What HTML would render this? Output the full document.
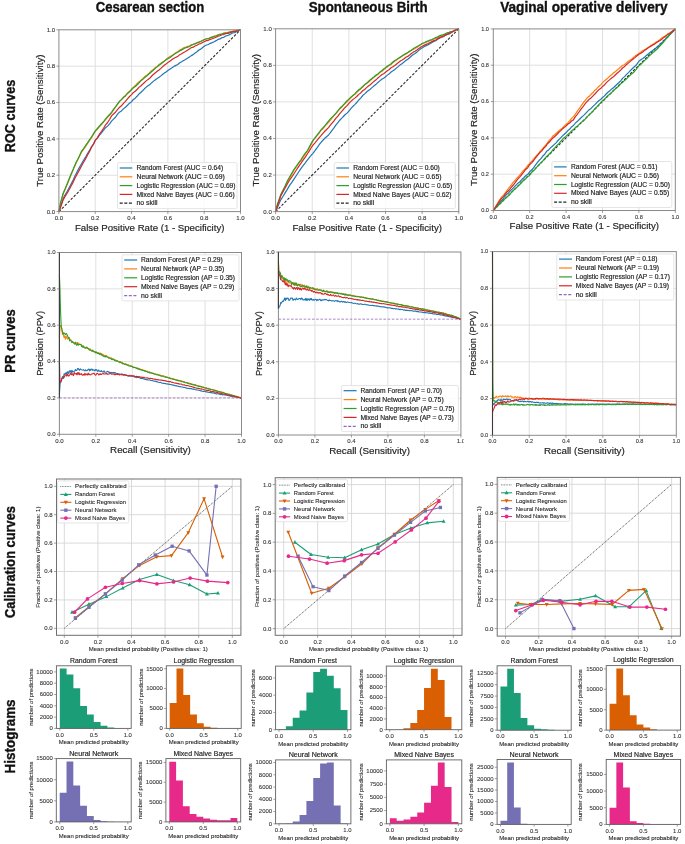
<!DOCTYPE html>
<html><head><meta charset="utf-8"><style>
html,body{margin:0;padding:0;background:#fff;width:685px;height:844px;overflow:hidden}
svg{display:block;font-family:"Liberation Sans", sans-serif;will-change:transform}
</style></head><body>
<svg width="685" height="844" viewBox="0 0 685 844">
<rect width="685" height="844" fill="#fff"/>
<text x="150.00" y="12.00" font-size="14.50" text-anchor="middle" fill="#111" font-weight="bold" textLength="108.50" lengthAdjust="spacingAndGlyphs" stroke="#111" stroke-width="0.35">Cesarean section</text>
<text x="368.20" y="12.00" font-size="14.50" text-anchor="middle" fill="#111" font-weight="bold" textLength="119.00" lengthAdjust="spacingAndGlyphs" stroke="#111" stroke-width="0.35">Spontaneous Birth</text>
<text x="583.90" y="12.00" font-size="14.50" text-anchor="middle" fill="#111" font-weight="bold" textLength="167.50" lengthAdjust="spacingAndGlyphs" stroke="#111" stroke-width="0.35">Vaginal operative delivery</text>
<text x="15.00" y="116.00" font-size="14.50" text-anchor="middle" fill="#111" font-weight="bold" transform="rotate(-90 15.00 116.00)" textLength="72.50" lengthAdjust="spacingAndGlyphs" stroke="#111" stroke-width="0.35">ROC curves</text>
<text x="15.00" y="341.00" font-size="14.50" text-anchor="middle" fill="#111" font-weight="bold" transform="rotate(-90 15.00 341.00)" textLength="63.50" lengthAdjust="spacingAndGlyphs" stroke="#111" stroke-width="0.35">PR curves</text>
<text x="15.00" y="562.00" font-size="14.50" text-anchor="middle" fill="#111" font-weight="bold" transform="rotate(-90 15.00 562.00)" textLength="112.00" lengthAdjust="spacingAndGlyphs" stroke="#111" stroke-width="0.35">Calibration curves</text>
<text x="15.50" y="736.40" font-size="14.50" text-anchor="middle" fill="#111" font-weight="bold" transform="rotate(-90 15.50 736.40)" textLength="74.00" lengthAdjust="spacingAndGlyphs" stroke="#111" stroke-width="0.35">Histograms</text>
<line x1="95.22" y1="29.8" x2="95.22" y2="211.6" stroke="#dcdcdc" stroke-width="0.9"/>
<line x1="131.54" y1="29.8" x2="131.54" y2="211.6" stroke="#dcdcdc" stroke-width="0.9"/>
<line x1="167.86" y1="29.8" x2="167.86" y2="211.6" stroke="#dcdcdc" stroke-width="0.9"/>
<line x1="204.18" y1="29.8" x2="204.18" y2="211.6" stroke="#dcdcdc" stroke-width="0.9"/>
<line x1="58.9" y1="175.24" x2="240.5" y2="175.24" stroke="#dcdcdc" stroke-width="0.9"/>
<line x1="58.9" y1="138.88" x2="240.5" y2="138.88" stroke="#dcdcdc" stroke-width="0.9"/>
<line x1="58.9" y1="102.52" x2="240.5" y2="102.52" stroke="#dcdcdc" stroke-width="0.9"/>
<line x1="58.9" y1="66.16" x2="240.5" y2="66.16" stroke="#dcdcdc" stroke-width="0.9"/>
<path d="M58.90,211.60 L240.50,29.80" fill="none" stroke="#2a2a2a" stroke-width="1.1" stroke-linejoin="round" stroke-dasharray="2.6 1.6" opacity="1"/>
<path d="M58.90,211.60 L61.08,204.98 L63.26,198.21 L65.26,194.53 L67.25,191.22 L69.25,187.64 L71.25,183.69 L73.29,179.72 L75.33,175.29 L77.38,171.33 L79.42,167.35 L81.42,163.97 L83.42,160.49 L85.41,157.45 L87.41,153.83 L89.41,150.67 L91.41,146.77 L93.40,144.01 L95.40,140.11 L97.44,138.09 L99.49,135.11 L101.53,132.81 L103.57,130.22 L105.57,127.73 L107.57,126.13 L109.57,123.92 L111.56,121.13 L113.52,119.19 L115.47,117.26 L117.42,114.40 L119.37,112.20 L121.40,110.94 L123.43,108.88 L125.46,107.23 L127.48,105.26 L129.51,103.19 L131.54,101.66 L133.38,99.50 L135.22,98.15 L137.06,96.27 L138.89,94.03 L140.73,92.52 L142.57,90.71 L144.41,88.80 L146.25,87.08 L148.08,85.74 L149.91,84.57 L151.74,82.68 L153.57,81.11 L155.41,79.69 L157.24,78.50 L159.07,77.30 L160.90,75.89 L162.73,74.26 L164.56,72.86 L166.39,71.83 L168.22,70.34 L170.15,69.06 L172.07,67.76 L173.99,66.36 L175.91,65.37 L177.83,64.50 L179.75,62.76 L181.68,61.83 L183.60,60.57 L185.52,59.58 L187.44,58.24 L189.36,57.07 L191.29,55.61 L193.18,54.66 L195.07,52.96 L196.97,51.81 L198.86,50.06 L200.76,49.10 L202.65,47.53 L204.54,46.08 L206.47,45.00 L208.39,44.50 L210.32,43.33 L212.24,42.61 L214.17,41.67 L216.09,40.65 L218.02,39.44 L219.94,38.87 L221.87,37.66 L223.79,37.29 L225.65,35.98 L227.51,35.55 L229.36,34.85 L231.22,33.68 L233.07,32.76 L234.93,32.55 L236.79,31.57 L238.64,30.43 L240.50,29.80" fill="none" stroke="#1f77b4" stroke-width="1.2" stroke-linejoin="round" opacity="1"/>
<path d="M58.90,211.60 L60.35,203.90 L63.26,193.60 L65.26,189.11 L67.25,184.50 L69.25,179.23 L71.25,174.22 L73.61,168.58 L75.97,163.56 L77.79,159.80 L79.60,156.09 L81.42,152.22 L83.42,149.60 L85.41,146.85 L87.41,143.61 L89.41,140.66 L91.41,137.88 L93.40,134.36 L95.40,131.26 L97.44,129.02 L99.49,126.60 L101.53,124.65 L103.57,121.99 L105.57,119.51 L107.57,117.30 L109.57,115.08 L111.56,112.98 L113.61,109.93 L115.65,106.99 L117.69,103.96 L119.74,101.10 L121.70,99.38 L123.67,97.05 L125.64,95.42 L127.61,92.97 L129.57,91.09 L131.54,89.41 L133.43,87.13 L135.32,85.57 L137.21,83.50 L139.09,81.82 L140.98,80.51 L143.03,78.37 L145.08,76.32 L147.13,74.96 L149.18,73.11 L151.23,70.94 L153.28,69.62 L155.33,67.57 L157.17,66.39 L159.01,64.49 L160.86,63.20 L162.70,62.04 L164.54,60.89 L166.38,59.32 L168.22,57.79 L170.22,56.20 L172.22,55.47 L174.22,53.87 L176.21,52.46 L178.21,51.27 L180.21,49.79 L182.21,48.68 L184.07,47.63 L185.93,47.12 L187.79,46.38 L189.65,45.71 L191.51,44.85 L193.37,44.24 L195.24,43.35 L197.10,42.79 L198.96,42.10 L200.82,41.34 L202.68,40.30 L204.54,39.51 L206.47,39.01 L208.39,38.66 L210.32,37.59 L212.24,36.89 L214.17,36.24 L216.09,35.68 L218.02,35.03 L219.94,34.39 L221.87,34.03 L223.79,33.51 L225.65,32.90 L227.51,32.78 L229.36,32.02 L231.22,31.59 L233.07,31.16 L234.93,30.95 L236.79,30.31 L238.64,30.15 L240.50,29.80" fill="none" stroke="#ff7f0e" stroke-width="1.2" stroke-linejoin="round" opacity="1"/>
<path d="M58.90,211.60 L60.35,203.61 L63.26,193.02 L65.26,188.42 L67.25,183.53 L69.25,178.42 L71.25,173.74 L73.61,168.41 L75.97,162.45 L77.79,159.23 L79.60,155.61 L81.42,151.43 L83.42,148.90 L85.41,145.73 L87.41,143.08 L89.41,139.92 L91.41,137.22 L93.40,133.83 L95.40,130.62 L97.44,128.50 L99.49,125.98 L101.53,123.67 L103.57,121.74 L105.57,118.88 L107.57,116.64 L109.57,114.48 L111.56,112.30 L113.61,109.08 L115.65,106.72 L117.69,103.91 L119.74,101.16 L121.70,99.34 L123.67,97.26 L125.64,95.69 L127.61,93.46 L129.57,91.77 L131.54,89.49 L133.43,87.75 L135.32,86.51 L137.21,84.70 L139.09,82.86 L140.98,80.56 L143.03,79.14 L145.08,77.21 L147.13,75.65 L149.18,73.71 L151.23,72.00 L153.28,70.24 L155.33,68.28 L157.17,66.88 L159.01,65.26 L160.86,64.01 L162.70,62.44 L164.54,61.08 L166.38,59.59 L168.22,58.41 L170.22,57.46 L172.22,55.68 L174.22,54.31 L176.21,53.05 L178.21,51.98 L180.21,50.59 L182.21,49.63 L184.07,48.39 L185.93,47.75 L187.79,47.13 L189.65,46.46 L191.51,45.10 L193.37,44.20 L195.24,43.99 L197.10,42.69 L198.96,42.13 L200.82,41.49 L202.68,40.57 L204.54,39.44 L206.47,38.75 L208.39,38.69 L210.32,37.69 L212.24,37.45 L214.17,36.38 L216.09,36.02 L218.02,35.04 L219.94,34.35 L221.87,34.05 L223.79,33.10 L225.65,33.16 L227.51,32.91 L229.36,32.16 L231.22,32.13 L233.07,31.62 L234.93,31.07 L236.79,30.54 L238.64,30.43 L240.50,29.80" fill="none" stroke="#2ca02c" stroke-width="1.2" stroke-linejoin="round" opacity="1"/>
<path d="M58.90,211.60 L61.08,205.71 L63.26,199.67 L65.26,196.12 L67.25,192.95 L69.25,189.50 L71.25,185.69 L73.29,181.86 L75.33,177.56 L77.38,173.74 L79.42,169.89 L81.42,166.24 L83.42,162.49 L85.41,159.18 L87.41,155.28 L89.41,151.76 L91.41,147.50 L93.40,144.38 L95.40,140.11 L97.44,137.59 L99.49,134.11 L101.53,131.31 L103.57,128.22 L105.57,124.91 L107.57,122.50 L109.57,119.47 L111.56,115.86 L113.52,114.06 L115.47,112.26 L117.42,109.54 L119.37,107.48 L121.40,105.82 L123.43,103.36 L125.46,101.32 L127.48,98.95 L129.51,96.50 L131.54,94.57 L133.38,92.52 L135.22,91.29 L137.06,89.52 L138.89,87.39 L140.73,86.00 L142.57,84.31 L144.41,82.50 L146.25,80.90 L148.08,79.39 L149.91,78.06 L151.74,76.00 L153.57,74.26 L155.41,72.68 L157.24,71.32 L159.07,69.96 L160.90,68.38 L162.73,66.57 L164.56,65.01 L166.39,63.82 L168.22,62.16 L170.15,60.89 L172.07,59.61 L173.99,58.22 L175.91,57.25 L177.83,56.39 L179.75,54.67 L181.68,53.75 L183.60,52.51 L185.52,51.53 L187.44,50.21 L189.36,49.06 L191.29,47.61 L193.18,47.16 L195.07,45.95 L196.97,45.29 L198.86,44.03 L200.76,43.56 L202.65,42.49 L204.54,41.54 L206.47,40.63 L208.39,40.32 L210.32,39.34 L212.24,38.79 L214.17,38.04 L216.09,37.20 L218.02,36.17 L219.94,35.78 L221.87,34.75 L223.79,34.57 L225.65,33.56 L227.51,33.43 L229.36,33.04 L231.22,32.16 L233.07,31.55 L234.93,31.64 L236.79,30.96 L238.64,30.13 L240.50,29.80" fill="none" stroke="#d62728" stroke-width="1.2" stroke-linejoin="round" opacity="1"/>
<rect x="58.9" y="29.8" width="181.60" height="181.80" fill="none" stroke="#8a8a8a" stroke-width="1.0"/>
<line x1="58.90" y1="211.6" x2="58.90" y2="214.1" stroke="#777" stroke-width="0.7"/>
<text x="58.90" y="219.81" font-size="5.72" text-anchor="middle" fill="#333" textLength="8.43" lengthAdjust="spacingAndGlyphs" stroke="#333" stroke-width="0.09">0.0</text>
<line x1="95.22" y1="211.6" x2="95.22" y2="214.1" stroke="#777" stroke-width="0.7"/>
<text x="95.22" y="219.81" font-size="5.72" text-anchor="middle" fill="#333" textLength="8.43" lengthAdjust="spacingAndGlyphs" stroke="#333" stroke-width="0.09">0.2</text>
<line x1="131.54" y1="211.6" x2="131.54" y2="214.1" stroke="#777" stroke-width="0.7"/>
<text x="131.54" y="219.81" font-size="5.72" text-anchor="middle" fill="#333" textLength="8.43" lengthAdjust="spacingAndGlyphs" stroke="#333" stroke-width="0.09">0.4</text>
<line x1="167.86" y1="211.6" x2="167.86" y2="214.1" stroke="#777" stroke-width="0.7"/>
<text x="167.86" y="219.81" font-size="5.72" text-anchor="middle" fill="#333" textLength="8.43" lengthAdjust="spacingAndGlyphs" stroke="#333" stroke-width="0.09">0.6</text>
<line x1="204.18" y1="211.6" x2="204.18" y2="214.1" stroke="#777" stroke-width="0.7"/>
<text x="204.18" y="219.81" font-size="5.72" text-anchor="middle" fill="#333" textLength="8.43" lengthAdjust="spacingAndGlyphs" stroke="#333" stroke-width="0.09">0.8</text>
<line x1="240.50" y1="211.6" x2="240.50" y2="214.1" stroke="#777" stroke-width="0.7"/>
<text x="240.50" y="219.81" font-size="5.72" text-anchor="middle" fill="#333" textLength="8.43" lengthAdjust="spacingAndGlyphs" stroke="#333" stroke-width="0.09">1.0</text>
<line x1="56.4" y1="211.60" x2="58.9" y2="211.60" stroke="#777" stroke-width="0.7"/>
<text x="55.10" y="213.51" font-size="5.72" text-anchor="end" fill="#333" textLength="8.43" lengthAdjust="spacingAndGlyphs" stroke="#333" stroke-width="0.09">0.0</text>
<line x1="56.4" y1="175.24" x2="58.9" y2="175.24" stroke="#777" stroke-width="0.7"/>
<text x="55.10" y="177.15" font-size="5.72" text-anchor="end" fill="#333" textLength="8.43" lengthAdjust="spacingAndGlyphs" stroke="#333" stroke-width="0.09">0.2</text>
<line x1="56.4" y1="138.88" x2="58.9" y2="138.88" stroke="#777" stroke-width="0.7"/>
<text x="55.10" y="140.79" font-size="5.72" text-anchor="end" fill="#333" textLength="8.43" lengthAdjust="spacingAndGlyphs" stroke="#333" stroke-width="0.09">0.4</text>
<line x1="56.4" y1="102.52" x2="58.9" y2="102.52" stroke="#777" stroke-width="0.7"/>
<text x="55.10" y="104.43" font-size="5.72" text-anchor="end" fill="#333" textLength="8.43" lengthAdjust="spacingAndGlyphs" stroke="#333" stroke-width="0.09">0.6</text>
<line x1="56.4" y1="66.16" x2="58.9" y2="66.16" stroke="#777" stroke-width="0.7"/>
<text x="55.10" y="68.07" font-size="5.72" text-anchor="end" fill="#333" textLength="8.43" lengthAdjust="spacingAndGlyphs" stroke="#333" stroke-width="0.09">0.8</text>
<line x1="56.4" y1="29.80" x2="58.9" y2="29.80" stroke="#777" stroke-width="0.7"/>
<text x="55.10" y="31.71" font-size="5.72" text-anchor="end" fill="#333" textLength="8.43" lengthAdjust="spacingAndGlyphs" stroke="#333" stroke-width="0.09">1.0</text>
<text x="149.70" y="230.50" font-size="9.40" text-anchor="middle" fill="#262626" textLength="149.46" lengthAdjust="spacingAndGlyphs" stroke="#262626" stroke-width="0.18">False Positive Rate (1 - Specificity)</text>
<text x="42.60" y="120.70" font-size="9.40" text-anchor="middle" fill="#262626" transform="rotate(-90 42.60 120.70)" textLength="132.35" lengthAdjust="spacingAndGlyphs" stroke="#262626" stroke-width="0.18">True Positive Rate (Sensitivity)</text>
<rect x="117.50" y="162.60" width="119.50" height="46.00" rx="1.5" fill="#fff" fill-opacity="0.85" stroke="#dedede" stroke-width="0.8"/>
<line x1="119.70" y1="168.00" x2="132.30" y2="168.00" stroke="#1f77b4" stroke-width="1.2"/>
<text x="136.50" y="170.16" font-size="6.48" text-anchor="start" fill="#262626" textLength="86.64" lengthAdjust="spacingAndGlyphs" stroke="#262626" stroke-width="0.18">Random Forest (AUC = 0.64)</text>
<line x1="119.70" y1="176.80" x2="132.30" y2="176.80" stroke="#ff7f0e" stroke-width="1.2"/>
<text x="136.50" y="178.96" font-size="6.48" text-anchor="start" fill="#262626" textLength="88.23" lengthAdjust="spacingAndGlyphs" stroke="#262626" stroke-width="0.18">Neural Network (AUC = 0.69)</text>
<line x1="119.70" y1="185.60" x2="132.30" y2="185.60" stroke="#2ca02c" stroke-width="1.2"/>
<text x="136.50" y="187.76" font-size="6.48" text-anchor="start" fill="#262626" textLength="99.03" lengthAdjust="spacingAndGlyphs" stroke="#262626" stroke-width="0.18">Logistic Regression (AUC = 0.69)</text>
<line x1="119.70" y1="194.40" x2="132.30" y2="194.40" stroke="#d62728" stroke-width="1.2"/>
<text x="136.50" y="196.56" font-size="6.48" text-anchor="start" fill="#262626" textLength="98.24" lengthAdjust="spacingAndGlyphs" stroke="#262626" stroke-width="0.18">Mixed Naive Bayes (AUC = 0.66)</text>
<line x1="119.70" y1="203.20" x2="132.30" y2="203.20" stroke="#222" stroke-width="1.2" stroke-dasharray="3.0 1.6"/>
<text x="136.50" y="205.36" font-size="6.48" text-anchor="start" fill="#262626" textLength="20.98" lengthAdjust="spacingAndGlyphs" stroke="#262626" stroke-width="0.18">no skill</text>
<line x1="312.24" y1="28.8" x2="312.24" y2="211.6" stroke="#dcdcdc" stroke-width="0.9"/>
<line x1="348.88" y1="28.8" x2="348.88" y2="211.6" stroke="#dcdcdc" stroke-width="0.9"/>
<line x1="385.52" y1="28.8" x2="385.52" y2="211.6" stroke="#dcdcdc" stroke-width="0.9"/>
<line x1="422.16" y1="28.8" x2="422.16" y2="211.6" stroke="#dcdcdc" stroke-width="0.9"/>
<line x1="275.6" y1="175.04" x2="458.8" y2="175.04" stroke="#dcdcdc" stroke-width="0.9"/>
<line x1="275.6" y1="138.48" x2="458.8" y2="138.48" stroke="#dcdcdc" stroke-width="0.9"/>
<line x1="275.6" y1="101.92" x2="458.8" y2="101.92" stroke="#dcdcdc" stroke-width="0.9"/>
<line x1="275.6" y1="65.36" x2="458.8" y2="65.36" stroke="#dcdcdc" stroke-width="0.9"/>
<path d="M275.60,211.60 L458.80,28.80" fill="none" stroke="#2a2a2a" stroke-width="1.1" stroke-linejoin="round" stroke-dasharray="2.6 1.6" opacity="1"/>
<path d="M275.60,211.60 L278.16,205.71 L280.73,199.88 L282.93,196.47 L285.13,192.89 L287.32,189.38 L289.58,185.40 L291.84,182.38 L294.10,178.95 L296.36,175.46 L298.62,172.04 L300.88,168.58 L303.08,165.70 L305.28,162.89 L307.48,159.81 L309.31,157.63 L311.14,155.25 L312.97,153.32 L314.99,150.71 L317.00,147.92 L319.02,144.98 L321.03,142.40 L322.90,140.25 L324.77,138.30 L326.64,136.68 L328.51,135.00 L330.38,132.65 L332.25,130.03 L334.13,127.68 L336.01,124.89 L337.89,122.54 L339.72,120.21 L341.55,118.38 L343.38,116.52 L345.22,114.52 L347.05,113.14 L348.88,111.03 L350.85,108.70 L352.82,106.46 L354.79,104.56 L356.76,102.54 L358.73,100.00 L360.70,98.17 L362.67,95.56 L364.64,93.85 L366.53,92.00 L368.43,90.43 L370.33,89.14 L372.23,87.34 L374.13,85.78 L376.03,84.33 L377.93,82.42 L379.82,80.89 L381.72,79.33 L383.62,78.23 L385.52,76.84 L387.37,75.13 L389.23,73.85 L391.08,71.98 L392.94,70.82 L394.79,69.45 L396.65,67.88 L398.50,66.34 L400.36,64.65 L402.21,63.39 L404.05,62.05 L405.90,60.35 L407.75,59.33 L409.60,57.77 L411.44,56.00 L413.29,54.51 L415.14,53.50 L416.98,52.08 L418.83,50.34 L420.68,48.79 L422.53,47.77 L424.41,46.48 L426.30,45.59 L428.19,44.71 L430.07,43.65 L431.96,42.56 L433.85,41.44 L435.74,40.67 L437.62,39.32 L439.51,38.14 L441.40,37.27 L443.33,36.73 L445.26,35.38 L447.20,34.44 L449.13,33.90 L451.06,32.70 L453.00,31.56 L454.93,30.41 L456.87,29.47 L458.80,28.80" fill="none" stroke="#1f77b4" stroke-width="1.2" stroke-linejoin="round" opacity="1"/>
<path d="M275.60,211.60 L277.43,204.97 L280.73,195.59 L282.93,190.71 L285.13,186.62 L287.32,181.78 L289.58,177.88 L291.84,174.08 L294.10,169.73 L296.36,166.90 L298.62,163.45 L300.88,160.54 L303.08,157.42 L305.28,154.07 L307.48,150.68 L309.31,147.83 L311.14,144.41 L312.97,140.77 L314.99,137.98 L317.00,135.68 L319.02,133.25 L321.03,130.28 L322.90,128.79 L324.77,126.05 L326.64,124.30 L328.51,122.24 L330.38,120.11 L332.39,117.64 L334.41,114.95 L336.42,113.07 L338.44,110.45 L340.53,108.22 L342.61,106.21 L344.70,103.90 L346.79,102.04 L348.88,99.85 L350.85,97.94 L352.82,95.81 L354.79,94.18 L356.76,92.45 L358.73,90.46 L360.70,88.75 L362.67,87.05 L364.64,84.90 L366.53,83.42 L368.43,82.19 L370.33,80.41 L372.23,78.90 L374.13,77.12 L376.03,75.67 L377.93,74.43 L379.82,72.41 L381.72,71.46 L383.62,69.70 L385.52,67.92 L387.37,66.99 L389.23,65.41 L391.08,64.37 L392.94,62.59 L394.79,61.18 L396.65,59.96 L398.50,58.41 L400.36,57.44 L402.21,56.06 L404.05,55.00 L405.90,53.88 L407.75,52.84 L409.60,51.45 L411.44,50.25 L413.29,49.44 L415.14,48.19 L416.98,47.47 L418.83,45.91 L420.68,44.82 L422.53,43.46 L424.41,42.77 L426.30,42.33 L428.19,41.45 L430.07,40.46 L431.96,40.09 L433.85,38.99 L435.74,38.38 L437.62,37.61 L439.51,36.85 L441.40,35.57 L443.33,35.22 L445.26,34.37 L447.20,33.50 L449.13,32.41 L451.06,32.17 L453.00,31.15 L454.93,30.31 L456.87,29.32 L458.80,28.80" fill="none" stroke="#ff7f0e" stroke-width="1.2" stroke-linejoin="round" opacity="1"/>
<path d="M275.60,211.60 L277.43,204.24 L280.73,194.83 L282.93,190.22 L285.13,185.98 L287.32,181.03 L289.58,177.00 L291.84,173.10 L294.10,169.44 L296.36,166.01 L298.62,162.98 L300.88,159.87 L303.08,156.25 L305.28,153.11 L307.48,150.69 L309.31,146.75 L311.14,143.59 L312.97,140.39 L314.99,137.90 L317.00,135.06 L319.02,132.66 L321.03,129.94 L322.90,127.80 L324.77,126.02 L326.64,123.41 L328.51,121.10 L330.38,118.95 L332.39,116.87 L334.41,114.95 L336.42,112.64 L338.44,110.22 L340.53,107.46 L342.61,105.71 L344.70,103.48 L346.79,100.91 L348.88,99.13 L350.85,97.16 L352.82,95.43 L354.79,93.88 L356.76,91.72 L358.73,89.73 L360.70,88.40 L362.67,86.55 L364.64,84.61 L366.53,83.33 L368.43,81.47 L370.33,79.70 L372.23,78.26 L374.13,76.80 L376.03,75.04 L377.93,73.98 L379.82,72.14 L381.72,70.73 L383.62,69.03 L385.52,67.82 L387.37,66.02 L389.23,65.13 L391.08,63.74 L392.94,61.95 L394.79,60.51 L396.65,59.51 L398.50,58.18 L400.36,56.94 L402.21,55.79 L404.05,54.43 L405.90,53.61 L407.75,52.52 L409.60,51.16 L411.44,50.23 L413.29,48.78 L415.14,47.53 L416.98,46.44 L418.83,45.51 L420.68,44.47 L422.53,43.29 L424.41,42.77 L426.30,41.49 L428.19,40.94 L430.07,40.15 L431.96,39.50 L433.85,38.45 L435.74,37.56 L437.62,36.88 L439.51,35.76 L441.40,35.08 L443.33,34.66 L445.26,33.76 L447.20,32.79 L449.13,32.34 L451.06,31.58 L453.00,31.22 L454.93,30.23 L456.87,29.54 L458.80,28.80" fill="none" stroke="#2ca02c" stroke-width="1.2" stroke-linejoin="round" opacity="1"/>
<path d="M275.60,211.60 L278.16,203.70 L280.73,195.85 L282.93,192.03 L285.13,188.01 L287.32,184.07 L289.58,180.04 L291.84,176.96 L294.10,173.47 L296.36,170.03 L298.62,166.68 L300.88,163.28 L303.08,160.16 L305.28,157.10 L307.48,153.78 L309.31,150.86 L311.14,147.75 L312.97,145.09 L314.99,142.85 L317.00,140.43 L319.02,137.86 L321.03,135.63 L322.90,133.34 L324.77,131.24 L326.64,129.47 L328.51,127.65 L330.38,125.16 L332.25,122.81 L334.13,120.73 L336.01,118.21 L337.89,116.14 L339.72,113.60 L341.55,111.56 L343.38,109.48 L345.22,107.27 L347.05,105.67 L348.88,103.35 L350.85,101.44 L352.82,99.61 L354.79,98.11 L356.76,96.51 L358.73,94.38 L360.70,92.96 L362.67,90.76 L364.64,89.47 L366.53,87.59 L368.43,86.01 L370.33,84.70 L372.23,82.89 L374.13,81.31 L376.03,79.84 L377.93,77.92 L379.82,76.37 L381.72,74.80 L383.62,73.68 L385.52,72.27 L387.37,70.68 L389.23,69.51 L391.08,67.76 L392.94,66.71 L394.79,65.45 L396.65,64.00 L398.50,62.57 L400.36,60.99 L402.21,59.92 L404.05,58.76 L405.90,57.24 L407.75,56.41 L409.60,55.03 L411.44,53.44 L413.29,52.13 L415.14,51.31 L416.98,50.07 L418.83,48.51 L420.68,47.14 L422.53,46.31 L424.41,45.13 L426.30,44.34 L428.19,43.58 L430.07,42.62 L431.96,41.65 L433.85,40.63 L435.74,39.97 L437.62,38.74 L439.51,37.67 L441.40,36.90 L443.33,36.40 L445.26,35.10 L447.20,34.19 L449.13,33.70 L451.06,32.53 L453.00,31.44 L454.93,30.33 L456.87,29.43 L458.80,28.80" fill="none" stroke="#d62728" stroke-width="1.2" stroke-linejoin="round" opacity="1"/>
<rect x="275.6" y="28.8" width="183.20" height="182.80" fill="none" stroke="#8a8a8a" stroke-width="1.0"/>
<line x1="275.60" y1="211.6" x2="275.60" y2="214.1" stroke="#777" stroke-width="0.7"/>
<text x="275.60" y="219.81" font-size="5.72" text-anchor="middle" fill="#333" textLength="8.43" lengthAdjust="spacingAndGlyphs" stroke="#333" stroke-width="0.09">0.0</text>
<line x1="312.24" y1="211.6" x2="312.24" y2="214.1" stroke="#777" stroke-width="0.7"/>
<text x="312.24" y="219.81" font-size="5.72" text-anchor="middle" fill="#333" textLength="8.43" lengthAdjust="spacingAndGlyphs" stroke="#333" stroke-width="0.09">0.2</text>
<line x1="348.88" y1="211.6" x2="348.88" y2="214.1" stroke="#777" stroke-width="0.7"/>
<text x="348.88" y="219.81" font-size="5.72" text-anchor="middle" fill="#333" textLength="8.43" lengthAdjust="spacingAndGlyphs" stroke="#333" stroke-width="0.09">0.4</text>
<line x1="385.52" y1="211.6" x2="385.52" y2="214.1" stroke="#777" stroke-width="0.7"/>
<text x="385.52" y="219.81" font-size="5.72" text-anchor="middle" fill="#333" textLength="8.43" lengthAdjust="spacingAndGlyphs" stroke="#333" stroke-width="0.09">0.6</text>
<line x1="422.16" y1="211.6" x2="422.16" y2="214.1" stroke="#777" stroke-width="0.7"/>
<text x="422.16" y="219.81" font-size="5.72" text-anchor="middle" fill="#333" textLength="8.43" lengthAdjust="spacingAndGlyphs" stroke="#333" stroke-width="0.09">0.8</text>
<line x1="458.80" y1="211.6" x2="458.80" y2="214.1" stroke="#777" stroke-width="0.7"/>
<text x="458.80" y="219.81" font-size="5.72" text-anchor="middle" fill="#333" textLength="8.43" lengthAdjust="spacingAndGlyphs" stroke="#333" stroke-width="0.09">1.0</text>
<line x1="273.1" y1="211.60" x2="275.6" y2="211.60" stroke="#777" stroke-width="0.7"/>
<text x="271.80" y="213.51" font-size="5.72" text-anchor="end" fill="#333" textLength="8.43" lengthAdjust="spacingAndGlyphs" stroke="#333" stroke-width="0.09">0.0</text>
<line x1="273.1" y1="175.04" x2="275.6" y2="175.04" stroke="#777" stroke-width="0.7"/>
<text x="271.80" y="176.95" font-size="5.72" text-anchor="end" fill="#333" textLength="8.43" lengthAdjust="spacingAndGlyphs" stroke="#333" stroke-width="0.09">0.2</text>
<line x1="273.1" y1="138.48" x2="275.6" y2="138.48" stroke="#777" stroke-width="0.7"/>
<text x="271.80" y="140.39" font-size="5.72" text-anchor="end" fill="#333" textLength="8.43" lengthAdjust="spacingAndGlyphs" stroke="#333" stroke-width="0.09">0.4</text>
<line x1="273.1" y1="101.92" x2="275.6" y2="101.92" stroke="#777" stroke-width="0.7"/>
<text x="271.80" y="103.83" font-size="5.72" text-anchor="end" fill="#333" textLength="8.43" lengthAdjust="spacingAndGlyphs" stroke="#333" stroke-width="0.09">0.6</text>
<line x1="273.1" y1="65.36" x2="275.6" y2="65.36" stroke="#777" stroke-width="0.7"/>
<text x="271.80" y="67.27" font-size="5.72" text-anchor="end" fill="#333" textLength="8.43" lengthAdjust="spacingAndGlyphs" stroke="#333" stroke-width="0.09">0.8</text>
<line x1="273.1" y1="28.80" x2="275.6" y2="28.80" stroke="#777" stroke-width="0.7"/>
<text x="271.80" y="30.71" font-size="5.72" text-anchor="end" fill="#333" textLength="8.43" lengthAdjust="spacingAndGlyphs" stroke="#333" stroke-width="0.09">1.0</text>
<text x="367.20" y="230.50" font-size="9.40" text-anchor="middle" fill="#262626" textLength="149.46" lengthAdjust="spacingAndGlyphs" stroke="#262626" stroke-width="0.18">False Positive Rate (1 - Specificity)</text>
<text x="259.30" y="120.20" font-size="9.40" text-anchor="middle" fill="#262626" transform="rotate(-90 259.30 120.20)" textLength="132.35" lengthAdjust="spacingAndGlyphs" stroke="#262626" stroke-width="0.18">True Positive Rate (Sensitivity)</text>
<rect x="334.20" y="162.60" width="121.10" height="46.00" rx="1.5" fill="#fff" fill-opacity="0.85" stroke="#dedede" stroke-width="0.8"/>
<line x1="336.40" y1="168.00" x2="349.00" y2="168.00" stroke="#1f77b4" stroke-width="1.2"/>
<text x="353.20" y="170.16" font-size="6.48" text-anchor="start" fill="#262626" textLength="86.64" lengthAdjust="spacingAndGlyphs" stroke="#262626" stroke-width="0.18">Random Forest (AUC = 0.60)</text>
<line x1="336.40" y1="176.80" x2="349.00" y2="176.80" stroke="#ff7f0e" stroke-width="1.2"/>
<text x="353.20" y="178.96" font-size="6.48" text-anchor="start" fill="#262626" textLength="88.23" lengthAdjust="spacingAndGlyphs" stroke="#262626" stroke-width="0.18">Neural Network (AUC = 0.65)</text>
<line x1="336.40" y1="185.60" x2="349.00" y2="185.60" stroke="#2ca02c" stroke-width="1.2"/>
<text x="353.20" y="187.76" font-size="6.48" text-anchor="start" fill="#262626" textLength="99.03" lengthAdjust="spacingAndGlyphs" stroke="#262626" stroke-width="0.18">Logistic Regression (AUC = 0.65)</text>
<line x1="336.40" y1="194.40" x2="349.00" y2="194.40" stroke="#d62728" stroke-width="1.2"/>
<text x="353.20" y="196.56" font-size="6.48" text-anchor="start" fill="#262626" textLength="98.24" lengthAdjust="spacingAndGlyphs" stroke="#262626" stroke-width="0.18">Mixed Naive Bayes (AUC = 0.62)</text>
<line x1="336.40" y1="203.20" x2="349.00" y2="203.20" stroke="#222" stroke-width="1.2" stroke-dasharray="3.0 1.6"/>
<text x="353.20" y="205.36" font-size="6.48" text-anchor="start" fill="#262626" textLength="20.98" lengthAdjust="spacingAndGlyphs" stroke="#262626" stroke-width="0.18">no skill</text>
<line x1="529.70" y1="28.9" x2="529.70" y2="210.5" stroke="#dcdcdc" stroke-width="0.9"/>
<line x1="566.10" y1="28.9" x2="566.10" y2="210.5" stroke="#dcdcdc" stroke-width="0.9"/>
<line x1="602.50" y1="28.9" x2="602.50" y2="210.5" stroke="#dcdcdc" stroke-width="0.9"/>
<line x1="638.90" y1="28.9" x2="638.90" y2="210.5" stroke="#dcdcdc" stroke-width="0.9"/>
<line x1="493.3" y1="174.18" x2="675.3" y2="174.18" stroke="#dcdcdc" stroke-width="0.9"/>
<line x1="493.3" y1="137.86" x2="675.3" y2="137.86" stroke="#dcdcdc" stroke-width="0.9"/>
<line x1="493.3" y1="101.54" x2="675.3" y2="101.54" stroke="#dcdcdc" stroke-width="0.9"/>
<line x1="493.3" y1="65.22" x2="675.3" y2="65.22" stroke="#dcdcdc" stroke-width="0.9"/>
<path d="M493.30,210.50 L675.30,28.90" fill="none" stroke="#2a2a2a" stroke-width="1.1" stroke-linejoin="round" stroke-dasharray="2.6 1.6" opacity="1"/>
<path d="M493.30,210.50 L495.17,208.06 L497.04,206.20 L498.92,203.94 L500.79,201.40 L502.66,199.54 L504.53,196.76 L506.40,194.51 L508.33,193.17 L510.26,190.85 L512.18,189.11 L514.11,187.16 L516.03,185.07 L517.96,183.18 L519.89,181.74 L521.81,179.56 L523.74,177.74 L525.67,175.75 L527.59,174.56 L529.52,172.05 L531.42,170.26 L533.32,168.03 L535.22,165.39 L537.12,162.92 L539.02,160.54 L540.92,158.66 L542.82,156.03 L544.73,154.29 L546.63,151.33 L548.56,149.92 L550.48,147.85 L552.41,146.26 L554.34,144.43 L556.27,142.56 L558.20,140.26 L560.13,138.40 L562.06,136.33 L563.99,134.42 L565.92,132.83 L567.87,130.59 L569.81,129.10 L571.76,126.68 L573.71,125.18 L575.65,122.75 L577.60,121.20 L579.55,119.22 L581.50,117.22 L583.44,115.59 L585.39,113.64 L587.29,111.56 L589.19,109.69 L591.09,108.39 L593.00,106.39 L594.90,104.66 L596.80,102.62 L598.70,100.72 L600.60,99.58 L602.50,97.51 L604.32,96.14 L606.14,93.99 L607.96,92.20 L609.78,90.68 L611.60,89.09 L613.42,87.78 L615.24,86.06 L617.06,84.28 L618.95,82.50 L620.85,80.58 L622.74,78.13 L624.63,76.65 L626.52,74.39 L628.42,72.60 L630.31,70.70 L632.20,68.72 L634.10,66.98 L635.99,65.32 L638.90,61.25 L640.83,59.81 L642.76,58.56 L644.69,57.06 L646.62,55.22 L648.55,53.76 L650.48,51.98 L652.40,50.72 L654.33,49.10 L656.26,47.84 L658.19,46.28 L660.09,44.19 L661.99,42.77 L663.89,40.84 L665.80,38.63 L667.70,36.79 L669.60,34.76 L671.50,33.06 L673.40,31.05 L675.30,28.90" fill="none" stroke="#1f77b4" stroke-width="1.2" stroke-linejoin="round" opacity="1"/>
<path d="M493.30,210.50 L495.42,207.27 L497.55,203.33 L499.67,199.86 L501.59,197.16 L503.52,195.15 L505.44,192.67 L507.37,189.84 L509.29,187.40 L511.21,185.17 L513.14,182.40 L514.96,180.51 L516.78,178.14 L518.60,176.51 L520.42,174.34 L522.24,171.75 L524.06,170.04 L525.88,168.02 L527.70,165.53 L529.52,163.55 L531.59,161.50 L533.67,158.82 L535.74,156.34 L537.82,154.30 L539.89,151.55 L541.79,149.70 L543.69,147.31 L545.59,145.26 L547.48,142.95 L549.38,140.17 L551.28,138.34 L553.18,135.70 L555.00,134.45 L556.82,132.70 L558.64,130.88 L560.46,129.38 L562.28,128.14 L564.10,126.18 L565.92,124.51 L567.78,122.83 L569.65,120.89 L571.51,118.35 L573.38,116.60 L575.38,114.04 L577.38,111.08 L579.39,108.45 L581.39,105.27 L583.39,102.69 L585.39,100.18 L587.29,97.77 L589.19,96.35 L591.09,94.31 L593.00,92.56 L594.90,90.16 L596.80,88.67 L598.70,86.47 L600.60,84.85 L602.50,82.67 L604.32,80.94 L606.14,79.45 L607.96,77.92 L609.78,76.31 L611.60,74.75 L613.42,73.05 L615.24,71.81 L617.06,69.96 L618.88,68.74 L620.70,66.94 L622.52,65.51 L624.34,64.73 L626.16,63.30 L627.98,61.54 L629.80,60.25 L631.62,59.25 L633.44,57.41 L635.26,55.87 L637.08,54.84 L638.90,53.52 L640.83,52.10 L642.76,50.58 L644.69,49.76 L646.62,48.46 L648.55,47.27 L650.48,45.70 L652.40,44.54 L654.33,43.41 L656.26,42.05 L658.19,41.01 L660.09,39.52 L661.99,37.76 L663.89,36.71 L665.80,35.60 L667.70,33.86 L669.60,32.93 L671.50,31.69 L673.40,30.52 L675.30,28.90" fill="none" stroke="#ff7f0e" stroke-width="1.2" stroke-linejoin="round" opacity="1"/>
<path d="M493.30,210.50 L495.12,208.67 L496.94,206.65 L498.76,204.72 L500.58,203.39 L502.40,201.23 L504.22,199.46 L506.04,197.67 L507.86,196.25 L509.68,194.50 L511.50,192.42 L513.50,190.25 L515.50,188.68 L517.51,186.59 L519.51,184.80 L521.51,182.51 L523.51,180.52 L525.51,178.99 L527.52,176.65 L529.52,175.40 L531.34,172.91 L533.16,170.92 L534.98,169.48 L536.80,167.13 L538.62,165.29 L540.44,163.05 L542.26,161.63 L544.08,159.44 L545.90,157.25 L547.72,155.47 L549.54,153.75 L551.36,151.96 L553.18,149.40 L555.00,147.78 L556.82,145.46 L558.64,144.10 L560.46,141.68 L562.28,139.73 L564.10,137.70 L565.92,136.38 L567.87,134.43 L569.81,132.94 L571.76,130.75 L573.71,129.32 L575.65,127.19 L577.60,125.89 L579.55,123.90 L581.50,122.13 L583.44,120.86 L585.39,118.93 L587.29,116.64 L589.19,114.92 L591.09,113.02 L593.00,111.06 L594.90,108.69 L596.80,107.08 L598.70,104.78 L600.60,102.79 L602.50,100.78 L604.32,99.39 L606.14,97.35 L607.96,95.49 L609.78,94.22 L611.60,92.53 L613.42,90.46 L615.24,89.00 L617.06,87.53 L618.95,85.96 L620.85,83.72 L622.74,82.25 L624.63,80.42 L626.52,78.81 L628.42,76.83 L630.31,75.02 L632.20,73.56 L634.10,71.97 L635.99,69.61 L638.90,65.67 L640.83,64.45 L642.76,62.27 L644.69,60.37 L646.62,58.75 L648.55,56.71 L650.48,54.74 L652.40,53.17 L654.33,51.49 L656.26,49.80 L658.19,47.95 L660.09,45.92 L661.99,43.85 L663.89,41.68 L665.80,39.17 L667.70,37.27 L669.60,34.99 L671.50,32.82 L673.40,30.79 L675.30,28.90" fill="none" stroke="#2ca02c" stroke-width="1.2" stroke-linejoin="round" opacity="1"/>
<path d="M493.30,210.50 L495.42,207.05 L497.55,204.18 L499.67,200.91 L501.59,198.42 L503.52,196.60 L505.44,193.88 L507.37,191.68 L509.29,190.00 L511.21,187.33 L513.14,185.26 L514.96,182.92 L516.78,180.45 L518.60,178.19 L520.42,176.36 L522.24,173.81 L524.06,171.61 L525.88,169.24 L527.70,167.68 L529.52,164.79 L531.59,162.86 L533.67,160.50 L535.74,157.73 L537.82,155.13 L539.89,152.61 L541.79,150.82 L543.69,148.29 L545.59,146.65 L547.48,143.78 L549.38,142.05 L551.28,139.67 L553.18,137.76 L555.00,136.18 L556.82,134.57 L558.64,132.52 L560.46,130.92 L562.28,129.10 L564.10,127.45 L565.92,126.11 L567.78,124.22 L569.65,123.09 L571.51,121.02 L573.38,119.87 L575.38,116.64 L577.38,114.27 L579.39,111.49 L581.39,108.67 L583.39,106.23 L585.39,103.47 L587.29,101.29 L589.19,99.31 L591.09,97.92 L593.00,95.81 L594.90,93.98 L596.80,91.84 L598.70,89.84 L600.60,88.60 L602.50,86.44 L604.32,85.06 L606.14,82.91 L607.96,81.13 L609.78,79.61 L611.60,78.01 L613.42,76.70 L615.24,74.98 L617.06,73.21 L618.88,71.74 L620.70,70.13 L622.52,68.00 L624.34,66.84 L626.16,64.88 L627.98,63.41 L629.80,61.83 L631.62,60.16 L633.44,58.73 L635.26,57.39 L637.08,55.74 L638.90,54.22 L640.83,53.20 L642.76,51.94 L644.69,50.34 L646.62,49.12 L648.55,47.56 L650.48,46.54 L652.40,45.16 L654.33,44.13 L656.26,42.81 L658.19,41.40 L660.09,40.51 L661.99,39.11 L663.89,37.42 L665.80,36.10 L667.70,34.60 L669.60,33.42 L671.50,31.94 L673.40,30.58 L675.30,28.90" fill="none" stroke="#d62728" stroke-width="1.2" stroke-linejoin="round" opacity="1"/>
<rect x="493.3" y="28.9" width="182.00" height="181.60" fill="none" stroke="#8a8a8a" stroke-width="1.0"/>
<line x1="493.30" y1="210.5" x2="493.30" y2="213.0" stroke="#777" stroke-width="0.7"/>
<text x="493.30" y="218.56" font-size="5.29" text-anchor="middle" fill="#333" textLength="7.79" lengthAdjust="spacingAndGlyphs" stroke="#333" stroke-width="0.09">0.0</text>
<line x1="529.70" y1="210.5" x2="529.70" y2="213.0" stroke="#777" stroke-width="0.7"/>
<text x="529.70" y="218.56" font-size="5.29" text-anchor="middle" fill="#333" textLength="7.79" lengthAdjust="spacingAndGlyphs" stroke="#333" stroke-width="0.09">0.2</text>
<line x1="566.10" y1="210.5" x2="566.10" y2="213.0" stroke="#777" stroke-width="0.7"/>
<text x="566.10" y="218.56" font-size="5.29" text-anchor="middle" fill="#333" textLength="7.79" lengthAdjust="spacingAndGlyphs" stroke="#333" stroke-width="0.09">0.4</text>
<line x1="602.50" y1="210.5" x2="602.50" y2="213.0" stroke="#777" stroke-width="0.7"/>
<text x="602.50" y="218.56" font-size="5.29" text-anchor="middle" fill="#333" textLength="7.79" lengthAdjust="spacingAndGlyphs" stroke="#333" stroke-width="0.09">0.6</text>
<line x1="638.90" y1="210.5" x2="638.90" y2="213.0" stroke="#777" stroke-width="0.7"/>
<text x="638.90" y="218.56" font-size="5.29" text-anchor="middle" fill="#333" textLength="7.79" lengthAdjust="spacingAndGlyphs" stroke="#333" stroke-width="0.09">0.8</text>
<line x1="675.30" y1="210.5" x2="675.30" y2="213.0" stroke="#777" stroke-width="0.7"/>
<text x="675.30" y="218.56" font-size="5.29" text-anchor="middle" fill="#333" textLength="7.79" lengthAdjust="spacingAndGlyphs" stroke="#333" stroke-width="0.09">1.0</text>
<line x1="490.8" y1="210.50" x2="493.3" y2="210.50" stroke="#777" stroke-width="0.7"/>
<text x="489.00" y="212.26" font-size="5.29" text-anchor="end" fill="#333" textLength="7.79" lengthAdjust="spacingAndGlyphs" stroke="#333" stroke-width="0.09">0.0</text>
<line x1="490.8" y1="174.18" x2="493.3" y2="174.18" stroke="#777" stroke-width="0.7"/>
<text x="489.00" y="175.94" font-size="5.29" text-anchor="end" fill="#333" textLength="7.79" lengthAdjust="spacingAndGlyphs" stroke="#333" stroke-width="0.09">0.2</text>
<line x1="490.8" y1="137.86" x2="493.3" y2="137.86" stroke="#777" stroke-width="0.7"/>
<text x="489.00" y="139.62" font-size="5.29" text-anchor="end" fill="#333" textLength="7.79" lengthAdjust="spacingAndGlyphs" stroke="#333" stroke-width="0.09">0.4</text>
<line x1="490.8" y1="101.54" x2="493.3" y2="101.54" stroke="#777" stroke-width="0.7"/>
<text x="489.00" y="103.30" font-size="5.29" text-anchor="end" fill="#333" textLength="7.79" lengthAdjust="spacingAndGlyphs" stroke="#333" stroke-width="0.09">0.6</text>
<line x1="490.8" y1="65.22" x2="493.3" y2="65.22" stroke="#777" stroke-width="0.7"/>
<text x="489.00" y="66.98" font-size="5.29" text-anchor="end" fill="#333" textLength="7.79" lengthAdjust="spacingAndGlyphs" stroke="#333" stroke-width="0.09">0.8</text>
<line x1="490.8" y1="28.90" x2="493.3" y2="28.90" stroke="#777" stroke-width="0.7"/>
<text x="489.00" y="30.66" font-size="5.29" text-anchor="end" fill="#333" textLength="7.79" lengthAdjust="spacingAndGlyphs" stroke="#333" stroke-width="0.09">1.0</text>
<text x="584.30" y="229.40" font-size="9.40" text-anchor="middle" fill="#262626" textLength="149.46" lengthAdjust="spacingAndGlyphs" stroke="#262626" stroke-width="0.18">False Positive Rate (1 - Specificity)</text>
<text x="477.00" y="119.70" font-size="9.40" text-anchor="middle" fill="#262626" transform="rotate(-90 477.00 119.70)" textLength="132.35" lengthAdjust="spacingAndGlyphs" stroke="#262626" stroke-width="0.18">True Positive Rate (Sensitivity)</text>
<rect x="551.90" y="161.50" width="119.90" height="46.00" rx="1.5" fill="#fff" fill-opacity="0.85" stroke="#dedede" stroke-width="0.8"/>
<line x1="554.10" y1="166.90" x2="566.70" y2="166.90" stroke="#1f77b4" stroke-width="1.2"/>
<text x="570.90" y="169.06" font-size="6.48" text-anchor="start" fill="#262626" textLength="86.64" lengthAdjust="spacingAndGlyphs" stroke="#262626" stroke-width="0.18">Random Forest (AUC = 0.51)</text>
<line x1="554.10" y1="175.70" x2="566.70" y2="175.70" stroke="#ff7f0e" stroke-width="1.2"/>
<text x="570.90" y="177.86" font-size="6.48" text-anchor="start" fill="#262626" textLength="88.23" lengthAdjust="spacingAndGlyphs" stroke="#262626" stroke-width="0.18">Neural Network (AUC = 0.56)</text>
<line x1="554.10" y1="184.50" x2="566.70" y2="184.50" stroke="#2ca02c" stroke-width="1.2"/>
<text x="570.90" y="186.66" font-size="6.48" text-anchor="start" fill="#262626" textLength="99.03" lengthAdjust="spacingAndGlyphs" stroke="#262626" stroke-width="0.18">Logistic Regression (AUC = 0.50)</text>
<line x1="554.10" y1="193.30" x2="566.70" y2="193.30" stroke="#d62728" stroke-width="1.2"/>
<text x="570.90" y="195.46" font-size="6.48" text-anchor="start" fill="#262626" textLength="98.24" lengthAdjust="spacingAndGlyphs" stroke="#262626" stroke-width="0.18">Mixed Naive Bayes (AUC = 0.55)</text>
<line x1="554.10" y1="202.10" x2="566.70" y2="202.10" stroke="#222" stroke-width="1.2" stroke-dasharray="3.0 1.6"/>
<text x="570.90" y="204.26" font-size="6.48" text-anchor="start" fill="#262626" textLength="20.98" lengthAdjust="spacingAndGlyphs" stroke="#262626" stroke-width="0.18">no skill</text>
<line x1="95.82" y1="252.5" x2="95.82" y2="434.3" stroke="#dcdcdc" stroke-width="0.9"/>
<line x1="132.24" y1="252.5" x2="132.24" y2="434.3" stroke="#dcdcdc" stroke-width="0.9"/>
<line x1="168.66" y1="252.5" x2="168.66" y2="434.3" stroke="#dcdcdc" stroke-width="0.9"/>
<line x1="205.08" y1="252.5" x2="205.08" y2="434.3" stroke="#dcdcdc" stroke-width="0.9"/>
<line x1="59.4" y1="397.94" x2="241.5" y2="397.94" stroke="#dcdcdc" stroke-width="0.9"/>
<line x1="59.4" y1="361.58" x2="241.5" y2="361.58" stroke="#dcdcdc" stroke-width="0.9"/>
<line x1="59.4" y1="325.22" x2="241.5" y2="325.22" stroke="#dcdcdc" stroke-width="0.9"/>
<line x1="59.4" y1="288.86" x2="241.5" y2="288.86" stroke="#dcdcdc" stroke-width="0.9"/>
<path d="M59.40,397.94 L241.50,397.94" fill="none" stroke="#9467bd" stroke-width="1.0" stroke-linejoin="round" stroke-dasharray="2.6 1.6" opacity="0.8"/>
<path d="M59.40,394.30 L60.13,383.50 L60.86,381.03 L61.59,380.16 L62.50,376.41 L63.41,378.42 L64.06,373.91 L64.72,374.39 L65.37,373.36 L66.03,372.73 L66.68,374.33 L67.35,371.75 L68.01,372.07 L68.67,373.58 L69.33,370.76 L69.99,371.94 L70.66,370.68 L71.32,372.53 L71.98,370.24 L72.64,372.15 L73.31,371.64 L73.97,371.19 L74.70,371.25 L75.42,369.45 L76.15,370.46 L76.88,370.41 L77.61,368.48 L78.27,368.64 L78.93,369.74 L79.60,370.27 L80.26,368.83 L80.92,369.39 L81.58,369.92 L82.25,370.08 L82.91,369.95 L83.57,369.65 L84.23,370.46 L84.89,370.91 L85.56,369.78 L86.22,370.41 L86.88,370.80 L87.54,370.28 L88.20,369.39 L88.87,369.07 L89.53,370.90 L90.19,369.19 L90.85,370.32 L91.52,369.15 L92.18,369.12 L92.84,370.45 L93.49,369.82 L94.15,370.06 L94.81,370.82 L95.46,369.46 L96.12,370.16 L96.78,369.69 L97.44,371.30 L98.09,371.18 L98.75,370.04 L99.41,371.26 L100.06,371.21 L100.72,371.47 L101.38,370.59 L102.04,371.59 L102.69,371.96 L103.35,372.07 L104.01,370.82 L104.66,372.31 L105.32,372.21 L105.98,372.03 L106.64,371.76 L107.29,371.43 L107.93,371.34 L108.58,372.19 L109.22,372.00 L109.86,372.63 L110.50,372.45 L111.15,373.22 L111.79,372.34 L112.43,372.74 L113.07,372.66 L113.71,372.54 L114.36,372.68 L115.00,372.59 L115.64,373.02 L116.28,373.90 L116.92,373.73 L117.57,373.48 L118.21,374.18 L118.85,373.97 L119.49,374.07 L120.13,374.48 L120.77,374.27 L121.41,374.10 L122.04,373.94 L122.68,374.36 L123.32,374.53 L123.95,375.12 L124.59,374.38 L125.23,374.73 L125.87,374.93 L126.50,375.27 L127.14,375.30 L127.78,375.88 L128.42,375.79 L129.05,376.16 L129.69,375.38 L130.33,376.08 L130.97,375.93 L131.60,375.96 L132.24,376.33 L132.89,376.03 L133.54,376.18 L134.19,376.74 L134.84,377.26 L135.49,376.79 L136.14,377.15 L136.79,377.69 L137.44,377.27 L138.09,377.51 L138.74,377.37 L139.39,377.80 L140.04,378.09 L140.69,378.44 L141.34,378.55 L142.00,378.28 L142.65,378.36 L143.30,378.84 L143.95,378.83 L144.60,379.22 L145.25,379.49 L145.90,379.48 L146.55,379.67 L147.20,379.39 L147.85,379.99 L148.50,380.06 L149.15,380.07 L149.80,379.91 L150.45,380.43 L151.10,380.56 L151.75,380.44 L152.40,380.75 L153.05,380.65 L153.70,381.01 L154.35,381.28 L155.00,381.09 L155.65,381.39 L156.30,381.61 L156.95,381.55 L157.60,381.97 L158.25,382.18 L158.90,382.32 L159.56,382.44 L160.21,382.29 L160.86,382.42 L161.51,382.91 L162.16,383.13 L162.81,383.19 L163.46,383.43 L164.11,383.26 L164.76,383.54 L165.41,383.52 L166.06,383.92 L166.71,383.79 L167.36,383.88 L168.01,384.28 L168.66,384.05 L169.31,384.55 L169.96,384.29 L170.61,384.43 L171.26,384.60 L171.91,385.00 L172.56,384.92 L173.21,384.98 L173.86,385.42 L174.51,385.33 L175.16,385.68 L175.81,385.87 L176.46,385.65 L177.11,385.88 L177.76,385.98 L178.42,386.49 L179.07,386.43 L179.72,386.76 L180.37,386.64 L181.02,386.74 L181.67,386.96 L182.32,387.05 L182.97,387.19 L183.62,387.55 L184.27,387.48 L184.92,387.42 L185.57,387.67 L186.22,388.08 L186.87,388.10 L187.52,388.23 L188.17,388.46 L188.82,388.39 L189.47,388.60 L190.12,388.62 L190.77,388.59 L191.42,388.59 L192.07,388.95 L192.72,389.30 L193.37,389.02 L194.02,389.14 L194.67,389.35 L195.32,389.77 L195.97,389.75 L196.63,390.03 L197.28,389.93 L197.93,389.93 L198.58,390.17 L199.23,390.40 L199.88,390.43 L200.53,390.85 L201.18,390.83 L201.83,391.17 L202.48,391.30 L203.13,391.43 L203.78,391.35 L204.43,391.57 L205.08,391.42 L205.73,391.87 L206.38,391.81 L207.03,391.91 L207.68,392.14 L208.33,392.26 L208.98,392.35 L209.63,392.33 L210.28,392.31 L210.93,392.65 L211.58,392.48 L212.23,393.06 L212.88,392.85 L213.53,393.04 L214.19,393.09 L214.84,393.56 L215.49,393.66 L216.14,393.83 L216.79,393.86 L217.44,393.76 L218.09,393.67 L218.74,394.04 L219.39,394.00 L220.04,394.53 L220.69,394.64 L221.34,394.57 L221.99,394.49 L222.64,394.94 L223.29,394.75 L223.94,394.70 L224.59,394.99 L225.24,395.01 L225.89,395.31 L226.54,395.16 L227.19,395.30 L227.84,395.41 L228.49,395.76 L229.14,395.78 L229.79,396.02 L230.44,396.22 L231.09,395.94 L231.74,396.33 L232.39,396.57 L233.05,396.74 L233.70,396.44 L234.35,396.79 L235.00,397.09 L235.65,396.93 L236.30,397.11 L236.95,397.18 L237.60,397.37 L238.25,397.40 L238.90,397.50 L239.55,397.66 L240.20,397.90 L240.85,398.08 L241.50,397.94" fill="none" stroke="#1f77b4" stroke-width="1.1" stroke-linejoin="round" opacity="1"/>
<path d="M59.40,336.67 L60.13,326.80 L60.67,325.29 L61.59,327.92 L62.50,334.38 L63.22,333.90 L63.95,337.40 L64.68,335.86 L65.41,339.25 L66.18,336.09 L66.96,338.27 L67.73,339.10 L68.50,338.50 L69.23,337.85 L69.96,340.28 L70.69,339.42 L71.42,341.04 L72.27,341.73 L73.12,342.28 L73.97,342.98 L74.70,343.19 L75.42,342.00 L76.15,343.47 L76.88,342.52 L77.61,342.78 L78.27,343.06 L78.93,343.17 L79.59,344.48 L80.25,344.47 L80.91,344.16 L81.57,345.33 L82.23,346.64 L82.89,345.89 L83.55,346.18 L84.21,347.38 L84.87,347.90 L85.53,347.97 L86.19,347.03 L86.85,347.07 L87.50,347.76 L88.16,348.61 L88.82,349.83 L89.48,350.18 L90.14,349.03 L90.80,349.62 L91.46,350.09 L92.12,351.01 L92.78,351.41 L93.44,351.59 L94.09,352.00 L94.75,351.36 L95.41,352.25 L96.07,352.07 L96.73,352.63 L97.39,352.67 L98.05,352.57 L98.71,352.78 L99.37,354.20 L100.03,353.01 L100.68,353.48 L101.34,353.81 L102.00,354.72 L102.66,354.14 L103.32,354.65 L103.98,355.87 L104.64,355.41 L105.30,355.42 L105.96,355.85 L106.62,355.90 L107.27,356.74 L107.93,356.80 L108.59,357.95 L109.25,357.35 L109.91,358.37 L110.57,357.81 L111.23,357.83 L111.89,358.84 L112.55,359.51 L113.21,359.81 L113.87,359.45 L114.52,360.18 L115.18,359.70 L115.84,360.13 L116.50,360.54 L117.16,360.60 L117.82,361.50 L118.48,361.40 L119.14,362.15 L119.80,361.83 L120.46,361.82 L121.11,362.81 L121.77,362.48 L122.43,362.42 L123.09,363.41 L123.75,363.80 L124.41,364.02 L125.07,363.64 L125.73,364.64 L126.39,364.16 L127.05,364.90 L127.70,364.64 L128.36,364.74 L129.02,365.01 L129.68,365.85 L130.34,365.74 L131.00,366.18 L131.66,365.90 L132.32,366.64 L132.98,366.97 L133.64,366.99 L134.30,367.49 L134.95,367.59 L135.61,367.42 L136.27,367.95 L136.93,368.29 L137.59,367.92 L138.25,368.67 L138.89,368.47 L139.53,368.77 L140.18,369.08 L140.82,369.22 L141.46,369.48 L142.10,369.51 L142.74,369.83 L143.39,370.33 L144.03,370.28 L144.67,370.59 L145.31,370.52 L145.96,371.26 L146.60,371.26 L147.24,371.14 L147.88,371.92 L148.52,371.72 L149.17,371.82 L149.81,372.21 L150.45,372.75 L151.10,372.51 L151.75,372.99 L152.40,373.02 L153.05,373.04 L153.70,373.50 L154.35,373.72 L155.00,373.97 L155.65,374.03 L156.30,374.34 L156.95,374.20 L157.60,374.31 L158.25,374.91 L158.90,374.84 L159.56,374.87 L160.21,375.06 L160.86,375.52 L161.51,375.56 L162.16,375.66 L162.81,375.93 L163.46,375.85 L164.11,376.08 L164.76,376.23 L165.41,376.87 L166.06,377.11 L166.71,376.98 L167.36,377.17 L168.01,377.52 L168.66,377.72 L169.31,377.60 L169.96,377.78 L170.61,378.39 L171.26,378.51 L171.91,378.37 L172.56,378.71 L173.21,379.04 L173.86,378.79 L174.51,379.31 L175.16,379.63 L175.81,379.63 L176.46,379.81 L177.11,379.86 L177.76,379.98 L178.42,380.53 L179.07,380.50 L179.72,380.45 L180.37,380.86 L181.02,380.82 L181.67,381.00 L182.32,381.23 L182.97,381.50 L183.62,381.97 L184.27,381.68 L184.92,382.23 L185.57,382.41 L186.22,382.48 L186.87,382.65 L187.52,382.70 L188.17,383.00 L188.82,382.96 L189.47,383.21 L190.12,383.47 L190.77,383.84 L191.42,383.82 L192.07,384.07 L192.72,384.11 L193.37,384.54 L194.02,384.44 L194.67,384.66 L195.32,385.12 L195.97,384.88 L196.63,385.31 L197.28,385.51 L197.93,385.74 L198.58,385.89 L199.23,385.84 L199.88,385.94 L200.53,386.37 L201.18,386.51 L201.83,386.72 L202.48,387.08 L203.13,386.84 L203.78,387.27 L204.43,387.66 L205.08,387.72 L205.73,387.87 L206.38,387.79 L207.03,388.30 L207.68,388.49 L208.33,388.27 L208.98,388.77 L209.63,388.62 L210.28,389.30 L210.93,389.44 L211.58,389.55 L212.23,389.64 L212.88,389.74 L213.53,390.03 L214.19,389.87 L214.84,390.06 L215.49,390.45 L216.14,390.40 L216.79,390.65 L217.44,390.77 L218.09,391.17 L218.74,391.61 L219.39,391.54 L220.04,392.00 L220.69,391.99 L221.34,391.85 L221.99,392.36 L222.64,392.38 L223.29,392.42 L223.94,392.74 L224.59,393.11 L225.24,393.23 L225.89,393.63 L226.54,393.46 L227.19,393.72 L227.84,394.08 L228.49,394.21 L229.14,394.17 L229.79,394.80 L230.44,394.89 L231.09,394.86 L231.74,394.96 L232.39,395.28 L233.05,395.42 L233.70,395.95 L234.35,395.83 L235.00,396.03 L235.65,396.48 L236.30,396.42 L236.95,396.76 L237.60,396.89 L238.25,396.84 L238.90,397.00 L239.55,397.64 L240.20,397.79 L240.85,397.68 L241.50,397.94" fill="none" stroke="#ff7f0e" stroke-width="1.1" stroke-linejoin="round" opacity="1"/>
<path d="M59.40,274.68 L59.95,288.51 L60.49,310.11 L61.22,326.44 L62.13,330.29 L62.95,334.16 L63.77,332.69 L64.59,333.70 L65.41,334.58 L66.14,333.44 L66.87,334.22 L67.59,335.93 L68.28,338.15 L68.96,337.36 L69.64,340.87 L70.33,340.34 L71.05,340.85 L71.78,342.60 L72.51,341.44 L73.24,342.45 L73.97,342.91 L74.70,344.10 L75.42,342.70 L76.15,344.68 L76.88,345.33 L77.61,343.23 L78.27,345.11 L78.93,344.49 L79.59,344.43 L80.25,344.59 L80.91,344.43 L81.57,346.72 L82.23,346.20 L82.89,347.27 L83.55,346.06 L84.21,347.62 L84.87,347.83 L85.53,348.17 L86.19,347.34 L86.85,348.23 L87.50,347.71 L88.16,348.59 L88.82,348.91 L89.48,349.04 L90.14,350.11 L90.80,350.27 L91.46,350.82 L92.12,351.30 L92.78,350.14 L93.44,351.07 L94.09,351.70 L94.75,351.68 L95.41,352.87 L96.07,351.80 L96.73,352.87 L97.39,353.50 L98.05,353.03 L98.71,353.68 L99.37,353.56 L100.03,354.86 L100.68,353.66 L101.34,354.07 L102.00,355.64 L102.66,355.24 L103.32,356.31 L103.98,356.53 L104.64,356.55 L105.30,357.03 L105.96,355.90 L106.62,356.89 L107.27,357.07 L107.93,357.09 L108.59,358.01 L109.25,357.97 L109.91,357.93 L110.57,358.35 L111.23,359.02 L111.89,359.63 L112.55,358.76 L113.21,358.91 L113.87,359.20 L114.52,360.58 L115.18,360.75 L115.84,361.01 L116.50,360.49 L117.16,361.28 L117.82,361.15 L118.48,361.40 L119.14,361.99 L119.80,362.59 L120.46,361.95 L121.11,362.70 L121.77,362.77 L122.43,363.82 L123.09,363.51 L123.75,363.57 L124.41,364.27 L125.07,364.43 L125.73,364.22 L126.39,364.80 L127.05,364.88 L127.70,365.38 L128.36,365.90 L129.02,365.67 L129.68,365.82 L130.34,365.95 L131.00,366.47 L131.66,366.33 L132.32,366.55 L132.98,367.41 L133.64,367.60 L134.30,367.25 L134.95,367.46 L135.61,367.72 L136.27,368.48 L136.93,368.06 L137.59,368.92 L138.25,369.11 L138.89,368.96 L139.53,369.11 L140.18,369.83 L140.82,369.55 L141.46,370.19 L142.10,370.19 L142.74,370.51 L143.39,370.35 L144.03,370.77 L144.67,371.25 L145.31,370.94 L145.96,371.45 L146.60,371.34 L147.24,372.01 L147.88,372.25 L148.52,372.34 L149.17,372.48 L149.81,372.93 L150.45,372.78 L151.10,372.86 L151.75,373.17 L152.40,373.40 L153.05,373.39 L153.70,373.83 L154.35,374.14 L155.00,374.26 L155.65,374.10 L156.30,374.69 L156.95,374.72 L157.60,374.95 L158.25,374.81 L158.90,375.14 L159.56,375.43 L160.21,375.68 L160.86,375.89 L161.51,376.17 L162.16,376.18 L162.81,376.26 L163.46,376.38 L164.11,376.77 L164.76,377.04 L165.41,377.11 L166.06,376.96 L166.71,377.27 L167.36,377.31 L168.01,377.71 L168.66,377.93 L169.31,377.90 L169.96,378.47 L170.61,378.63 L171.26,378.82 L171.91,379.00 L172.56,379.23 L173.21,378.98 L173.86,379.42 L174.51,379.58 L175.16,379.78 L175.81,380.13 L176.46,380.30 L177.11,380.56 L177.76,380.29 L178.42,380.86 L179.07,380.95 L179.72,380.77 L180.37,381.05 L181.02,381.22 L181.67,381.77 L182.32,381.78 L182.97,381.68 L183.62,382.06 L184.27,382.08 L184.92,382.53 L185.57,382.69 L186.22,382.62 L186.87,382.92 L187.52,383.42 L188.17,383.16 L188.82,383.68 L189.47,384.00 L190.12,383.77 L190.77,383.91 L191.42,384.48 L192.07,384.44 L192.72,384.74 L193.37,384.87 L194.02,384.80 L194.67,385.32 L195.32,385.09 L195.97,385.47 L196.63,385.69 L197.28,385.86 L197.93,385.96 L198.58,386.36 L199.23,386.52 L199.88,386.53 L200.53,386.73 L201.18,386.65 L201.83,387.33 L202.48,387.24 L203.13,387.25 L203.78,387.37 L204.43,387.94 L205.08,387.95 L205.73,388.11 L206.38,388.02 L207.03,388.52 L207.68,388.72 L208.33,388.91 L208.98,388.87 L209.63,389.14 L210.28,389.15 L210.93,389.36 L211.58,389.75 L212.23,389.62 L212.88,389.98 L213.53,389.95 L214.19,390.50 L214.84,390.65 L215.49,390.52 L216.14,390.89 L216.79,391.28 L217.44,391.26 L218.09,391.57 L218.74,391.64 L219.39,391.66 L220.04,392.05 L220.69,391.93 L221.34,392.10 L221.99,392.63 L222.64,392.84 L223.29,392.60 L223.94,393.23 L224.59,393.28 L225.24,393.67 L225.89,393.61 L226.54,393.80 L227.19,394.11 L227.84,394.34 L228.49,394.38 L229.14,394.39 L229.79,394.66 L230.44,394.72 L231.09,395.24 L231.74,395.03 L232.39,395.30 L233.05,395.76 L233.70,395.87 L234.35,395.77 L235.00,396.18 L235.65,396.38 L236.30,396.35 L236.95,396.77 L237.60,396.90 L238.25,397.11 L238.90,397.27 L239.55,397.55 L240.20,397.52 L240.85,397.95 L241.50,397.94" fill="none" stroke="#2ca02c" stroke-width="1.1" stroke-linejoin="round" opacity="1"/>
<path d="M59.40,361.58 L59.76,374.52 L60.13,381.85 L61.22,381.68 L61.86,378.20 L62.50,378.14 L63.28,377.38 L64.07,377.38 L64.86,375.82 L65.51,374.72 L66.16,375.14 L66.81,376.12 L67.46,373.79 L68.11,375.59 L68.77,376.10 L69.42,375.18 L70.10,374.27 L70.78,372.99 L71.46,374.68 L72.15,373.59 L72.83,374.83 L73.51,375.55 L74.20,372.49 L74.88,373.72 L75.56,374.01 L76.24,373.32 L76.93,374.90 L77.61,372.66 L78.27,374.36 L78.93,372.51 L79.60,374.76 L80.26,373.96 L80.92,374.41 L81.58,373.60 L82.25,375.10 L82.91,375.12 L83.57,374.44 L84.23,375.13 L84.89,373.25 L85.56,374.99 L86.22,374.55 L86.88,374.05 L87.54,375.04 L88.20,373.11 L88.87,374.66 L89.53,374.06 L90.19,374.87 L90.85,374.81 L91.52,374.00 L92.18,373.87 L92.84,373.67 L93.49,373.33 L94.15,373.35 L94.81,374.32 L95.46,375.14 L96.12,374.83 L96.78,373.41 L97.44,373.22 L98.09,374.00 L98.75,374.97 L99.41,374.46 L100.06,373.60 L100.72,374.55 L101.38,374.39 L102.04,374.07 L102.69,373.58 L103.35,373.49 L104.01,374.05 L104.66,374.07 L105.32,373.81 L105.98,373.87 L106.64,373.04 L107.29,374.37 L107.93,373.98 L108.58,374.10 L109.22,373.90 L109.86,373.44 L110.50,373.57 L111.15,373.88 L111.79,374.28 L112.43,374.00 L113.07,373.77 L113.71,374.16 L114.36,373.76 L115.00,374.94 L115.64,374.38 L116.28,373.91 L116.92,374.40 L117.57,374.16 L118.21,374.75 L118.85,374.04 L119.49,375.03 L120.13,374.70 L120.77,374.50 L121.41,374.32 L122.04,375.01 L122.68,374.67 L123.32,374.89 L123.95,374.86 L124.59,374.81 L125.23,375.31 L125.87,375.45 L126.50,375.09 L127.14,375.57 L127.78,375.83 L128.42,375.84 L129.05,375.64 L129.69,375.69 L130.33,376.04 L130.97,375.41 L131.60,376.19 L132.24,375.69 L132.89,376.17 L133.54,375.82 L134.19,375.90 L134.84,376.54 L135.49,376.80 L136.14,376.46 L136.79,376.28 L137.44,376.42 L138.09,376.63 L138.74,377.02 L139.39,376.57 L140.04,377.13 L140.69,376.99 L141.34,377.10 L142.00,377.42 L142.65,377.24 L143.30,377.36 L143.95,377.34 L144.60,377.74 L145.25,377.89 L145.90,378.07 L146.55,378.02 L147.20,377.84 L147.85,377.96 L148.50,378.41 L149.15,378.30 L149.80,378.68 L150.45,378.35 L151.10,378.58 L151.75,378.47 L152.40,378.65 L153.05,378.99 L153.70,379.00 L154.35,379.35 L155.00,379.08 L155.65,379.49 L156.30,379.60 L156.95,379.71 L157.60,379.52 L158.25,379.91 L158.90,379.91 L159.56,379.93 L160.21,380.16 L160.86,380.04 L161.51,379.99 L162.16,380.52 L162.81,380.33 L163.46,380.62 L164.11,380.44 L164.76,380.60 L165.41,380.90 L166.06,380.81 L166.71,381.21 L167.36,381.45 L168.01,381.28 L168.66,381.66 L169.31,381.43 L169.96,381.64 L170.61,381.65 L171.26,382.20 L171.91,382.33 L172.56,382.27 L173.21,382.53 L173.86,382.75 L174.51,382.94 L175.16,383.13 L175.81,383.06 L176.46,383.34 L177.11,383.27 L177.76,383.68 L178.42,383.49 L179.07,383.92 L179.72,384.14 L180.37,384.02 L181.02,384.00 L181.67,384.20 L182.32,384.80 L182.97,384.84 L183.62,384.98 L184.27,384.79 L184.92,385.15 L185.57,385.50 L186.22,385.65 L186.87,385.43 L187.52,385.48 L188.17,385.82 L188.82,385.86 L189.47,386.26 L190.12,386.22 L190.77,386.44 L191.42,386.52 L192.07,386.74 L192.72,386.88 L193.37,387.37 L194.02,387.48 L194.67,387.34 L195.32,387.79 L195.97,387.97 L196.63,388.17 L197.28,388.25 L197.93,388.39 L198.58,388.27 L199.23,388.44 L199.88,388.80 L200.53,389.09 L201.18,388.75 L201.83,389.29 L202.48,389.20 L203.13,389.33 L203.78,389.53 L204.43,389.96 L205.08,390.03 L205.73,389.99 L206.38,390.45 L207.03,390.17 L207.68,390.63 L208.33,390.40 L208.98,390.58 L209.63,390.73 L210.28,390.90 L210.93,391.48 L211.58,391.50 L212.23,391.45 L212.88,391.55 L213.53,391.65 L214.19,392.21 L214.84,391.87 L215.49,392.15 L216.14,392.33 L216.79,392.30 L217.44,392.39 L218.09,392.85 L218.74,393.02 L219.39,393.08 L220.04,393.49 L220.69,393.12 L221.34,393.45 L221.99,393.92 L222.64,393.80 L223.29,394.04 L223.94,394.19 L224.59,393.96 L225.24,394.30 L225.89,394.47 L226.54,394.53 L227.19,394.80 L227.84,395.04 L228.49,395.18 L229.14,395.47 L229.79,395.55 L230.44,395.74 L231.09,395.92 L231.74,395.61 L232.39,396.01 L233.05,396.25 L233.70,395.96 L234.35,396.24 L235.00,396.59 L235.65,396.69 L236.30,396.60 L236.95,397.11 L237.60,397.35 L238.25,397.46 L238.90,397.57 L239.55,397.47 L240.20,397.92 L240.85,397.80 L241.50,397.94" fill="none" stroke="#d62728" stroke-width="1.1" stroke-linejoin="round" opacity="1"/>
<rect x="59.4" y="252.5" width="182.10" height="181.80" fill="none" stroke="#8a8a8a" stroke-width="1.0"/>
<line x1="59.4" y1="252.5" x2="59.4" y2="397.94" stroke="#3a3a3a" stroke-width="1.1"/>
<line x1="59.40" y1="434.3" x2="59.40" y2="436.8" stroke="#777" stroke-width="0.7"/>
<text x="59.40" y="442.51" font-size="5.72" text-anchor="middle" fill="#333" textLength="8.43" lengthAdjust="spacingAndGlyphs" stroke="#333" stroke-width="0.09">0.0</text>
<line x1="95.82" y1="434.3" x2="95.82" y2="436.8" stroke="#777" stroke-width="0.7"/>
<text x="95.82" y="442.51" font-size="5.72" text-anchor="middle" fill="#333" textLength="8.43" lengthAdjust="spacingAndGlyphs" stroke="#333" stroke-width="0.09">0.2</text>
<line x1="132.24" y1="434.3" x2="132.24" y2="436.8" stroke="#777" stroke-width="0.7"/>
<text x="132.24" y="442.51" font-size="5.72" text-anchor="middle" fill="#333" textLength="8.43" lengthAdjust="spacingAndGlyphs" stroke="#333" stroke-width="0.09">0.4</text>
<line x1="168.66" y1="434.3" x2="168.66" y2="436.8" stroke="#777" stroke-width="0.7"/>
<text x="168.66" y="442.51" font-size="5.72" text-anchor="middle" fill="#333" textLength="8.43" lengthAdjust="spacingAndGlyphs" stroke="#333" stroke-width="0.09">0.6</text>
<line x1="205.08" y1="434.3" x2="205.08" y2="436.8" stroke="#777" stroke-width="0.7"/>
<text x="205.08" y="442.51" font-size="5.72" text-anchor="middle" fill="#333" textLength="8.43" lengthAdjust="spacingAndGlyphs" stroke="#333" stroke-width="0.09">0.8</text>
<line x1="241.50" y1="434.3" x2="241.50" y2="436.8" stroke="#777" stroke-width="0.7"/>
<text x="241.50" y="442.51" font-size="5.72" text-anchor="middle" fill="#333" textLength="8.43" lengthAdjust="spacingAndGlyphs" stroke="#333" stroke-width="0.09">1.0</text>
<line x1="56.9" y1="434.30" x2="59.4" y2="434.30" stroke="#777" stroke-width="0.7"/>
<text x="55.60" y="436.21" font-size="5.72" text-anchor="end" fill="#333" textLength="8.43" lengthAdjust="spacingAndGlyphs" stroke="#333" stroke-width="0.09">0.0</text>
<line x1="56.9" y1="397.94" x2="59.4" y2="397.94" stroke="#777" stroke-width="0.7"/>
<text x="55.60" y="399.85" font-size="5.72" text-anchor="end" fill="#333" textLength="8.43" lengthAdjust="spacingAndGlyphs" stroke="#333" stroke-width="0.09">0.2</text>
<line x1="56.9" y1="361.58" x2="59.4" y2="361.58" stroke="#777" stroke-width="0.7"/>
<text x="55.60" y="363.49" font-size="5.72" text-anchor="end" fill="#333" textLength="8.43" lengthAdjust="spacingAndGlyphs" stroke="#333" stroke-width="0.09">0.4</text>
<line x1="56.9" y1="325.22" x2="59.4" y2="325.22" stroke="#777" stroke-width="0.7"/>
<text x="55.60" y="327.13" font-size="5.72" text-anchor="end" fill="#333" textLength="8.43" lengthAdjust="spacingAndGlyphs" stroke="#333" stroke-width="0.09">0.6</text>
<line x1="56.9" y1="288.86" x2="59.4" y2="288.86" stroke="#777" stroke-width="0.7"/>
<text x="55.60" y="290.77" font-size="5.72" text-anchor="end" fill="#333" textLength="8.43" lengthAdjust="spacingAndGlyphs" stroke="#333" stroke-width="0.09">0.8</text>
<line x1="56.9" y1="252.50" x2="59.4" y2="252.50" stroke="#777" stroke-width="0.7"/>
<text x="55.60" y="254.41" font-size="5.72" text-anchor="end" fill="#333" textLength="8.43" lengthAdjust="spacingAndGlyphs" stroke="#333" stroke-width="0.09">1.0</text>
<text x="150.45" y="453.20" font-size="9.40" text-anchor="middle" fill="#262626" textLength="80.80" lengthAdjust="spacingAndGlyphs" stroke="#262626" stroke-width="0.18">Recall (Sensitivity)</text>
<text x="43.10" y="343.40" font-size="9.40" text-anchor="middle" fill="#262626" transform="rotate(-90 43.10 343.40)" textLength="64.82" lengthAdjust="spacingAndGlyphs" stroke="#262626" stroke-width="0.18">Precision (PPV)</text>
<rect x="122.00" y="254.80" width="117.00" height="46.10" rx="1.5" fill="#fff" fill-opacity="0.85" stroke="#dedede" stroke-width="0.8"/>
<line x1="124.20" y1="260.00" x2="137.20" y2="260.00" stroke="#1f77b4" stroke-width="1.2"/>
<text x="141.00" y="262.16" font-size="6.48" text-anchor="start" fill="#262626" textLength="81.68" lengthAdjust="spacingAndGlyphs" stroke="#262626" stroke-width="0.18">Random Forest (AP = 0.29)</text>
<line x1="124.20" y1="268.90" x2="137.20" y2="268.90" stroke="#ff7f0e" stroke-width="1.2"/>
<text x="141.00" y="271.06" font-size="6.48" text-anchor="start" fill="#262626" textLength="83.27" lengthAdjust="spacingAndGlyphs" stroke="#262626" stroke-width="0.18">Neural Network (AP = 0.35)</text>
<line x1="124.20" y1="277.80" x2="137.20" y2="277.80" stroke="#2ca02c" stroke-width="1.2"/>
<text x="141.00" y="279.96" font-size="6.48" text-anchor="start" fill="#262626" textLength="94.07" lengthAdjust="spacingAndGlyphs" stroke="#262626" stroke-width="0.18">Logistic Regression (AP = 0.35)</text>
<line x1="124.20" y1="286.70" x2="137.20" y2="286.70" stroke="#d62728" stroke-width="1.2"/>
<text x="141.00" y="288.86" font-size="6.48" text-anchor="start" fill="#262626" textLength="93.27" lengthAdjust="spacingAndGlyphs" stroke="#262626" stroke-width="0.18">Mixed Naive Bayes (AP = 0.29)</text>
<line x1="124.20" y1="295.60" x2="137.20" y2="295.60" stroke="#9467bd" stroke-width="1.2" stroke-dasharray="3.0 1.6"/>
<text x="141.00" y="297.76" font-size="6.48" text-anchor="start" fill="#262626" textLength="20.98" lengthAdjust="spacingAndGlyphs" stroke="#262626" stroke-width="0.18">no skill</text>
<line x1="314.90" y1="252.0" x2="314.90" y2="435.0" stroke="#dcdcdc" stroke-width="0.9"/>
<line x1="351.40" y1="252.0" x2="351.40" y2="435.0" stroke="#dcdcdc" stroke-width="0.9"/>
<line x1="387.90" y1="252.0" x2="387.90" y2="435.0" stroke="#dcdcdc" stroke-width="0.9"/>
<line x1="424.40" y1="252.0" x2="424.40" y2="435.0" stroke="#dcdcdc" stroke-width="0.9"/>
<line x1="278.4" y1="398.40" x2="460.9" y2="398.40" stroke="#dcdcdc" stroke-width="0.9"/>
<line x1="278.4" y1="361.80" x2="460.9" y2="361.80" stroke="#dcdcdc" stroke-width="0.9"/>
<line x1="278.4" y1="325.20" x2="460.9" y2="325.20" stroke="#dcdcdc" stroke-width="0.9"/>
<line x1="278.4" y1="288.60" x2="460.9" y2="288.60" stroke="#dcdcdc" stroke-width="0.9"/>
<path d="M278.40,319.16 L460.90,319.16" fill="none" stroke="#9467bd" stroke-width="1.0" stroke-linejoin="round" stroke-dasharray="2.6 1.6" opacity="0.8"/>
<path d="M278.40,308.91 L279.31,306.35 L280.00,305.88 L280.68,302.53 L281.37,303.20 L282.05,301.84 L282.72,301.14 L283.39,301.37 L284.06,299.59 L284.73,297.99 L285.40,300.52 L286.06,298.07 L286.77,299.28 L287.48,297.97 L288.19,298.20 L288.89,300.34 L289.60,300.20 L290.31,298.89 L291.02,297.90 L291.72,298.24 L292.38,298.17 L293.03,300.37 L293.69,299.68 L294.34,298.98 L295.00,299.62 L295.65,300.02 L296.31,297.96 L296.96,298.82 L297.62,299.51 L298.27,299.28 L298.93,298.65 L299.58,298.50 L300.24,298.45 L300.89,299.66 L301.55,297.98 L302.20,298.53 L302.85,299.80 L303.52,300.07 L304.18,299.44 L304.84,299.88 L305.50,298.40 L306.16,300.52 L306.82,298.62 L307.48,300.18 L308.14,298.71 L308.80,299.60 L309.46,300.29 L310.12,298.44 L310.78,299.70 L311.44,298.54 L312.10,299.95 L312.76,300.15 L313.42,299.52 L314.08,300.27 L314.74,299.53 L315.40,299.31 L316.06,299.47 L316.72,300.70 L317.39,299.48 L318.05,300.26 L318.71,299.95 L319.37,299.26 L320.03,299.29 L320.69,300.61 L321.35,300.71 L322.01,299.61 L322.67,300.19 L323.33,299.77 L323.99,299.91 L324.65,299.40 L325.31,299.65 L325.97,299.48 L326.63,299.67 L327.29,300.22 L327.95,300.49 L328.61,300.88 L329.27,299.94 L329.93,300.47 L330.59,300.52 L331.26,300.85 L331.92,300.86 L332.58,300.70 L333.24,300.59 L333.90,301.09 L334.56,301.36 L335.22,300.86 L335.88,300.50 L336.54,301.05 L337.20,300.61 L337.86,301.64 L338.52,300.98 L339.18,301.36 L339.84,302.01 L340.50,301.91 L341.16,301.37 L341.82,301.33 L342.48,302.15 L343.14,301.62 L343.80,301.48 L344.46,302.23 L345.13,301.71 L345.79,302.48 L346.45,302.58 L347.11,302.02 L347.77,302.02 L348.43,302.29 L349.09,302.57 L349.75,302.51 L350.41,302.69 L351.07,302.74 L351.73,302.54 L352.39,303.03 L353.05,303.29 L353.71,303.42 L354.37,303.24 L355.03,303.14 L355.69,303.53 L356.35,303.72 L357.01,303.88 L357.67,303.53 L358.33,304.16 L359.00,303.97 L359.66,304.20 L360.32,303.86 L360.98,303.93 L361.64,304.05 L362.30,304.54 L362.96,304.50 L363.62,304.57 L364.28,304.22 L364.94,304.28 L365.60,304.47 L366.26,304.68 L366.92,304.86 L367.58,304.83 L368.24,304.93 L368.90,305.12 L369.56,305.30 L370.22,305.46 L370.88,305.42 L371.54,305.55 L372.20,305.31 L372.87,305.36 L373.53,305.81 L374.19,305.51 L374.85,305.67 L375.51,305.99 L376.17,305.88 L376.83,306.11 L377.49,306.12 L378.15,306.16 L378.81,306.16 L379.47,306.45 L380.13,306.74 L380.79,306.60 L381.45,306.69 L382.11,306.87 L382.77,307.04 L383.43,306.79 L384.09,306.91 L384.75,307.11 L385.41,307.36 L386.07,307.36 L386.74,307.72 L387.40,307.89 L388.06,307.88 L388.72,307.77 L389.38,307.67 L390.04,307.88 L390.70,308.04 L391.36,308.44 L392.02,308.13 L392.68,308.65 L393.34,308.67 L394.00,308.56 L394.66,308.53 L395.32,309.03 L395.98,308.74 L396.64,308.90 L397.30,308.99 L397.96,309.14 L398.62,309.01 L399.28,309.18 L399.94,309.72 L400.61,309.31 L401.27,309.53 L401.93,309.44 L402.59,309.53 L403.25,309.90 L403.91,310.13 L404.57,309.75 L405.23,310.35 L405.89,310.36 L406.55,310.40 L407.21,310.15 L407.87,310.59 L408.53,310.42 L409.19,310.71 L409.85,310.57 L410.51,310.76 L411.17,310.62 L411.83,310.82 L412.49,310.69 L413.15,311.25 L413.81,311.32 L414.48,311.15 L415.14,311.11 L415.80,311.13 L416.46,311.67 L417.12,311.29 L417.78,311.67 L418.44,311.49 L419.10,312.07 L419.76,311.96 L420.42,311.95 L421.08,311.93 L421.74,311.98 L422.40,312.45 L423.06,312.30 L423.72,312.63 L424.38,312.39 L425.04,312.82 L425.70,312.46 L426.36,312.80 L427.02,312.82 L427.68,312.86 L428.35,313.27 L429.01,312.91 L429.67,313.20 L430.33,313.33 L430.99,313.29 L431.65,313.55 L432.31,313.37 L432.97,313.97 L433.63,314.04 L434.29,313.83 L434.95,313.86 L435.61,313.97 L436.27,314.42 L436.93,314.45 L437.59,314.52 L438.25,314.27 L438.91,314.51 L439.57,314.79 L440.23,314.89 L440.89,314.76 L441.55,315.04 L442.20,315.22 L442.84,315.13 L443.49,315.54 L444.13,315.60 L444.78,315.83 L445.42,315.91 L446.07,315.82 L446.71,316.29 L447.36,316.30 L448.00,316.41 L448.65,316.52 L449.29,316.69 L449.94,316.88 L450.58,317.00 L451.23,316.84 L451.87,317.25 L452.52,317.41 L453.16,317.60 L453.81,317.54 L454.45,317.68 L455.10,317.65 L455.74,317.81 L456.39,318.12 L457.03,318.16 L457.68,318.72 L458.32,318.60 L458.97,318.69 L459.61,318.99 L460.26,318.78 L460.90,319.16" fill="none" stroke="#1f77b4" stroke-width="1.1" stroke-linejoin="round" opacity="1"/>
<path d="M278.40,261.15 L279.31,273.46 L279.95,274.13 L280.59,277.80 L281.27,277.21 L281.96,276.76 L282.64,278.91 L283.33,278.53 L283.97,278.85 L284.62,278.64 L285.26,282.04 L285.91,281.81 L286.56,279.03 L287.20,280.25 L287.85,282.27 L288.49,280.85 L289.14,283.13 L289.79,282.74 L290.43,282.75 L291.08,283.73 L291.72,284.30 L292.38,283.24 L293.03,282.94 L293.69,284.13 L294.34,283.22 L295.00,282.39 L295.65,285.35 L296.31,284.82 L296.96,285.51 L297.62,283.96 L298.27,284.87 L298.93,284.94 L299.58,285.62 L300.24,284.32 L300.89,284.53 L301.55,285.51 L302.20,284.67 L302.85,286.36 L303.52,286.24 L304.18,284.88 L304.84,286.86 L305.50,287.23 L306.16,287.66 L306.82,286.31 L307.48,286.15 L308.14,288.09 L308.80,287.29 L309.46,287.65 L310.12,287.97 L310.78,288.34 L311.44,288.18 L312.10,288.86 L312.76,287.41 L313.42,289.07 L314.08,288.56 L314.74,288.53 L315.40,288.68 L316.06,289.21 L316.72,289.29 L317.39,288.65 L318.05,290.19 L318.71,290.27 L319.37,290.21 L320.03,289.56 L320.69,290.25 L321.35,290.44 L322.01,291.09 L322.67,291.13 L323.33,290.39 L323.99,291.21 L324.65,290.96 L325.31,291.44 L325.97,291.45 L326.63,291.76 L327.29,290.81 L327.95,291.37 L328.61,291.70 L329.27,292.21 L329.93,291.47 L330.59,291.99 L331.26,292.69 L331.92,292.72 L332.58,291.79 L333.24,292.73 L333.90,292.72 L334.56,293.22 L335.22,292.34 L335.88,293.23 L336.54,292.94 L337.20,292.85 L337.86,293.18 L338.52,293.48 L339.18,293.71 L339.84,293.32 L340.50,293.92 L341.16,293.62 L341.82,293.35 L342.48,293.50 L343.14,293.88 L343.80,294.07 L344.46,294.63 L345.13,294.06 L345.79,294.07 L346.45,294.74 L347.11,295.12 L347.77,294.76 L348.43,294.97 L349.09,294.68 L349.75,294.88 L350.41,295.28 L351.07,295.29 L351.73,295.44 L352.39,295.39 L353.05,295.51 L353.71,295.60 L354.37,296.08 L355.03,295.70 L355.69,296.41 L356.35,296.34 L357.01,296.22 L357.67,296.73 L358.33,296.39 L359.00,296.73 L359.66,296.83 L360.32,297.14 L360.98,297.04 L361.64,297.02 L362.30,297.52 L362.96,297.09 L363.62,297.12 L364.28,297.55 L364.94,297.65 L365.60,297.60 L366.26,297.83 L366.92,297.95 L367.58,298.19 L368.24,298.29 L368.90,298.50 L369.56,298.78 L370.22,298.50 L370.88,298.69 L371.54,299.19 L372.20,298.87 L372.87,298.89 L373.53,299.34 L374.19,299.19 L374.85,299.71 L375.51,299.61 L376.17,299.65 L376.83,300.00 L377.49,300.19 L378.15,300.41 L378.81,300.31 L379.47,300.58 L380.13,300.61 L380.79,300.67 L381.45,301.01 L382.11,301.04 L382.77,301.37 L383.43,301.16 L384.09,301.26 L384.75,301.63 L385.41,301.80 L386.07,301.70 L386.74,301.93 L387.40,301.86 L388.06,302.03 L388.72,302.33 L389.38,302.47 L390.04,302.52 L390.70,302.64 L391.36,302.83 L392.02,302.93 L392.68,303.15 L393.34,303.11 L394.00,303.35 L394.66,303.68 L395.32,303.53 L395.98,303.83 L396.64,303.96 L397.30,303.95 L397.96,303.93 L398.62,304.31 L399.28,304.44 L399.94,304.44 L400.61,304.46 L401.27,304.62 L401.93,304.64 L402.59,305.28 L403.25,305.16 L403.91,305.38 L404.57,305.51 L405.23,305.67 L405.89,305.65 L406.55,305.69 L407.21,305.87 L407.87,306.32 L408.53,306.24 L409.19,306.17 L409.85,306.54 L410.51,306.73 L411.17,306.82 L411.83,306.81 L412.49,307.11 L413.15,307.31 L413.81,307.53 L414.48,307.60 L415.14,307.43 L415.80,307.90 L416.46,307.88 L417.12,308.04 L417.78,307.88 L418.44,308.00 L419.10,308.56 L419.76,308.64 L420.42,308.71 L421.08,308.89 L421.74,308.85 L422.40,308.72 L423.06,309.15 L423.72,309.13 L424.38,309.35 L425.04,309.26 L425.70,309.68 L426.36,309.66 L427.02,310.09 L427.68,310.08 L428.35,310.40 L429.01,310.27 L429.67,310.33 L430.33,310.70 L430.99,310.67 L431.65,310.70 L432.31,311.02 L432.97,310.82 L433.63,311.42 L434.29,311.40 L434.95,311.19 L435.61,311.32 L436.27,311.71 L436.93,312.02 L437.59,312.06 L438.25,312.15 L438.91,312.31 L439.57,312.40 L440.23,312.57 L440.89,312.41 L441.55,313.01 L442.20,312.73 L442.84,313.15 L443.49,312.98 L444.13,313.18 L444.78,313.34 L445.42,313.71 L446.06,313.69 L446.71,314.25 L447.35,314.30 L448.00,314.57 L448.64,314.78 L449.28,314.46 L449.93,314.92 L450.57,315.17 L451.22,314.96 L451.86,315.17 L452.50,315.44 L453.15,315.89 L453.80,316.28 L454.44,316.55 L455.09,316.57 L455.73,316.68 L456.38,317.11 L457.03,317.61 L457.67,317.94 L458.32,317.85 L458.96,318.17 L459.61,318.60 L460.25,318.83 L460.90,319.16" fill="none" stroke="#ff7f0e" stroke-width="1.1" stroke-linejoin="round" opacity="1"/>
<path d="M278.40,269.93 L279.13,273.02 L279.86,271.88 L280.59,273.74 L281.27,278.26 L281.96,275.57 L282.64,276.81 L283.33,277.64 L283.97,280.63 L284.62,277.85 L285.26,279.95 L285.91,278.73 L286.56,280.12 L287.20,279.69 L287.85,280.20 L288.49,281.96 L289.14,281.18 L289.79,280.55 L290.43,281.21 L291.08,281.56 L291.72,284.60 L292.38,283.00 L293.03,282.51 L293.69,284.39 L294.34,285.35 L295.00,283.34 L295.65,284.07 L296.31,283.04 L296.96,285.31 L297.62,285.93 L298.27,284.68 L298.93,284.10 L299.58,284.82 L300.24,286.46 L300.89,285.99 L301.55,286.70 L302.20,286.13 L302.85,285.32 L303.52,286.32 L304.18,286.28 L304.84,287.21 L305.50,286.66 L306.16,285.69 L306.82,287.27 L307.48,287.65 L308.14,286.93 L308.80,286.66 L309.46,288.68 L310.12,287.56 L310.78,287.81 L311.44,287.97 L312.10,288.33 L312.76,288.15 L313.42,287.98 L314.08,289.35 L314.74,289.72 L315.40,289.88 L316.06,289.25 L316.72,290.00 L317.39,289.70 L318.05,289.73 L318.71,290.02 L319.37,289.81 L320.03,290.12 L320.69,290.25 L321.35,289.95 L322.01,290.78 L322.67,291.48 L323.33,290.15 L323.99,291.18 L324.65,291.25 L325.31,291.81 L325.97,291.22 L326.63,291.00 L327.29,292.25 L327.95,291.64 L328.61,292.53 L329.27,292.11 L329.93,292.62 L330.59,291.94 L331.26,291.77 L331.92,292.43 L332.58,292.76 L333.24,292.37 L333.90,292.38 L334.56,293.44 L335.22,293.01 L335.88,292.81 L336.54,292.69 L337.20,293.71 L337.86,292.95 L338.52,293.83 L339.18,293.49 L339.84,293.34 L340.50,293.47 L341.16,294.13 L341.82,293.81 L342.48,294.29 L343.14,294.53 L343.80,293.87 L344.46,294.92 L345.13,294.07 L345.79,295.13 L346.45,294.44 L347.11,295.11 L347.77,295.14 L348.43,295.56 L349.09,295.12 L349.75,295.06 L350.41,295.10 L351.07,295.75 L351.73,295.83 L352.39,296.12 L353.05,296.13 L353.71,295.82 L354.37,296.29 L355.03,296.42 L355.69,296.55 L356.35,296.68 L357.01,296.70 L357.67,296.41 L358.33,296.57 L359.00,296.73 L359.66,297.04 L360.32,296.84 L360.98,297.33 L361.64,297.12 L362.30,297.29 L362.96,297.35 L363.62,297.57 L364.28,297.98 L364.94,297.75 L365.60,298.00 L366.26,298.43 L366.92,298.24 L367.58,298.53 L368.24,298.66 L368.90,298.64 L369.56,298.48 L370.22,299.03 L370.88,299.02 L371.54,298.93 L372.20,299.23 L372.87,299.08 L373.53,299.28 L374.19,299.47 L374.85,299.73 L375.51,299.83 L376.17,299.92 L376.83,299.92 L377.49,300.53 L378.15,300.17 L378.81,300.65 L379.47,300.92 L380.13,300.79 L380.79,301.07 L381.45,301.13 L382.11,301.39 L382.77,301.22 L383.43,301.50 L384.09,301.75 L384.75,301.49 L385.41,302.09 L386.07,301.74 L386.74,301.86 L387.40,302.37 L388.06,302.20 L388.72,302.50 L389.38,302.80 L390.04,302.87 L390.70,302.90 L391.36,303.13 L392.02,303.27 L392.68,303.21 L393.34,303.43 L394.00,303.30 L394.66,303.46 L395.32,304.00 L395.98,303.76 L396.64,304.22 L397.30,304.10 L397.96,304.40 L398.62,304.23 L399.28,304.64 L399.94,304.51 L400.61,304.62 L401.27,305.16 L401.93,304.89 L402.59,305.47 L403.25,305.54 L403.91,305.63 L404.57,305.54 L405.23,305.98 L405.89,305.85 L406.55,305.77 L407.21,306.40 L407.87,306.08 L408.53,306.40 L409.19,306.53 L409.85,306.67 L410.51,306.82 L411.17,306.94 L411.83,306.82 L412.49,306.97 L413.15,307.16 L413.81,307.33 L414.48,307.67 L415.14,307.97 L415.80,307.64 L416.46,307.98 L417.12,308.09 L417.78,308.13 L418.44,308.45 L419.10,308.51 L419.76,308.56 L420.42,308.62 L421.08,309.15 L421.74,309.28 L422.40,308.90 L423.06,309.08 L423.72,309.26 L424.38,309.35 L425.04,309.60 L425.70,310.08 L426.36,309.98 L427.02,310.10 L427.68,310.15 L428.35,310.24 L429.01,310.43 L429.67,310.37 L430.33,310.90 L430.99,311.04 L431.65,311.02 L432.31,311.03 L432.97,310.97 L433.63,311.39 L434.29,311.58 L434.95,311.82 L435.61,311.87 L436.27,311.73 L436.93,312.08 L437.59,312.17 L438.25,312.28 L438.91,312.17 L439.57,312.33 L440.23,312.90 L440.89,312.56 L441.55,312.73 L442.20,313.16 L442.84,313.02 L443.49,313.16 L444.13,313.85 L444.78,313.73 L445.42,313.71 L446.06,314.25 L446.71,314.40 L447.35,314.46 L448.00,314.48 L448.64,314.98 L449.28,314.95 L449.93,315.19 L450.57,315.33 L451.22,315.33 L451.86,315.58 L452.50,315.46 L453.15,315.79 L453.80,316.12 L454.44,316.49 L455.09,316.53 L455.73,317.02 L456.38,317.10 L457.03,317.35 L457.67,317.59 L458.32,318.25 L458.96,318.19 L459.61,318.89 L460.25,318.64 L460.90,319.16" fill="none" stroke="#2ca02c" stroke-width="1.1" stroke-linejoin="round" opacity="1"/>
<path d="M278.40,272.86 L279.13,275.25 L279.86,274.61 L280.59,279.61 L281.27,279.88 L281.96,280.06 L282.64,281.46 L283.33,281.88 L284.01,280.46 L284.70,282.51 L285.38,284.73 L286.06,282.55 L286.77,285.30 L287.48,283.72 L288.19,286.77 L288.89,285.12 L289.60,285.82 L290.31,286.23 L291.02,285.44 L291.72,286.71 L292.38,288.13 L293.03,287.81 L293.69,289.13 L294.34,287.45 L295.00,288.23 L295.65,289.22 L296.31,287.71 L296.96,287.42 L297.62,289.47 L298.27,287.76 L298.93,287.95 L299.58,289.63 L300.24,288.00 L300.89,289.77 L301.55,290.06 L302.20,288.09 L302.85,287.94 L303.52,289.12 L304.18,288.11 L304.84,289.19 L305.50,288.67 L306.16,289.88 L306.82,290.06 L307.48,289.07 L308.14,290.06 L308.80,290.43 L309.46,289.68 L310.12,290.14 L310.78,290.25 L311.44,291.30 L312.10,290.22 L312.76,291.19 L313.42,292.12 L314.08,291.46 L314.74,291.65 L315.40,292.66 L316.06,292.83 L316.72,292.05 L317.39,292.21 L318.05,293.27 L318.71,292.61 L319.37,293.00 L320.03,292.50 L320.69,292.70 L321.35,293.96 L322.01,293.21 L322.67,294.18 L323.33,294.28 L323.99,294.15 L324.65,293.21 L325.31,293.51 L325.97,293.90 L326.63,294.52 L327.29,293.96 L327.95,295.09 L328.61,294.61 L329.27,295.34 L329.93,295.51 L330.59,294.37 L331.24,295.37 L331.89,295.78 L332.53,295.44 L333.18,294.92 L333.82,295.37 L334.47,296.25 L335.11,295.91 L335.76,295.34 L336.40,296.16 L337.05,296.22 L337.69,296.13 L338.34,295.87 L338.98,296.11 L339.63,296.86 L340.27,296.58 L340.92,296.80 L341.56,297.26 L342.21,297.49 L342.85,297.47 L343.50,297.63 L344.14,297.62 L344.79,297.22 L345.43,297.99 L346.08,297.75 L346.72,297.39 L347.37,297.67 L348.01,298.16 L348.66,298.69 L349.30,298.30 L349.95,298.27 L350.59,298.47 L351.24,298.45 L351.88,298.86 L352.53,298.92 L353.17,298.87 L353.82,299.38 L354.46,299.33 L355.11,299.20 L355.75,299.52 L356.40,299.62 L357.04,300.01 L357.69,299.50 L358.33,300.10 L358.98,299.87 L359.63,300.14 L360.27,300.05 L360.92,300.19 L361.56,300.44 L362.21,300.22 L362.85,300.38 L363.50,300.60 L364.14,300.75 L364.79,301.13 L365.43,301.30 L366.08,300.89 L366.72,301.37 L367.37,301.35 L368.01,301.43 L368.66,301.62 L369.30,301.38 L369.95,301.62 L370.59,302.01 L371.24,301.65 L371.88,302.22 L372.53,301.95 L373.17,302.42 L373.82,302.03 L374.46,302.24 L375.11,302.46 L375.75,302.64 L376.40,302.47 L377.04,302.93 L377.69,302.83 L378.33,303.16 L378.98,303.28 L379.62,303.41 L380.27,303.44 L380.91,303.65 L381.56,303.55 L382.20,303.76 L382.85,303.72 L383.49,303.67 L384.14,303.73 L384.78,304.03 L385.43,304.05 L386.07,304.20 L386.72,304.19 L387.37,304.58 L388.01,304.46 L388.66,304.59 L389.30,304.85 L389.95,304.79 L390.59,304.84 L391.24,305.18 L391.88,305.10 L392.53,305.28 L393.17,305.33 L393.82,305.39 L394.46,305.34 L395.11,305.72 L395.75,305.83 L396.40,306.18 L397.04,305.91 L397.69,306.05 L398.33,306.46 L398.98,306.59 L399.62,306.57 L400.27,306.70 L400.91,306.50 L401.56,307.00 L402.20,306.67 L402.85,307.14 L403.49,307.20 L404.14,306.99 L404.78,307.13 L405.43,307.34 L406.07,307.66 L406.72,307.78 L407.36,307.76 L408.01,307.82 L408.65,307.94 L409.30,308.09 L409.94,308.45 L410.59,308.17 L411.23,308.51 L411.88,308.35 L412.52,308.93 L413.17,308.75 L413.81,309.14 L414.46,309.28 L415.11,309.01 L415.75,309.50 L416.40,309.25 L417.04,309.67 L417.69,309.64 L418.33,309.62 L418.98,309.69 L419.62,310.09 L420.27,310.11 L420.91,310.10 L421.56,310.30 L422.20,310.34 L422.85,310.42 L423.49,310.58 L424.14,310.74 L424.78,311.08 L425.43,310.89 L426.07,311.05 L426.72,311.20 L427.36,311.18 L428.01,311.52 L428.65,311.54 L429.30,311.54 L429.94,312.04 L430.59,311.64 L431.23,311.79 L431.88,311.96 L432.52,312.12 L433.17,312.50 L433.81,312.28 L434.46,312.40 L435.10,312.64 L435.75,312.76 L436.39,312.68 L437.04,312.86 L437.68,312.90 L438.33,313.05 L438.97,313.60 L439.62,313.76 L440.26,313.49 L440.91,313.49 L441.55,313.77 L442.20,314.22 L442.84,313.95 L443.49,314.48 L444.13,314.43 L444.78,314.88 L445.42,315.13 L446.07,314.96 L446.71,315.28 L447.36,315.34 L448.00,315.56 L448.65,315.85 L449.29,315.96 L449.94,316.29 L450.58,316.16 L451.23,316.60 L451.87,316.78 L452.52,316.64 L453.16,317.10 L453.81,317.31 L454.45,317.22 L455.10,317.51 L455.74,317.50 L456.39,318.12 L457.03,317.93 L457.68,318.33 L458.32,318.54 L458.97,318.61 L459.61,318.96 L460.26,318.83 L460.90,319.16" fill="none" stroke="#d62728" stroke-width="1.1" stroke-linejoin="round" opacity="1"/>
<rect x="278.4" y="252.0" width="182.50" height="183.00" fill="none" stroke="#8a8a8a" stroke-width="1.0"/>
<line x1="278.4" y1="252.0" x2="278.4" y2="308.73" stroke="#3a3a3a" stroke-width="1.1"/>
<line x1="278.40" y1="435.0" x2="278.40" y2="437.5" stroke="#777" stroke-width="0.7"/>
<text x="278.40" y="443.21" font-size="5.72" text-anchor="middle" fill="#333" textLength="8.43" lengthAdjust="spacingAndGlyphs" stroke="#333" stroke-width="0.09">0.0</text>
<line x1="314.90" y1="435.0" x2="314.90" y2="437.5" stroke="#777" stroke-width="0.7"/>
<text x="314.90" y="443.21" font-size="5.72" text-anchor="middle" fill="#333" textLength="8.43" lengthAdjust="spacingAndGlyphs" stroke="#333" stroke-width="0.09">0.2</text>
<line x1="351.40" y1="435.0" x2="351.40" y2="437.5" stroke="#777" stroke-width="0.7"/>
<text x="351.40" y="443.21" font-size="5.72" text-anchor="middle" fill="#333" textLength="8.43" lengthAdjust="spacingAndGlyphs" stroke="#333" stroke-width="0.09">0.4</text>
<line x1="387.90" y1="435.0" x2="387.90" y2="437.5" stroke="#777" stroke-width="0.7"/>
<text x="387.90" y="443.21" font-size="5.72" text-anchor="middle" fill="#333" textLength="8.43" lengthAdjust="spacingAndGlyphs" stroke="#333" stroke-width="0.09">0.6</text>
<line x1="424.40" y1="435.0" x2="424.40" y2="437.5" stroke="#777" stroke-width="0.7"/>
<text x="424.40" y="443.21" font-size="5.72" text-anchor="middle" fill="#333" textLength="8.43" lengthAdjust="spacingAndGlyphs" stroke="#333" stroke-width="0.09">0.8</text>
<line x1="460.90" y1="435.0" x2="460.90" y2="437.5" stroke="#777" stroke-width="0.7"/>
<text x="460.90" y="443.21" font-size="5.72" text-anchor="middle" fill="#333" textLength="8.43" lengthAdjust="spacingAndGlyphs" stroke="#333" stroke-width="0.09">1.0</text>
<line x1="275.9" y1="435.00" x2="278.4" y2="435.00" stroke="#777" stroke-width="0.7"/>
<text x="274.60" y="436.91" font-size="5.72" text-anchor="end" fill="#333" textLength="8.43" lengthAdjust="spacingAndGlyphs" stroke="#333" stroke-width="0.09">0.0</text>
<line x1="275.9" y1="398.40" x2="278.4" y2="398.40" stroke="#777" stroke-width="0.7"/>
<text x="274.60" y="400.31" font-size="5.72" text-anchor="end" fill="#333" textLength="8.43" lengthAdjust="spacingAndGlyphs" stroke="#333" stroke-width="0.09">0.2</text>
<line x1="275.9" y1="361.80" x2="278.4" y2="361.80" stroke="#777" stroke-width="0.7"/>
<text x="274.60" y="363.71" font-size="5.72" text-anchor="end" fill="#333" textLength="8.43" lengthAdjust="spacingAndGlyphs" stroke="#333" stroke-width="0.09">0.4</text>
<line x1="275.9" y1="325.20" x2="278.4" y2="325.20" stroke="#777" stroke-width="0.7"/>
<text x="274.60" y="327.11" font-size="5.72" text-anchor="end" fill="#333" textLength="8.43" lengthAdjust="spacingAndGlyphs" stroke="#333" stroke-width="0.09">0.6</text>
<line x1="275.9" y1="288.60" x2="278.4" y2="288.60" stroke="#777" stroke-width="0.7"/>
<text x="274.60" y="290.51" font-size="5.72" text-anchor="end" fill="#333" textLength="8.43" lengthAdjust="spacingAndGlyphs" stroke="#333" stroke-width="0.09">0.8</text>
<line x1="275.9" y1="252.00" x2="278.4" y2="252.00" stroke="#777" stroke-width="0.7"/>
<text x="274.60" y="253.91" font-size="5.72" text-anchor="end" fill="#333" textLength="8.43" lengthAdjust="spacingAndGlyphs" stroke="#333" stroke-width="0.09">1.0</text>
<text x="369.65" y="453.90" font-size="9.40" text-anchor="middle" fill="#262626" textLength="80.80" lengthAdjust="spacingAndGlyphs" stroke="#262626" stroke-width="0.18">Recall (Sensitivity)</text>
<text x="262.10" y="343.50" font-size="9.40" text-anchor="middle" fill="#262626" transform="rotate(-90 262.10 343.50)" textLength="64.82" lengthAdjust="spacingAndGlyphs" stroke="#262626" stroke-width="0.18">Precision (PPV)</text>
<rect x="341.40" y="385.50" width="117.00" height="46.10" rx="1.5" fill="#fff" fill-opacity="0.85" stroke="#dedede" stroke-width="0.8"/>
<line x1="343.60" y1="390.70" x2="356.60" y2="390.70" stroke="#1f77b4" stroke-width="1.2"/>
<text x="360.40" y="392.86" font-size="6.48" text-anchor="start" fill="#262626" textLength="81.68" lengthAdjust="spacingAndGlyphs" stroke="#262626" stroke-width="0.18">Random Forest (AP = 0.70)</text>
<line x1="343.60" y1="399.60" x2="356.60" y2="399.60" stroke="#ff7f0e" stroke-width="1.2"/>
<text x="360.40" y="401.76" font-size="6.48" text-anchor="start" fill="#262626" textLength="83.27" lengthAdjust="spacingAndGlyphs" stroke="#262626" stroke-width="0.18">Neural Network (AP = 0.75)</text>
<line x1="343.60" y1="408.50" x2="356.60" y2="408.50" stroke="#2ca02c" stroke-width="1.2"/>
<text x="360.40" y="410.66" font-size="6.48" text-anchor="start" fill="#262626" textLength="94.07" lengthAdjust="spacingAndGlyphs" stroke="#262626" stroke-width="0.18">Logistic Regression (AP = 0.75)</text>
<line x1="343.60" y1="417.40" x2="356.60" y2="417.40" stroke="#d62728" stroke-width="1.2"/>
<text x="360.40" y="419.56" font-size="6.48" text-anchor="start" fill="#262626" textLength="93.27" lengthAdjust="spacingAndGlyphs" stroke="#262626" stroke-width="0.18">Mixed Naive Bayes (AP = 0.73)</text>
<line x1="343.60" y1="426.30" x2="356.60" y2="426.30" stroke="#9467bd" stroke-width="1.2" stroke-dasharray="3.0 1.6"/>
<text x="360.40" y="428.46" font-size="6.48" text-anchor="start" fill="#262626" textLength="20.98" lengthAdjust="spacingAndGlyphs" stroke="#262626" stroke-width="0.18">no skill</text>
<rect x="463.6" y="436.5" width="8" height="9" fill="#fff"/>
<line x1="529.26" y1="251.6" x2="529.26" y2="435.3" stroke="#dcdcdc" stroke-width="0.9"/>
<line x1="566.02" y1="251.6" x2="566.02" y2="435.3" stroke="#dcdcdc" stroke-width="0.9"/>
<line x1="602.78" y1="251.6" x2="602.78" y2="435.3" stroke="#dcdcdc" stroke-width="0.9"/>
<line x1="639.54" y1="251.6" x2="639.54" y2="435.3" stroke="#dcdcdc" stroke-width="0.9"/>
<line x1="492.5" y1="398.56" x2="676.3" y2="398.56" stroke="#dcdcdc" stroke-width="0.9"/>
<line x1="492.5" y1="361.82" x2="676.3" y2="361.82" stroke="#dcdcdc" stroke-width="0.9"/>
<line x1="492.5" y1="325.08" x2="676.3" y2="325.08" stroke="#dcdcdc" stroke-width="0.9"/>
<line x1="492.5" y1="288.34" x2="676.3" y2="288.34" stroke="#dcdcdc" stroke-width="0.9"/>
<path d="M492.50,404.62 L676.30,404.62" fill="none" stroke="#9467bd" stroke-width="1.0" stroke-linejoin="round" stroke-dasharray="2.6 1.6" opacity="0.8"/>
<path d="M492.50,404.07 L493.14,404.60 L493.79,403.40 L494.43,403.39 L495.07,402.57 L495.72,402.55 L496.36,400.91 L497.00,401.12 L497.65,400.36 L498.29,399.60 L498.93,400.04 L499.62,400.02 L500.31,400.58 L501.00,399.30 L501.69,400.53 L502.38,399.93 L503.07,400.20 L503.76,399.15 L504.45,399.55 L505.11,399.55 L505.77,399.58 L506.43,399.15 L507.09,399.01 L507.74,400.06 L508.40,399.34 L509.06,399.69 L509.72,399.78 L510.38,399.45 L511.04,400.67 L511.70,400.57 L512.36,400.41 L513.02,400.73 L513.68,400.83 L514.34,401.03 L515.00,400.12 L515.66,400.14 L516.32,400.32 L516.99,400.49 L517.65,401.04 L518.32,401.21 L518.98,401.15 L519.65,401.67 L520.32,401.59 L520.98,401.22 L521.65,401.34 L522.31,401.11 L522.98,401.27 L523.64,401.84 L524.31,401.06 L524.97,401.58 L525.64,401.58 L526.30,401.74 L526.97,401.80 L527.63,401.28 L528.30,401.29 L528.96,402.13 L529.63,401.46 L530.29,401.62 L530.96,401.66 L531.62,402.23 L532.29,401.71 L532.95,402.05 L533.62,402.22 L534.28,402.65 L534.95,402.27 L535.61,402.62 L536.28,402.57 L536.94,402.14 L537.61,402.63 L538.27,402.29 L538.94,402.71 L539.61,402.96 L540.27,402.79 L540.94,403.01 L541.60,403.07 L542.27,402.73 L542.93,402.77 L543.60,403.20 L544.25,402.83 L544.90,403.00 L545.55,403.32 L546.20,403.35 L546.84,402.96 L547.49,402.85 L548.14,402.94 L548.79,403.11 L549.44,403.48 L550.09,403.07 L550.74,403.52 L551.39,403.11 L552.04,403.55 L552.69,403.05 L553.34,403.36 L553.99,403.54 L554.64,403.63 L555.29,403.56 L555.94,403.34 L556.59,403.61 L557.24,403.74 L557.89,403.39 L558.54,403.74 L559.19,403.77 L559.84,403.77 L560.49,403.83 L561.14,403.80 L561.79,403.92 L562.44,403.98 L563.09,403.95 L563.74,403.82 L564.39,403.56 L565.04,403.63 L565.69,403.81 L566.34,404.05 L566.99,403.65 L567.64,404.05 L568.29,403.93 L568.94,403.93 L569.58,404.04 L570.23,404.17 L570.88,403.83 L571.53,404.29 L572.18,404.16 L572.83,403.97 L573.48,404.20 L574.13,404.35 L574.78,404.32 L575.43,403.97 L576.08,404.09 L576.73,404.18 L577.38,403.92 L578.03,404.03 L578.68,404.28 L579.33,404.28 L579.98,403.91 L580.63,404.18 L581.28,404.11 L581.93,404.22 L582.58,403.90 L583.23,404.09 L583.88,403.97 L584.53,404.21 L585.18,404.06 L585.83,404.40 L586.48,404.38 L587.13,404.28 L587.78,404.29 L588.43,403.93 L589.08,404.34 L589.73,404.16 L590.38,403.99 L591.03,404.18 L591.68,403.98 L592.32,404.09 L592.97,404.07 L593.62,404.41 L594.27,404.33 L594.92,404.02 L595.57,404.29 L596.22,404.09 L596.87,404.16 L597.52,403.98 L598.17,404.22 L598.82,404.00 L599.47,404.07 L600.12,404.14 L600.77,403.99 L601.42,404.14 L602.07,404.27 L602.72,404.06 L603.37,404.11 L604.02,404.19 L604.67,404.09 L605.32,404.20 L605.97,403.99 L606.62,404.19 L607.27,403.98 L607.92,404.23 L608.57,404.02 L609.22,404.45 L609.87,403.94 L610.52,404.38 L611.17,404.23 L611.82,404.30 L612.47,404.00 L613.12,404.07 L613.77,404.20 L614.41,404.39 L615.06,404.16 L615.71,403.94 L616.36,403.94 L617.01,404.24 L617.66,403.87 L618.31,404.25 L618.96,403.88 L619.61,404.34 L620.26,404.37 L620.91,404.05 L621.56,404.21 L622.21,404.04 L622.86,404.10 L623.51,404.26 L624.16,403.87 L624.81,404.35 L625.46,404.19 L626.11,404.04 L626.76,404.01 L627.41,404.17 L628.05,404.20 L628.70,404.26 L629.34,403.91 L629.98,404.16 L630.63,404.27 L631.27,403.90 L631.91,403.97 L632.56,403.92 L633.20,404.10 L633.84,403.87 L634.49,404.20 L635.13,403.94 L635.77,403.91 L636.42,404.12 L637.06,404.18 L637.70,404.12 L638.35,404.09 L638.99,404.34 L639.63,403.94 L640.28,404.09 L640.92,403.98 L641.56,404.03 L642.21,404.41 L642.85,404.50 L643.49,404.39 L644.13,404.09 L644.78,404.02 L645.42,404.42 L646.06,404.36 L646.71,404.56 L647.35,404.38 L647.99,404.50 L648.64,404.23 L649.28,404.25 L649.92,404.10 L650.57,404.54 L651.21,404.46 L651.85,404.50 L652.50,404.28 L653.14,404.39 L653.78,404.31 L654.43,404.65 L655.07,404.54 L655.71,404.38 L656.36,404.29 L657.00,404.25 L657.64,404.60 L658.29,404.40 L658.93,404.57 L659.57,404.35 L660.22,404.23 L660.86,404.63 L661.50,404.70 L662.15,404.56 L662.79,404.26 L663.43,404.74 L664.08,404.71 L664.72,404.56 L665.36,404.55 L666.01,404.31 L666.65,404.78 L667.29,404.28 L667.94,404.64 L668.58,404.28 L669.22,404.44 L669.87,404.74 L670.51,404.73 L671.15,404.30 L671.80,404.71 L672.44,404.68 L673.08,404.45 L673.73,404.70 L674.37,404.34 L675.01,404.81 L675.66,404.84 L676.30,404.62" fill="none" stroke="#1f77b4" stroke-width="1.1" stroke-linejoin="round" opacity="1"/>
<path d="M492.50,398.56 L493.24,397.37 L493.97,398.75 L494.71,397.56 L495.44,397.42 L496.18,396.16 L496.87,397.26 L497.55,397.06 L498.24,396.73 L498.93,397.04 L499.62,395.97 L500.31,395.97 L501.00,396.20 L501.69,397.34 L502.38,395.65 L503.07,396.42 L503.76,396.32 L504.45,396.41 L505.14,396.44 L505.83,395.74 L506.51,396.80 L507.20,396.99 L507.89,395.61 L508.58,396.76 L509.27,396.71 L509.96,396.45 L510.67,395.86 L511.39,396.72 L512.10,397.33 L512.81,397.05 L513.52,397.19 L514.23,397.57 L514.95,396.47 L515.66,396.78 L516.32,397.64 L516.99,397.56 L517.65,396.69 L518.32,397.12 L518.98,397.51 L519.65,397.41 L520.32,397.00 L520.98,397.96 L521.65,397.57 L522.31,398.35 L522.98,397.88 L523.64,398.23 L524.31,398.18 L524.97,398.19 L525.64,398.22 L526.30,397.79 L526.97,398.42 L527.63,398.84 L528.30,398.08 L528.96,398.07 L529.63,398.22 L530.29,398.78 L530.96,398.75 L531.62,398.39 L532.29,399.05 L532.95,399.09 L533.62,398.71 L534.28,398.98 L534.95,398.80 L535.61,399.09 L536.28,398.43 L536.94,398.85 L537.61,399.00 L538.27,399.06 L538.94,399.11 L539.61,398.73 L540.27,398.75 L540.94,398.78 L541.60,398.71 L542.27,398.98 L542.93,399.17 L543.60,399.17 L544.25,399.39 L544.90,399.25 L545.55,399.19 L546.20,398.95 L546.84,399.17 L547.49,399.51 L548.14,399.24 L548.79,399.39 L549.44,399.11 L550.09,399.11 L550.74,399.29 L551.39,399.27 L552.04,399.44 L552.69,399.54 L553.34,399.25 L553.99,399.30 L554.64,399.44 L555.29,399.25 L555.94,399.34 L556.59,399.43 L557.24,399.78 L557.89,399.33 L558.54,399.83 L559.19,399.79 L559.84,399.85 L560.49,399.84 L561.14,399.58 L561.79,399.68 L562.44,399.94 L563.09,399.92 L563.74,399.64 L564.39,399.90 L565.04,399.97 L565.69,399.67 L566.34,399.99 L566.99,400.11 L567.64,399.89 L568.29,399.79 L568.94,400.22 L569.58,399.89 L570.23,400.16 L570.88,399.80 L571.53,400.05 L572.18,400.13 L572.83,400.15 L573.48,400.31 L574.13,400.35 L574.78,400.11 L575.43,400.14 L576.08,400.34 L576.73,400.38 L577.38,400.21 L578.03,399.97 L578.68,400.46 L579.33,400.14 L579.98,400.01 L580.63,400.38 L581.28,400.36 L581.93,400.27 L582.58,400.47 L583.23,400.60 L583.88,400.55 L584.53,400.16 L585.18,400.43 L585.83,400.20 L586.48,400.60 L587.13,400.30 L587.78,400.61 L588.43,400.55 L589.08,400.36 L589.73,400.23 L590.38,400.26 L591.03,400.37 L591.68,400.77 L592.32,400.50 L592.97,400.47 L593.62,400.74 L594.27,400.60 L594.92,400.74 L595.57,400.56 L596.22,400.54 L596.87,400.59 L597.52,400.87 L598.17,401.00 L598.82,400.88 L599.47,400.77 L600.12,401.03 L600.77,400.69 L601.42,400.70 L602.07,400.76 L602.72,400.89 L603.37,400.66 L604.02,400.97 L604.67,401.04 L605.32,400.81 L605.97,400.97 L606.62,401.02 L607.27,401.11 L607.92,401.26 L608.57,401.25 L609.22,401.21 L609.87,401.01 L610.52,401.24 L611.17,401.33 L611.82,401.45 L612.47,401.10 L613.12,401.39 L613.77,401.39 L614.41,401.60 L615.06,401.26 L615.71,401.49 L616.36,401.54 L617.01,401.53 L617.66,401.61 L618.31,401.58 L618.96,401.63 L619.61,401.67 L620.26,401.42 L620.91,401.37 L621.56,401.62 L622.21,401.85 L622.86,401.87 L623.51,401.80 L624.16,401.52 L624.81,401.51 L625.46,402.01 L626.11,402.03 L626.76,401.61 L627.41,401.75 L628.06,401.91 L628.71,401.84 L629.36,401.94 L630.01,402.19 L630.66,401.81 L631.31,402.33 L631.96,402.19 L632.61,402.40 L633.26,402.42 L633.91,402.38 L634.56,402.42 L635.21,402.04 L635.86,402.28 L636.51,402.27 L637.15,402.19 L637.80,402.37 L638.45,402.61 L639.10,402.63 L639.75,402.74 L640.40,402.58 L641.05,402.42 L641.70,402.36 L642.35,402.56 L643.00,402.84 L643.65,402.54 L644.30,402.68 L644.95,402.80 L645.60,402.64 L646.25,402.92 L646.90,402.71 L647.55,402.97 L648.20,402.92 L648.85,403.11 L649.50,403.18 L650.15,402.93 L650.80,402.90 L651.45,403.37 L652.10,403.31 L652.75,403.02 L653.40,402.98 L654.05,403.21 L654.70,403.05 L655.35,403.30 L656.00,403.12 L656.66,403.41 L657.31,403.50 L657.97,403.30 L658.62,403.27 L659.28,403.75 L659.93,403.81 L660.59,403.74 L661.24,403.90 L661.89,403.92 L662.55,403.78 L663.20,403.56 L663.86,403.68 L664.51,404.01 L665.17,404.05 L665.82,404.09 L666.48,403.83 L667.13,404.16 L667.79,404.31 L668.44,403.92 L669.10,403.98 L669.75,404.18 L670.41,404.30 L671.06,404.49 L671.72,404.35 L672.37,404.47 L673.03,404.26 L673.68,404.63 L674.34,404.31 L674.99,404.30 L675.65,404.33 L676.30,404.62" fill="none" stroke="#ff7f0e" stroke-width="1.1" stroke-linejoin="round" opacity="1"/>
<path d="M492.50,251.60 L492.87,380.61 L493.24,400.23 L493.95,401.29 L494.66,400.53 L495.37,401.64 L496.08,402.30 L496.80,401.55 L497.51,402.16 L498.22,402.43 L498.93,403.20 L499.62,404.18 L500.31,403.86 L501.00,404.20 L501.69,403.27 L502.38,404.74 L503.07,403.42 L503.76,404.58 L504.45,404.40 L505.11,403.89 L505.77,403.85 L506.43,404.15 L507.09,404.11 L507.74,404.09 L508.40,404.11 L509.06,404.90 L509.72,404.63 L510.38,405.08 L511.04,404.30 L511.70,404.73 L512.36,404.83 L513.02,404.81 L513.68,403.91 L514.34,405.07 L515.00,404.05 L515.66,404.09 L516.31,405.02 L516.96,404.22 L517.61,405.05 L518.26,404.49 L518.91,405.16 L519.56,404.92 L520.21,404.72 L520.86,404.87 L521.51,404.36 L522.16,404.58 L522.81,405.29 L523.46,404.71 L524.11,405.24 L524.75,405.16 L525.40,404.93 L526.05,405.02 L526.70,404.78 L527.35,404.35 L528.00,404.58 L528.65,404.83 L529.30,404.56 L529.95,405.23 L530.60,404.71 L531.25,404.48 L531.90,404.53 L532.55,404.95 L533.20,404.88 L533.85,405.09 L534.50,405.05 L535.15,404.58 L535.80,405.33 L536.45,404.73 L537.10,405.27 L537.75,405.01 L538.40,405.03 L539.05,405.45 L539.70,405.11 L540.35,405.49 L541.00,404.78 L541.65,404.80 L542.30,405.09 L542.95,404.96 L543.60,405.01 L544.25,405.37 L544.90,405.45 L545.55,405.22 L546.20,405.18 L546.84,405.11 L547.49,404.98 L548.14,404.91 L548.79,405.03 L549.44,405.38 L550.09,405.15 L550.74,404.95 L551.39,404.78 L552.04,405.30 L552.69,404.86 L553.34,405.00 L553.99,405.06 L554.64,404.75 L555.29,405.06 L555.94,405.08 L556.59,404.89 L557.24,404.82 L557.89,405.07 L558.54,404.87 L559.19,404.99 L559.84,404.70 L560.49,405.08 L561.14,404.64 L561.79,404.82 L562.44,404.96 L563.09,404.89 L563.74,404.65 L564.39,404.75 L565.04,404.96 L565.69,404.93 L566.34,404.96 L566.99,404.69 L567.64,404.59 L568.29,404.90 L568.94,404.49 L569.58,404.63 L570.23,404.46 L570.88,404.78 L571.53,404.79 L572.18,404.58 L572.83,404.40 L573.48,404.66 L574.13,404.68 L574.78,404.59 L575.43,404.89 L576.08,404.80 L576.73,404.70 L577.38,404.47 L578.03,404.65 L578.68,404.53 L579.33,404.68 L579.98,404.57 L580.63,404.59 L581.28,404.87 L581.93,404.57 L582.58,404.66 L583.23,404.51 L583.88,404.66 L584.53,404.83 L585.18,404.86 L585.83,404.58 L586.48,404.52 L587.13,404.47 L587.78,404.80 L588.43,404.88 L589.08,404.81 L589.73,404.39 L590.38,404.57 L591.03,404.85 L591.68,404.48 L592.32,404.55 L592.97,404.45 L593.62,404.78 L594.27,404.39 L594.92,404.65 L595.57,404.50 L596.22,404.84 L596.87,404.42 L597.52,404.37 L598.17,404.62 L598.82,404.57 L599.47,404.86 L600.12,404.52 L600.77,404.50 L601.42,404.42 L602.07,404.43 L602.72,404.72 L603.37,404.42 L604.02,404.51 L604.67,404.78 L605.32,404.80 L605.97,404.73 L606.62,404.73 L607.27,404.49 L607.92,404.50 L608.57,404.39 L609.22,404.49 L609.87,404.46 L610.52,404.44 L611.17,404.71 L611.82,404.46 L612.47,404.43 L613.12,404.60 L613.77,404.59 L614.41,404.18 L615.06,404.46 L615.71,404.65 L616.36,404.61 L617.01,404.35 L617.66,404.15 L618.31,404.55 L618.96,404.28 L619.61,404.32 L620.26,404.36 L620.91,404.40 L621.56,404.50 L622.21,404.45 L622.86,404.49 L623.51,404.14 L624.16,404.28 L624.81,404.02 L625.46,404.09 L626.11,404.30 L626.76,403.99 L627.41,404.09 L628.05,404.11 L628.70,404.16 L629.34,404.35 L629.98,404.00 L630.63,404.26 L631.27,404.46 L631.91,404.33 L632.56,404.08 L633.20,404.03 L633.84,404.31 L634.49,404.41 L635.13,404.25 L635.77,404.10 L636.42,404.56 L637.06,404.21 L637.70,404.13 L638.35,404.25 L638.99,404.10 L639.63,404.31 L640.28,404.41 L640.92,404.09 L641.56,404.17 L642.21,404.53 L642.85,404.59 L643.49,404.25 L644.13,404.29 L644.78,404.47 L645.42,404.62 L646.06,404.24 L646.71,404.50 L647.35,404.31 L647.99,404.36 L648.64,404.37 L649.28,404.15 L649.92,404.22 L650.57,404.31 L651.21,404.38 L651.85,404.27 L652.50,404.32 L653.14,404.62 L653.78,404.26 L654.43,404.68 L655.07,404.31 L655.71,404.48 L656.36,404.66 L657.00,404.59 L657.64,404.61 L658.29,404.45 L658.93,404.70 L659.57,404.66 L660.22,404.63 L660.86,404.36 L661.50,404.47 L662.15,404.50 L662.79,404.75 L663.43,404.45 L664.08,404.37 L664.72,404.47 L665.36,404.53 L666.01,404.81 L666.65,404.30 L667.29,404.56 L667.94,404.32 L668.58,404.59 L669.22,404.49 L669.87,404.45 L670.51,404.85 L671.15,404.83 L671.80,404.80 L672.44,404.59 L673.08,404.69 L673.73,404.70 L674.37,404.40 L675.01,404.63 L675.66,404.55 L676.30,404.62" fill="none" stroke="#2ca02c" stroke-width="1.1" stroke-linejoin="round" opacity="1"/>
<path d="M492.50,412.52 L493.24,409.67 L493.97,408.48 L494.71,406.45 L495.41,404.72 L496.11,405.65 L496.82,404.39 L497.52,403.71 L498.23,403.09 L498.93,403.46 L499.58,402.45 L500.23,402.61 L500.88,401.88 L501.53,403.29 L502.18,401.54 L502.83,402.84 L503.47,401.64 L504.12,402.08 L504.77,401.44 L505.42,402.45 L506.07,402.13 L506.72,402.42 L507.37,401.22 L508.01,401.52 L508.66,401.95 L509.31,401.87 L509.96,401.95 L510.62,401.63 L511.28,400.97 L511.94,401.02 L512.60,400.51 L513.26,401.26 L513.92,400.07 L514.58,399.75 L515.24,399.96 L515.90,399.83 L516.56,399.56 L517.22,400.41 L517.88,399.81 L518.53,400.16 L519.19,399.15 L519.85,399.32 L520.51,399.71 L521.17,399.18 L521.83,398.77 L522.49,399.02 L523.15,399.49 L523.81,398.56 L524.47,399.52 L525.13,398.64 L525.79,398.49 L526.45,398.72 L527.11,398.50 L527.77,398.92 L528.43,399.22 L529.09,398.94 L529.75,398.67 L530.41,398.62 L531.07,398.98 L531.73,398.43 L532.38,399.27 L533.04,398.82 L533.70,399.22 L534.36,398.91 L535.02,398.34 L535.68,399.08 L536.34,398.33 L537.00,398.38 L537.66,398.55 L538.32,399.05 L538.98,398.70 L539.64,398.51 L540.30,398.96 L540.96,398.78 L541.62,398.92 L542.28,398.34 L542.94,398.27 L543.60,398.25 L544.25,398.41 L544.90,398.56 L545.55,398.94 L546.20,398.68 L546.84,398.51 L547.49,398.54 L548.14,399.05 L548.79,399.08 L549.44,399.05 L550.09,398.55 L550.74,399.08 L551.39,398.93 L552.04,398.91 L552.69,398.69 L553.34,399.16 L553.99,399.11 L554.64,398.84 L555.29,399.25 L555.94,399.23 L556.59,399.33 L557.24,398.85 L557.89,399.27 L558.54,399.15 L559.19,399.24 L559.84,398.94 L560.49,399.11 L561.14,399.20 L561.79,399.28 L562.44,399.43 L563.09,399.14 L563.74,399.57 L564.39,399.31 L565.04,399.52 L565.69,399.55 L566.34,399.48 L566.99,399.65 L567.64,399.46 L568.29,399.77 L568.94,399.82 L569.58,399.78 L570.23,399.84 L570.88,399.43 L571.53,399.66 L572.18,399.59 L572.83,399.56 L573.48,399.92 L574.13,399.52 L574.78,399.85 L575.43,399.84 L576.08,399.85 L576.73,399.76 L577.38,399.74 L578.03,400.09 L578.68,399.76 L579.33,400.01 L579.98,400.13 L580.63,399.82 L581.28,399.84 L581.93,399.88 L582.58,400.20 L583.23,399.90 L583.88,400.00 L584.53,399.92 L585.18,400.06 L585.83,399.95 L586.48,400.26 L587.13,400.14 L587.78,400.15 L588.43,400.32 L589.08,400.35 L589.73,400.43 L590.38,400.20 L591.03,400.50 L591.68,400.32 L592.32,400.45 L592.97,400.39 L593.62,400.64 L594.27,400.79 L594.92,400.49 L595.57,400.81 L596.22,400.71 L596.87,400.51 L597.52,400.94 L598.17,400.49 L598.82,400.69 L599.47,400.73 L600.12,400.69 L600.77,401.06 L601.42,401.10 L602.07,400.75 L602.72,400.84 L603.37,400.84 L604.02,400.77 L604.67,401.10 L605.32,401.18 L605.97,400.76 L606.62,401.29 L607.27,401.06 L607.92,401.03 L608.57,400.87 L609.22,401.38 L609.87,401.06 L610.52,401.43 L611.17,401.25 L611.82,401.19 L612.47,401.08 L613.12,401.55 L613.77,401.19 L614.41,401.55 L615.06,401.43 L615.71,401.14 L616.36,401.24 L617.01,401.69 L617.66,401.76 L618.31,401.77 L618.96,401.38 L619.61,401.81 L620.26,401.43 L620.91,401.44 L621.56,401.46 L622.21,401.42 L622.86,401.61 L623.51,401.53 L624.16,401.71 L624.81,401.67 L625.46,402.03 L626.11,401.79 L626.76,401.57 L627.41,401.93 L628.06,401.78 L628.71,402.11 L629.36,401.98 L630.01,401.98 L630.66,401.89 L631.31,402.17 L631.96,402.12 L632.61,402.31 L633.26,402.13 L633.91,401.97 L634.56,402.31 L635.21,402.19 L635.86,402.28 L636.51,402.51 L637.15,402.27 L637.80,402.57 L638.45,402.38 L639.10,402.21 L639.75,402.62 L640.40,402.46 L641.05,402.67 L641.70,402.54 L642.35,402.82 L643.00,402.69 L643.65,402.56 L644.30,402.91 L644.95,402.87 L645.60,402.97 L646.25,403.05 L646.90,402.80 L647.55,402.74 L648.20,402.95 L648.85,403.02 L649.50,403.14 L650.15,403.21 L650.80,402.85 L651.45,403.14 L652.10,403.07 L652.75,403.32 L653.40,403.41 L654.05,403.54 L654.70,403.41 L655.35,403.38 L656.00,403.36 L656.66,403.35 L657.31,403.35 L657.97,403.29 L658.62,403.37 L659.28,403.47 L659.93,403.45 L660.59,403.63 L661.24,403.71 L661.89,403.51 L662.55,403.56 L663.20,403.88 L663.86,403.66 L664.51,403.94 L665.17,403.80 L665.82,404.24 L666.48,403.97 L667.13,403.81 L667.79,404.13 L668.44,403.94 L669.10,404.08 L669.75,404.48 L670.41,404.49 L671.06,404.39 L671.72,404.08 L672.37,404.29 L673.03,404.37 L673.68,404.26 L674.34,404.58 L674.99,404.74 L675.65,404.61 L676.30,404.62" fill="none" stroke="#d62728" stroke-width="1.1" stroke-linejoin="round" opacity="1"/>
<rect x="492.5" y="251.6" width="183.80" height="183.70" fill="none" stroke="#8a8a8a" stroke-width="1.0"/>
<line x1="492.5" y1="251.6" x2="492.5" y2="435.30" stroke="#4a3535" stroke-width="1.1"/>
<line x1="492.50" y1="435.3" x2="492.50" y2="437.8" stroke="#777" stroke-width="0.7"/>
<text x="492.50" y="443.36" font-size="5.29" text-anchor="middle" fill="#333" textLength="7.79" lengthAdjust="spacingAndGlyphs" stroke="#333" stroke-width="0.09">0.0</text>
<line x1="529.26" y1="435.3" x2="529.26" y2="437.8" stroke="#777" stroke-width="0.7"/>
<text x="529.26" y="443.36" font-size="5.29" text-anchor="middle" fill="#333" textLength="7.79" lengthAdjust="spacingAndGlyphs" stroke="#333" stroke-width="0.09">0.2</text>
<line x1="566.02" y1="435.3" x2="566.02" y2="437.8" stroke="#777" stroke-width="0.7"/>
<text x="566.02" y="443.36" font-size="5.29" text-anchor="middle" fill="#333" textLength="7.79" lengthAdjust="spacingAndGlyphs" stroke="#333" stroke-width="0.09">0.4</text>
<line x1="602.78" y1="435.3" x2="602.78" y2="437.8" stroke="#777" stroke-width="0.7"/>
<text x="602.78" y="443.36" font-size="5.29" text-anchor="middle" fill="#333" textLength="7.79" lengthAdjust="spacingAndGlyphs" stroke="#333" stroke-width="0.09">0.6</text>
<line x1="639.54" y1="435.3" x2="639.54" y2="437.8" stroke="#777" stroke-width="0.7"/>
<text x="639.54" y="443.36" font-size="5.29" text-anchor="middle" fill="#333" textLength="7.79" lengthAdjust="spacingAndGlyphs" stroke="#333" stroke-width="0.09">0.8</text>
<line x1="676.30" y1="435.3" x2="676.30" y2="437.8" stroke="#777" stroke-width="0.7"/>
<text x="676.30" y="443.36" font-size="5.29" text-anchor="middle" fill="#333" textLength="7.79" lengthAdjust="spacingAndGlyphs" stroke="#333" stroke-width="0.09">1.0</text>
<line x1="490.0" y1="435.30" x2="492.5" y2="435.30" stroke="#777" stroke-width="0.7"/>
<text x="488.20" y="437.06" font-size="5.29" text-anchor="end" fill="#333" textLength="7.79" lengthAdjust="spacingAndGlyphs" stroke="#333" stroke-width="0.09">0.0</text>
<line x1="490.0" y1="398.56" x2="492.5" y2="398.56" stroke="#777" stroke-width="0.7"/>
<text x="488.20" y="400.32" font-size="5.29" text-anchor="end" fill="#333" textLength="7.79" lengthAdjust="spacingAndGlyphs" stroke="#333" stroke-width="0.09">0.2</text>
<line x1="490.0" y1="361.82" x2="492.5" y2="361.82" stroke="#777" stroke-width="0.7"/>
<text x="488.20" y="363.58" font-size="5.29" text-anchor="end" fill="#333" textLength="7.79" lengthAdjust="spacingAndGlyphs" stroke="#333" stroke-width="0.09">0.4</text>
<line x1="490.0" y1="325.08" x2="492.5" y2="325.08" stroke="#777" stroke-width="0.7"/>
<text x="488.20" y="326.84" font-size="5.29" text-anchor="end" fill="#333" textLength="7.79" lengthAdjust="spacingAndGlyphs" stroke="#333" stroke-width="0.09">0.6</text>
<line x1="490.0" y1="288.34" x2="492.5" y2="288.34" stroke="#777" stroke-width="0.7"/>
<text x="488.20" y="290.10" font-size="5.29" text-anchor="end" fill="#333" textLength="7.79" lengthAdjust="spacingAndGlyphs" stroke="#333" stroke-width="0.09">0.8</text>
<line x1="490.0" y1="251.60" x2="492.5" y2="251.60" stroke="#777" stroke-width="0.7"/>
<text x="488.20" y="253.36" font-size="5.29" text-anchor="end" fill="#333" textLength="7.79" lengthAdjust="spacingAndGlyphs" stroke="#333" stroke-width="0.09">1.0</text>
<text x="584.40" y="454.20" font-size="9.40" text-anchor="middle" fill="#262626" textLength="80.80" lengthAdjust="spacingAndGlyphs" stroke="#262626" stroke-width="0.18">Recall (Sensitivity)</text>
<text x="476.20" y="343.45" font-size="9.40" text-anchor="middle" fill="#262626" transform="rotate(-90 476.20 343.45)" textLength="64.82" lengthAdjust="spacingAndGlyphs" stroke="#262626" stroke-width="0.18">Precision (PPV)</text>
<rect x="556.80" y="253.90" width="117.00" height="46.10" rx="1.5" fill="#fff" fill-opacity="0.85" stroke="#dedede" stroke-width="0.8"/>
<line x1="559.00" y1="259.10" x2="572.00" y2="259.10" stroke="#1f77b4" stroke-width="1.2"/>
<text x="575.80" y="261.26" font-size="6.48" text-anchor="start" fill="#262626" textLength="81.68" lengthAdjust="spacingAndGlyphs" stroke="#262626" stroke-width="0.18">Random Forest (AP = 0.18)</text>
<line x1="559.00" y1="268.00" x2="572.00" y2="268.00" stroke="#ff7f0e" stroke-width="1.2"/>
<text x="575.80" y="270.16" font-size="6.48" text-anchor="start" fill="#262626" textLength="83.27" lengthAdjust="spacingAndGlyphs" stroke="#262626" stroke-width="0.18">Neural Network (AP = 0.19)</text>
<line x1="559.00" y1="276.90" x2="572.00" y2="276.90" stroke="#2ca02c" stroke-width="1.2"/>
<text x="575.80" y="279.06" font-size="6.48" text-anchor="start" fill="#262626" textLength="94.07" lengthAdjust="spacingAndGlyphs" stroke="#262626" stroke-width="0.18">Logistic Regression (AP = 0.17)</text>
<line x1="559.00" y1="285.80" x2="572.00" y2="285.80" stroke="#d62728" stroke-width="1.2"/>
<text x="575.80" y="287.96" font-size="6.48" text-anchor="start" fill="#262626" textLength="93.27" lengthAdjust="spacingAndGlyphs" stroke="#262626" stroke-width="0.18">Mixed Naive Bayes (AP = 0.19)</text>
<line x1="559.00" y1="294.70" x2="572.00" y2="294.70" stroke="#9467bd" stroke-width="1.2" stroke-dasharray="3.0 1.6"/>
<text x="575.80" y="296.86" font-size="6.48" text-anchor="start" fill="#262626" textLength="20.98" lengthAdjust="spacingAndGlyphs" stroke="#262626" stroke-width="0.18">no skill</text>
<line x1="64.30" y1="479.0" x2="64.30" y2="635.3" stroke="#d6d6d6" stroke-width="0.9"/>
<line x1="97.90" y1="479.0" x2="97.90" y2="635.3" stroke="#d6d6d6" stroke-width="0.9"/>
<line x1="131.50" y1="479.0" x2="131.50" y2="635.3" stroke="#d6d6d6" stroke-width="0.9"/>
<line x1="165.10" y1="479.0" x2="165.10" y2="635.3" stroke="#d6d6d6" stroke-width="0.9"/>
<line x1="198.70" y1="479.0" x2="198.70" y2="635.3" stroke="#d6d6d6" stroke-width="0.9"/>
<line x1="232.30" y1="479.0" x2="232.30" y2="635.3" stroke="#d6d6d6" stroke-width="0.9"/>
<line x1="56.5" y1="628.30" x2="240.9" y2="628.30" stroke="#d6d6d6" stroke-width="0.9"/>
<line x1="56.5" y1="599.90" x2="240.9" y2="599.90" stroke="#d6d6d6" stroke-width="0.9"/>
<line x1="56.5" y1="571.50" x2="240.9" y2="571.50" stroke="#d6d6d6" stroke-width="0.9"/>
<line x1="56.5" y1="543.10" x2="240.9" y2="543.10" stroke="#d6d6d6" stroke-width="0.9"/>
<line x1="56.5" y1="514.70" x2="240.9" y2="514.70" stroke="#d6d6d6" stroke-width="0.9"/>
<line x1="56.5" y1="486.30" x2="240.9" y2="486.30" stroke="#d6d6d6" stroke-width="0.9"/>
<path d="M64.30,628.30 L232.30,486.30" fill="none" stroke="#111" stroke-width="0.75" stroke-linejoin="round" stroke-dasharray="1.0 1.0" opacity="1"/>
<path d="M72.03,612.25 L89.00,604.16 L106.30,596.63 L122.76,588.11 L139.56,579.45 L156.87,574.48 L173.50,580.59 L189.63,584.71 L206.93,593.94 L218.02,593.08" fill="none" stroke="#1b9e77" stroke-width="1.1" stroke-linejoin="round" opacity="1"/>
<path d="M72.03,610.11 L73.98,613.72 L70.08,613.72 Z" fill="#1b9e77"/>
<path d="M89.00,602.01 L90.95,605.62 L87.05,605.62 Z" fill="#1b9e77"/>
<path d="M106.30,594.49 L108.25,598.10 L104.35,598.10 Z" fill="#1b9e77"/>
<path d="M122.76,585.97 L124.71,589.58 L120.81,589.58 Z" fill="#1b9e77"/>
<path d="M139.56,577.31 L141.51,580.91 L137.61,580.91 Z" fill="#1b9e77"/>
<path d="M156.87,572.34 L158.82,575.94 L154.92,575.94 Z" fill="#1b9e77"/>
<path d="M173.50,578.44 L175.45,582.05 L171.55,582.05 Z" fill="#1b9e77"/>
<path d="M189.63,582.56 L191.58,586.17 L187.68,586.17 Z" fill="#1b9e77"/>
<path d="M206.93,591.79 L208.88,595.40 L204.98,595.40 Z" fill="#1b9e77"/>
<path d="M218.02,590.94 L219.97,594.55 L216.07,594.55 Z" fill="#1b9e77"/>
<path d="M75.39,617.65 L89.00,606.72 L105.46,593.94 L122.76,578.60 L139.56,565.39 L156.87,556.73 L171.48,555.60 L188.28,532.59 L204.08,498.80 L222.56,557.02" fill="none" stroke="#d95f02" stroke-width="1.1" stroke-linejoin="round" opacity="1"/>
<path d="M75.39,619.79 L77.34,616.19 L73.44,616.19 Z" fill="#d95f02"/>
<path d="M89.00,608.86 L90.95,605.25 L87.05,605.25 Z" fill="#d95f02"/>
<path d="M105.46,596.08 L107.41,592.47 L103.51,592.47 Z" fill="#d95f02"/>
<path d="M122.76,580.74 L124.71,577.14 L120.81,577.14 Z" fill="#d95f02"/>
<path d="M139.56,567.54 L141.51,563.93 L137.61,563.93 Z" fill="#d95f02"/>
<path d="M156.87,558.88 L158.82,555.27 L154.92,555.27 Z" fill="#d95f02"/>
<path d="M171.48,557.74 L173.43,554.13 L169.53,554.13 Z" fill="#d95f02"/>
<path d="M188.28,534.74 L190.23,531.13 L186.33,531.13 Z" fill="#d95f02"/>
<path d="M204.08,500.94 L206.03,497.33 L202.13,497.33 Z" fill="#d95f02"/>
<path d="M222.56,559.16 L224.51,555.55 L220.61,555.55 Z" fill="#d95f02"/>
<path d="M75.39,618.36 L89.00,607.28 L105.46,593.94 L122.26,580.02 L138.72,564.83 L155.36,555.03 L172.16,546.22 L189.12,550.91 L206.93,575.05 L216.17,486.30" fill="none" stroke="#7570b3" stroke-width="1.1" stroke-linejoin="round" opacity="1"/>
<rect x="73.73" y="616.70" width="3.31" height="3.31" fill="#7570b3"/>
<rect x="87.34" y="605.63" width="3.31" height="3.31" fill="#7570b3"/>
<rect x="103.80" y="592.28" width="3.31" height="3.31" fill="#7570b3"/>
<rect x="120.60" y="578.36" width="3.31" height="3.31" fill="#7570b3"/>
<rect x="137.07" y="563.17" width="3.31" height="3.31" fill="#7570b3"/>
<rect x="153.70" y="553.37" width="3.31" height="3.31" fill="#7570b3"/>
<rect x="170.50" y="544.57" width="3.31" height="3.31" fill="#7570b3"/>
<rect x="187.47" y="549.25" width="3.31" height="3.31" fill="#7570b3"/>
<rect x="205.27" y="573.39" width="3.31" height="3.31" fill="#7570b3"/>
<rect x="214.51" y="484.64" width="3.31" height="3.31" fill="#7570b3"/>
<path d="M74.55,612.25 L87.48,598.91 L105.46,587.26 L122.26,583.43 L139.56,580.59 L156.87,583.85 L173.50,582.01 L190.13,578.03 L207.44,581.16 L227.76,582.58" fill="none" stroke="#e7298a" stroke-width="1.1" stroke-linejoin="round" opacity="1"/>
<circle cx="74.55" cy="612.25" r="1.85" fill="#e7298a"/>
<circle cx="87.48" cy="598.91" r="1.85" fill="#e7298a"/>
<circle cx="105.46" cy="587.26" r="1.85" fill="#e7298a"/>
<circle cx="122.26" cy="583.43" r="1.85" fill="#e7298a"/>
<circle cx="139.56" cy="580.59" r="1.85" fill="#e7298a"/>
<circle cx="156.87" cy="583.85" r="1.85" fill="#e7298a"/>
<circle cx="173.50" cy="582.01" r="1.85" fill="#e7298a"/>
<circle cx="190.13" cy="578.03" r="1.85" fill="#e7298a"/>
<circle cx="207.44" cy="581.16" r="1.85" fill="#e7298a"/>
<circle cx="227.76" cy="582.58" r="1.85" fill="#e7298a"/>
<rect x="56.5" y="479.0" width="184.40" height="156.30" fill="none" stroke="#707070" stroke-width="1.0"/>
<line x1="64.30" y1="635.3" x2="64.30" y2="637.8" stroke="#777" stroke-width="0.7"/>
<text x="64.30" y="644.01" font-size="5.72" text-anchor="middle" fill="#333" textLength="8.43" lengthAdjust="spacingAndGlyphs" stroke="#333" stroke-width="0.09">0.0</text>
<line x1="97.90" y1="635.3" x2="97.90" y2="637.8" stroke="#777" stroke-width="0.7"/>
<text x="97.90" y="644.01" font-size="5.72" text-anchor="middle" fill="#333" textLength="8.43" lengthAdjust="spacingAndGlyphs" stroke="#333" stroke-width="0.09">0.2</text>
<line x1="131.50" y1="635.3" x2="131.50" y2="637.8" stroke="#777" stroke-width="0.7"/>
<text x="131.50" y="644.01" font-size="5.72" text-anchor="middle" fill="#333" textLength="8.43" lengthAdjust="spacingAndGlyphs" stroke="#333" stroke-width="0.09">0.4</text>
<line x1="165.10" y1="635.3" x2="165.10" y2="637.8" stroke="#777" stroke-width="0.7"/>
<text x="165.10" y="644.01" font-size="5.72" text-anchor="middle" fill="#333" textLength="8.43" lengthAdjust="spacingAndGlyphs" stroke="#333" stroke-width="0.09">0.6</text>
<line x1="198.70" y1="635.3" x2="198.70" y2="637.8" stroke="#777" stroke-width="0.7"/>
<text x="198.70" y="644.01" font-size="5.72" text-anchor="middle" fill="#333" textLength="8.43" lengthAdjust="spacingAndGlyphs" stroke="#333" stroke-width="0.09">0.8</text>
<line x1="232.30" y1="635.3" x2="232.30" y2="637.8" stroke="#777" stroke-width="0.7"/>
<text x="232.30" y="644.01" font-size="5.72" text-anchor="middle" fill="#333" textLength="8.43" lengthAdjust="spacingAndGlyphs" stroke="#333" stroke-width="0.09">1.0</text>
<line x1="54.0" y1="628.30" x2="56.5" y2="628.30" stroke="#777" stroke-width="0.7"/>
<text x="52.70" y="630.21" font-size="5.72" text-anchor="end" fill="#333" textLength="8.43" lengthAdjust="spacingAndGlyphs" stroke="#333" stroke-width="0.09">0.0</text>
<line x1="54.0" y1="599.90" x2="56.5" y2="599.90" stroke="#777" stroke-width="0.7"/>
<text x="52.70" y="601.81" font-size="5.72" text-anchor="end" fill="#333" textLength="8.43" lengthAdjust="spacingAndGlyphs" stroke="#333" stroke-width="0.09">0.2</text>
<line x1="54.0" y1="571.50" x2="56.5" y2="571.50" stroke="#777" stroke-width="0.7"/>
<text x="52.70" y="573.41" font-size="5.72" text-anchor="end" fill="#333" textLength="8.43" lengthAdjust="spacingAndGlyphs" stroke="#333" stroke-width="0.09">0.4</text>
<line x1="54.0" y1="543.10" x2="56.5" y2="543.10" stroke="#777" stroke-width="0.7"/>
<text x="52.70" y="545.01" font-size="5.72" text-anchor="end" fill="#333" textLength="8.43" lengthAdjust="spacingAndGlyphs" stroke="#333" stroke-width="0.09">0.6</text>
<line x1="54.0" y1="514.70" x2="56.5" y2="514.70" stroke="#777" stroke-width="0.7"/>
<text x="52.70" y="516.61" font-size="5.72" text-anchor="end" fill="#333" textLength="8.43" lengthAdjust="spacingAndGlyphs" stroke="#333" stroke-width="0.09">0.8</text>
<line x1="54.0" y1="486.30" x2="56.5" y2="486.30" stroke="#777" stroke-width="0.7"/>
<text x="52.70" y="488.21" font-size="5.72" text-anchor="end" fill="#333" textLength="8.43" lengthAdjust="spacingAndGlyphs" stroke="#333" stroke-width="0.09">1.0</text>
<text x="148.30" y="651.30" font-size="5.72" text-anchor="middle" fill="#262626" textLength="119.17" lengthAdjust="spacingAndGlyphs" stroke="#262626" stroke-width="0.09">Mean predicted probability (Positive class: 1)</text>
<text x="40.10" y="557.15" font-size="5.72" text-anchor="middle" fill="#262626" transform="rotate(-90 40.10 557.15)" textLength="101.12" lengthAdjust="spacingAndGlyphs" stroke="#262626" stroke-width="0.09">Fraction of positives (Positive class: 1)</text>
<rect x="57.60" y="480.90" width="71.20" height="42.10" rx="1.5" fill="#fff" fill-opacity="0.85" stroke="#dedede" stroke-width="0.8"/>
<line x1="60.30" y1="486.50" x2="71.40" y2="486.50" stroke="#333" stroke-width="0.7" stroke-dasharray="0.8 0.8"/>
<text x="75.10" y="488.41" font-size="5.72" text-anchor="start" fill="#262626" textLength="51.46" lengthAdjust="spacingAndGlyphs" stroke="#262626" stroke-width="0.09">Perfectly calibrated</text>
<line x1="60.30" y1="494.40" x2="71.40" y2="494.40" stroke="#1b9e77" stroke-width="1.1"/>
<path d="M65.85,492.20 L67.85,495.90 L63.85,495.90 Z" fill="#1b9e77"/>
<text x="75.10" y="496.31" font-size="5.72" text-anchor="start" fill="#262626" textLength="39.89" lengthAdjust="spacingAndGlyphs" stroke="#262626" stroke-width="0.09">Random Forest</text>
<line x1="60.30" y1="502.30" x2="71.40" y2="502.30" stroke="#d95f02" stroke-width="1.1"/>
<path d="M65.85,504.50 L67.85,500.80 L63.85,500.80 Z" fill="#d95f02"/>
<text x="75.10" y="504.21" font-size="5.72" text-anchor="start" fill="#262626" textLength="50.84" lengthAdjust="spacingAndGlyphs" stroke="#262626" stroke-width="0.09">Logistic Regression</text>
<line x1="60.30" y1="510.20" x2="71.40" y2="510.20" stroke="#7570b3" stroke-width="1.1"/>
<rect x="64.15" y="508.50" width="3.40" height="3.40" fill="#7570b3"/>
<text x="75.10" y="512.11" font-size="5.72" text-anchor="start" fill="#262626" textLength="41.30" lengthAdjust="spacingAndGlyphs" stroke="#262626" stroke-width="0.09">Neural Network</text>
<line x1="60.30" y1="518.10" x2="71.40" y2="518.10" stroke="#e7298a" stroke-width="1.1"/>
<circle cx="65.85" cy="518.10" r="1.90" fill="#e7298a"/>
<text x="75.10" y="520.01" font-size="5.72" text-anchor="start" fill="#262626" textLength="50.14" lengthAdjust="spacingAndGlyphs" stroke="#262626" stroke-width="0.09">Mixed Naive Bayes</text>
<line x1="283.70" y1="477.7" x2="283.70" y2="635.3" stroke="#d6d6d6" stroke-width="0.9"/>
<line x1="317.62" y1="477.7" x2="317.62" y2="635.3" stroke="#d6d6d6" stroke-width="0.9"/>
<line x1="351.54" y1="477.7" x2="351.54" y2="635.3" stroke="#d6d6d6" stroke-width="0.9"/>
<line x1="385.46" y1="477.7" x2="385.46" y2="635.3" stroke="#d6d6d6" stroke-width="0.9"/>
<line x1="419.38" y1="477.7" x2="419.38" y2="635.3" stroke="#d6d6d6" stroke-width="0.9"/>
<line x1="453.30" y1="477.7" x2="453.30" y2="635.3" stroke="#d6d6d6" stroke-width="0.9"/>
<line x1="275.2" y1="628.60" x2="462.0" y2="628.60" stroke="#d6d6d6" stroke-width="0.9"/>
<line x1="275.2" y1="599.80" x2="462.0" y2="599.80" stroke="#d6d6d6" stroke-width="0.9"/>
<line x1="275.2" y1="571.00" x2="462.0" y2="571.00" stroke="#d6d6d6" stroke-width="0.9"/>
<line x1="275.2" y1="542.20" x2="462.0" y2="542.20" stroke="#d6d6d6" stroke-width="0.9"/>
<line x1="275.2" y1="513.40" x2="462.0" y2="513.40" stroke="#d6d6d6" stroke-width="0.9"/>
<line x1="275.2" y1="484.60" x2="462.0" y2="484.60" stroke="#d6d6d6" stroke-width="0.9"/>
<path d="M283.70,628.60 L453.30,484.60" fill="none" stroke="#111" stroke-width="0.75" stroke-linejoin="round" stroke-dasharray="1.0 1.0" opacity="1"/>
<path d="M294.89,542.20 L311.01,554.44 L328.14,557.32 L344.76,557.75 L361.55,549.69 L378.00,543.93 L394.45,534.57 L410.90,528.09 L427.18,522.90 L443.63,521.32" fill="none" stroke="#1b9e77" stroke-width="1.1" stroke-linejoin="round" opacity="1"/>
<path d="M294.89,540.06 L296.84,543.66 L292.94,543.66 Z" fill="#1b9e77"/>
<path d="M311.01,552.30 L312.96,555.90 L309.06,555.90 Z" fill="#1b9e77"/>
<path d="M328.14,555.18 L330.09,558.78 L326.19,558.78 Z" fill="#1b9e77"/>
<path d="M344.76,555.61 L346.71,559.21 L342.81,559.21 Z" fill="#1b9e77"/>
<path d="M361.55,547.54 L363.50,551.15 L359.60,551.15 Z" fill="#1b9e77"/>
<path d="M378.00,541.78 L379.95,545.39 L376.05,545.39 Z" fill="#1b9e77"/>
<path d="M394.45,532.42 L396.40,536.03 L392.50,536.03 Z" fill="#1b9e77"/>
<path d="M410.90,525.94 L412.85,529.55 L408.95,529.55 Z" fill="#1b9e77"/>
<path d="M427.18,520.76 L429.13,524.37 L425.23,524.37 Z" fill="#1b9e77"/>
<path d="M443.63,519.18 L445.58,522.78 L441.68,522.78 Z" fill="#1b9e77"/>
<path d="M288.28,532.26 L311.68,593.18 L328.81,588.28 L344.76,576.76 L361.89,563.80 L378.00,547.82 L394.45,534.28 L410.56,520.02 L425.32,509.37 L438.88,500.44" fill="none" stroke="#d95f02" stroke-width="1.1" stroke-linejoin="round" opacity="1"/>
<path d="M288.28,534.41 L290.23,530.80 L286.33,530.80 Z" fill="#d95f02"/>
<path d="M311.68,595.32 L313.63,591.71 L309.73,591.71 Z" fill="#d95f02"/>
<path d="M328.81,590.42 L330.76,586.82 L326.86,586.82 Z" fill="#d95f02"/>
<path d="M344.76,578.90 L346.71,575.30 L342.81,575.30 Z" fill="#d95f02"/>
<path d="M361.89,565.94 L363.84,562.34 L359.94,562.34 Z" fill="#d95f02"/>
<path d="M378.00,549.96 L379.95,546.35 L376.05,546.35 Z" fill="#d95f02"/>
<path d="M394.45,536.42 L396.40,532.82 L392.50,532.82 Z" fill="#d95f02"/>
<path d="M410.56,522.17 L412.51,518.56 L408.61,518.56 Z" fill="#d95f02"/>
<path d="M425.32,511.51 L427.27,507.91 L423.37,507.91 Z" fill="#d95f02"/>
<path d="M438.88,502.59 L440.83,498.98 L436.93,498.98 Z" fill="#d95f02"/>
<path d="M298.12,556.17 L313.04,586.70 L328.81,590.58 L344.76,576.04 L361.55,562.50 L378.00,548.39 L394.45,535.14 L410.56,522.33 L425.32,510.95 L440.41,507.50" fill="none" stroke="#7570b3" stroke-width="1.1" stroke-linejoin="round" opacity="1"/>
<rect x="296.46" y="554.51" width="3.31" height="3.31" fill="#7570b3"/>
<rect x="311.38" y="585.04" width="3.31" height="3.31" fill="#7570b3"/>
<rect x="327.16" y="588.93" width="3.31" height="3.31" fill="#7570b3"/>
<rect x="343.10" y="574.38" width="3.31" height="3.31" fill="#7570b3"/>
<rect x="359.89" y="560.85" width="3.31" height="3.31" fill="#7570b3"/>
<rect x="376.34" y="546.73" width="3.31" height="3.31" fill="#7570b3"/>
<rect x="392.79" y="533.49" width="3.31" height="3.31" fill="#7570b3"/>
<rect x="408.90" y="520.67" width="3.31" height="3.31" fill="#7570b3"/>
<rect x="423.66" y="509.29" width="3.31" height="3.31" fill="#7570b3"/>
<rect x="438.75" y="505.84" width="3.31" height="3.31" fill="#7570b3"/>
<path d="M288.45,556.17 L309.48,559.05 L327.12,563.22 L344.25,560.63 L361.55,554.87 L378.00,553.29 L395.13,541.91 L411.41,529.96 L425.99,518.15 L438.88,501.30" fill="none" stroke="#e7298a" stroke-width="1.1" stroke-linejoin="round" opacity="1"/>
<circle cx="288.45" cy="556.17" r="1.85" fill="#e7298a"/>
<circle cx="309.48" cy="559.05" r="1.85" fill="#e7298a"/>
<circle cx="327.12" cy="563.22" r="1.85" fill="#e7298a"/>
<circle cx="344.25" cy="560.63" r="1.85" fill="#e7298a"/>
<circle cx="361.55" cy="554.87" r="1.85" fill="#e7298a"/>
<circle cx="378.00" cy="553.29" r="1.85" fill="#e7298a"/>
<circle cx="395.13" cy="541.91" r="1.85" fill="#e7298a"/>
<circle cx="411.41" cy="529.96" r="1.85" fill="#e7298a"/>
<circle cx="425.99" cy="518.15" r="1.85" fill="#e7298a"/>
<circle cx="438.88" cy="501.30" r="1.85" fill="#e7298a"/>
<rect x="275.2" y="477.7" width="186.80" height="157.60" fill="none" stroke="#707070" stroke-width="1.0"/>
<line x1="283.70" y1="635.3" x2="283.70" y2="637.8" stroke="#777" stroke-width="0.7"/>
<text x="283.70" y="644.01" font-size="5.72" text-anchor="middle" fill="#333" textLength="8.43" lengthAdjust="spacingAndGlyphs" stroke="#333" stroke-width="0.09">0.0</text>
<line x1="317.62" y1="635.3" x2="317.62" y2="637.8" stroke="#777" stroke-width="0.7"/>
<text x="317.62" y="644.01" font-size="5.72" text-anchor="middle" fill="#333" textLength="8.43" lengthAdjust="spacingAndGlyphs" stroke="#333" stroke-width="0.09">0.2</text>
<line x1="351.54" y1="635.3" x2="351.54" y2="637.8" stroke="#777" stroke-width="0.7"/>
<text x="351.54" y="644.01" font-size="5.72" text-anchor="middle" fill="#333" textLength="8.43" lengthAdjust="spacingAndGlyphs" stroke="#333" stroke-width="0.09">0.4</text>
<line x1="385.46" y1="635.3" x2="385.46" y2="637.8" stroke="#777" stroke-width="0.7"/>
<text x="385.46" y="644.01" font-size="5.72" text-anchor="middle" fill="#333" textLength="8.43" lengthAdjust="spacingAndGlyphs" stroke="#333" stroke-width="0.09">0.6</text>
<line x1="419.38" y1="635.3" x2="419.38" y2="637.8" stroke="#777" stroke-width="0.7"/>
<text x="419.38" y="644.01" font-size="5.72" text-anchor="middle" fill="#333" textLength="8.43" lengthAdjust="spacingAndGlyphs" stroke="#333" stroke-width="0.09">0.8</text>
<line x1="453.30" y1="635.3" x2="453.30" y2="637.8" stroke="#777" stroke-width="0.7"/>
<text x="453.30" y="644.01" font-size="5.72" text-anchor="middle" fill="#333" textLength="8.43" lengthAdjust="spacingAndGlyphs" stroke="#333" stroke-width="0.09">1.0</text>
<line x1="272.7" y1="628.60" x2="275.2" y2="628.60" stroke="#777" stroke-width="0.7"/>
<text x="271.40" y="630.51" font-size="5.72" text-anchor="end" fill="#333" textLength="8.43" lengthAdjust="spacingAndGlyphs" stroke="#333" stroke-width="0.09">0.0</text>
<line x1="272.7" y1="599.80" x2="275.2" y2="599.80" stroke="#777" stroke-width="0.7"/>
<text x="271.40" y="601.71" font-size="5.72" text-anchor="end" fill="#333" textLength="8.43" lengthAdjust="spacingAndGlyphs" stroke="#333" stroke-width="0.09">0.2</text>
<line x1="272.7" y1="571.00" x2="275.2" y2="571.00" stroke="#777" stroke-width="0.7"/>
<text x="271.40" y="572.91" font-size="5.72" text-anchor="end" fill="#333" textLength="8.43" lengthAdjust="spacingAndGlyphs" stroke="#333" stroke-width="0.09">0.4</text>
<line x1="272.7" y1="542.20" x2="275.2" y2="542.20" stroke="#777" stroke-width="0.7"/>
<text x="271.40" y="544.11" font-size="5.72" text-anchor="end" fill="#333" textLength="8.43" lengthAdjust="spacingAndGlyphs" stroke="#333" stroke-width="0.09">0.6</text>
<line x1="272.7" y1="513.40" x2="275.2" y2="513.40" stroke="#777" stroke-width="0.7"/>
<text x="271.40" y="515.31" font-size="5.72" text-anchor="end" fill="#333" textLength="8.43" lengthAdjust="spacingAndGlyphs" stroke="#333" stroke-width="0.09">0.8</text>
<line x1="272.7" y1="484.60" x2="275.2" y2="484.60" stroke="#777" stroke-width="0.7"/>
<text x="271.40" y="486.51" font-size="5.72" text-anchor="end" fill="#333" textLength="8.43" lengthAdjust="spacingAndGlyphs" stroke="#333" stroke-width="0.09">1.0</text>
<text x="368.50" y="651.30" font-size="5.72" text-anchor="middle" fill="#262626" textLength="119.17" lengthAdjust="spacingAndGlyphs" stroke="#262626" stroke-width="0.09">Mean predicted probability (Positive class: 1)</text>
<text x="258.80" y="556.50" font-size="5.72" text-anchor="middle" fill="#262626" transform="rotate(-90 258.80 556.50)" textLength="101.12" lengthAdjust="spacingAndGlyphs" stroke="#262626" stroke-width="0.09">Fraction of positives (Positive class: 1)</text>
<rect x="276.30" y="479.60" width="71.20" height="42.10" rx="1.5" fill="#fff" fill-opacity="0.85" stroke="#dedede" stroke-width="0.8"/>
<line x1="279.00" y1="485.20" x2="290.10" y2="485.20" stroke="#333" stroke-width="0.7" stroke-dasharray="0.8 0.8"/>
<text x="293.80" y="487.11" font-size="5.72" text-anchor="start" fill="#262626" textLength="51.46" lengthAdjust="spacingAndGlyphs" stroke="#262626" stroke-width="0.09">Perfectly calibrated</text>
<line x1="279.00" y1="493.10" x2="290.10" y2="493.10" stroke="#1b9e77" stroke-width="1.1"/>
<path d="M284.55,490.90 L286.55,494.60 L282.55,494.60 Z" fill="#1b9e77"/>
<text x="293.80" y="495.01" font-size="5.72" text-anchor="start" fill="#262626" textLength="39.89" lengthAdjust="spacingAndGlyphs" stroke="#262626" stroke-width="0.09">Random Forest</text>
<line x1="279.00" y1="501.00" x2="290.10" y2="501.00" stroke="#d95f02" stroke-width="1.1"/>
<path d="M284.55,503.20 L286.55,499.50 L282.55,499.50 Z" fill="#d95f02"/>
<text x="293.80" y="502.91" font-size="5.72" text-anchor="start" fill="#262626" textLength="50.84" lengthAdjust="spacingAndGlyphs" stroke="#262626" stroke-width="0.09">Logistic Regression</text>
<line x1="279.00" y1="508.90" x2="290.10" y2="508.90" stroke="#7570b3" stroke-width="1.1"/>
<rect x="282.85" y="507.20" width="3.40" height="3.40" fill="#7570b3"/>
<text x="293.80" y="510.81" font-size="5.72" text-anchor="start" fill="#262626" textLength="41.30" lengthAdjust="spacingAndGlyphs" stroke="#262626" stroke-width="0.09">Neural Network</text>
<line x1="279.00" y1="516.80" x2="290.10" y2="516.80" stroke="#e7298a" stroke-width="1.1"/>
<circle cx="284.55" cy="516.80" r="1.90" fill="#e7298a"/>
<text x="293.80" y="518.71" font-size="5.72" text-anchor="start" fill="#262626" textLength="50.14" lengthAdjust="spacingAndGlyphs" stroke="#262626" stroke-width="0.09">Mixed Naive Bayes</text>
<line x1="505.50" y1="477.4" x2="505.50" y2="636.1" stroke="#d6d6d6" stroke-width="0.9"/>
<line x1="538.72" y1="477.4" x2="538.72" y2="636.1" stroke="#d6d6d6" stroke-width="0.9"/>
<line x1="571.94" y1="477.4" x2="571.94" y2="636.1" stroke="#d6d6d6" stroke-width="0.9"/>
<line x1="605.16" y1="477.4" x2="605.16" y2="636.1" stroke="#d6d6d6" stroke-width="0.9"/>
<line x1="638.38" y1="477.4" x2="638.38" y2="636.1" stroke="#d6d6d6" stroke-width="0.9"/>
<line x1="671.60" y1="477.4" x2="671.60" y2="636.1" stroke="#d6d6d6" stroke-width="0.9"/>
<line x1="497.2" y1="628.60" x2="680.4" y2="628.60" stroke="#d6d6d6" stroke-width="0.9"/>
<line x1="497.2" y1="599.74" x2="680.4" y2="599.74" stroke="#d6d6d6" stroke-width="0.9"/>
<line x1="497.2" y1="570.88" x2="680.4" y2="570.88" stroke="#d6d6d6" stroke-width="0.9"/>
<line x1="497.2" y1="542.02" x2="680.4" y2="542.02" stroke="#d6d6d6" stroke-width="0.9"/>
<line x1="497.2" y1="513.16" x2="680.4" y2="513.16" stroke="#d6d6d6" stroke-width="0.9"/>
<line x1="497.2" y1="484.30" x2="680.4" y2="484.30" stroke="#d6d6d6" stroke-width="0.9"/>
<path d="M505.50,628.60 L671.60,484.30" fill="none" stroke="#111" stroke-width="0.75" stroke-linejoin="round" stroke-dasharray="1.0 1.0" opacity="1"/>
<path d="M515.80,605.08 L531.25,604.50 L542.37,599.02 L559.81,601.33 L580.08,599.31 L595.53,595.84 L615.13,606.81 L628.91,606.81 L646.19,590.65 L661.30,628.60" fill="none" stroke="#1b9e77" stroke-width="1.1" stroke-linejoin="round" opacity="1"/>
<path d="M515.80,602.93 L517.75,606.54 L513.85,606.54 Z" fill="#1b9e77"/>
<path d="M531.25,602.36 L533.20,605.96 L529.30,605.96 Z" fill="#1b9e77"/>
<path d="M542.37,596.87 L544.32,600.48 L540.42,600.48 Z" fill="#1b9e77"/>
<path d="M559.81,599.18 L561.76,602.79 L557.86,602.79 Z" fill="#1b9e77"/>
<path d="M580.08,597.16 L582.03,600.77 L578.13,600.77 Z" fill="#1b9e77"/>
<path d="M595.53,593.70 L597.48,597.31 L593.58,597.31 Z" fill="#1b9e77"/>
<path d="M615.13,604.67 L617.08,608.27 L613.18,608.27 Z" fill="#1b9e77"/>
<path d="M628.91,604.67 L630.86,608.27 L626.96,608.27 Z" fill="#1b9e77"/>
<path d="M646.19,588.50 L648.14,592.11 L644.24,592.11 Z" fill="#1b9e77"/>
<path d="M661.30,626.46 L663.25,630.06 L659.35,630.06 Z" fill="#1b9e77"/>
<path d="M517.79,603.20 L530.58,604.50 L546.69,604.50 L561.64,603.92 L580.08,603.49 L595.53,603.92 L612.14,604.50 L628.91,590.36 L644.03,589.35 L661.97,628.60" fill="none" stroke="#d95f02" stroke-width="1.1" stroke-linejoin="round" opacity="1"/>
<path d="M517.79,605.35 L519.74,601.74 L515.84,601.74 Z" fill="#d95f02"/>
<path d="M530.58,606.65 L532.53,603.04 L528.63,603.04 Z" fill="#d95f02"/>
<path d="M546.69,606.65 L548.64,603.04 L544.74,603.04 Z" fill="#d95f02"/>
<path d="M561.64,606.07 L563.59,602.46 L559.69,602.46 Z" fill="#d95f02"/>
<path d="M580.08,605.64 L582.03,602.03 L578.13,602.03 Z" fill="#d95f02"/>
<path d="M595.53,606.07 L597.48,602.46 L593.58,602.46 Z" fill="#d95f02"/>
<path d="M612.14,606.65 L614.09,603.04 L610.19,603.04 Z" fill="#d95f02"/>
<path d="M628.91,592.51 L630.86,588.90 L626.96,588.90 Z" fill="#d95f02"/>
<path d="M644.03,591.50 L645.98,587.89 L642.08,587.89 Z" fill="#d95f02"/>
<path d="M661.97,630.75 L663.92,627.14 L660.02,627.14 Z" fill="#d95f02"/>
<path d="M519.95,612.87 L542.37,599.74 L559.81,600.61 L573.93,628.60" fill="none" stroke="#7570b3" stroke-width="1.1" stroke-linejoin="round" opacity="1"/>
<rect x="518.29" y="611.21" width="3.31" height="3.31" fill="#7570b3"/>
<rect x="540.72" y="598.08" width="3.31" height="3.31" fill="#7570b3"/>
<rect x="558.16" y="598.95" width="3.31" height="3.31" fill="#7570b3"/>
<rect x="572.28" y="626.94" width="3.31" height="3.31" fill="#7570b3"/>
<path d="M515.80,610.56 L532.24,604.79 L543.37,600.32 L561.64,602.19 L580.08,604.79 L596.02,601.33 L611.80,601.33 L629.91,607.10 L646.85,607.10 L665.45,609.26" fill="none" stroke="#e7298a" stroke-width="1.1" stroke-linejoin="round" opacity="1"/>
<circle cx="515.80" cy="610.56" r="1.85" fill="#e7298a"/>
<circle cx="532.24" cy="604.79" r="1.85" fill="#e7298a"/>
<circle cx="543.37" cy="600.32" r="1.85" fill="#e7298a"/>
<circle cx="561.64" cy="602.19" r="1.85" fill="#e7298a"/>
<circle cx="580.08" cy="604.79" r="1.85" fill="#e7298a"/>
<circle cx="596.02" cy="601.33" r="1.85" fill="#e7298a"/>
<circle cx="611.80" cy="601.33" r="1.85" fill="#e7298a"/>
<circle cx="629.91" cy="607.10" r="1.85" fill="#e7298a"/>
<circle cx="646.85" cy="607.10" r="1.85" fill="#e7298a"/>
<circle cx="665.45" cy="609.26" r="1.85" fill="#e7298a"/>
<rect x="497.2" y="477.4" width="183.20" height="158.70" fill="none" stroke="#707070" stroke-width="1.0"/>
<line x1="505.50" y1="636.1" x2="505.50" y2="638.6" stroke="#777" stroke-width="0.7"/>
<text x="505.50" y="644.01" font-size="5.72" text-anchor="middle" fill="#333" textLength="8.43" lengthAdjust="spacingAndGlyphs" stroke="#333" stroke-width="0.09">0.0</text>
<line x1="538.72" y1="636.1" x2="538.72" y2="638.6" stroke="#777" stroke-width="0.7"/>
<text x="538.72" y="644.01" font-size="5.72" text-anchor="middle" fill="#333" textLength="8.43" lengthAdjust="spacingAndGlyphs" stroke="#333" stroke-width="0.09">0.2</text>
<line x1="571.94" y1="636.1" x2="571.94" y2="638.6" stroke="#777" stroke-width="0.7"/>
<text x="571.94" y="644.01" font-size="5.72" text-anchor="middle" fill="#333" textLength="8.43" lengthAdjust="spacingAndGlyphs" stroke="#333" stroke-width="0.09">0.4</text>
<line x1="605.16" y1="636.1" x2="605.16" y2="638.6" stroke="#777" stroke-width="0.7"/>
<text x="605.16" y="644.01" font-size="5.72" text-anchor="middle" fill="#333" textLength="8.43" lengthAdjust="spacingAndGlyphs" stroke="#333" stroke-width="0.09">0.6</text>
<line x1="638.38" y1="636.1" x2="638.38" y2="638.6" stroke="#777" stroke-width="0.7"/>
<text x="638.38" y="644.01" font-size="5.72" text-anchor="middle" fill="#333" textLength="8.43" lengthAdjust="spacingAndGlyphs" stroke="#333" stroke-width="0.09">0.8</text>
<line x1="671.60" y1="636.1" x2="671.60" y2="638.6" stroke="#777" stroke-width="0.7"/>
<text x="671.60" y="644.01" font-size="5.72" text-anchor="middle" fill="#333" textLength="8.43" lengthAdjust="spacingAndGlyphs" stroke="#333" stroke-width="0.09">1.0</text>
<line x1="494.7" y1="628.60" x2="497.2" y2="628.60" stroke="#777" stroke-width="0.7"/>
<text x="493.40" y="630.51" font-size="5.72" text-anchor="end" fill="#333" textLength="8.43" lengthAdjust="spacingAndGlyphs" stroke="#333" stroke-width="0.09">0.0</text>
<line x1="494.7" y1="599.74" x2="497.2" y2="599.74" stroke="#777" stroke-width="0.7"/>
<text x="493.40" y="601.65" font-size="5.72" text-anchor="end" fill="#333" textLength="8.43" lengthAdjust="spacingAndGlyphs" stroke="#333" stroke-width="0.09">0.2</text>
<line x1="494.7" y1="570.88" x2="497.2" y2="570.88" stroke="#777" stroke-width="0.7"/>
<text x="493.40" y="572.79" font-size="5.72" text-anchor="end" fill="#333" textLength="8.43" lengthAdjust="spacingAndGlyphs" stroke="#333" stroke-width="0.09">0.4</text>
<line x1="494.7" y1="542.02" x2="497.2" y2="542.02" stroke="#777" stroke-width="0.7"/>
<text x="493.40" y="543.93" font-size="5.72" text-anchor="end" fill="#333" textLength="8.43" lengthAdjust="spacingAndGlyphs" stroke="#333" stroke-width="0.09">0.6</text>
<line x1="494.7" y1="513.16" x2="497.2" y2="513.16" stroke="#777" stroke-width="0.7"/>
<text x="493.40" y="515.07" font-size="5.72" text-anchor="end" fill="#333" textLength="8.43" lengthAdjust="spacingAndGlyphs" stroke="#333" stroke-width="0.09">0.8</text>
<line x1="494.7" y1="484.30" x2="497.2" y2="484.30" stroke="#777" stroke-width="0.7"/>
<text x="493.40" y="486.21" font-size="5.72" text-anchor="end" fill="#333" textLength="8.43" lengthAdjust="spacingAndGlyphs" stroke="#333" stroke-width="0.09">1.0</text>
<text x="588.55" y="651.30" font-size="5.72" text-anchor="middle" fill="#262626" textLength="119.17" lengthAdjust="spacingAndGlyphs" stroke="#262626" stroke-width="0.09">Mean predicted probability (Positive class: 1)</text>
<text x="480.80" y="556.75" font-size="5.72" text-anchor="middle" fill="#262626" transform="rotate(-90 480.80 556.75)" textLength="101.12" lengthAdjust="spacingAndGlyphs" stroke="#262626" stroke-width="0.09">Fraction of positives (Positive class: 1)</text>
<rect x="498.30" y="479.30" width="71.20" height="42.10" rx="1.5" fill="#fff" fill-opacity="0.85" stroke="#dedede" stroke-width="0.8"/>
<line x1="501.00" y1="484.90" x2="512.10" y2="484.90" stroke="#333" stroke-width="0.7" stroke-dasharray="0.8 0.8"/>
<text x="515.80" y="486.81" font-size="5.72" text-anchor="start" fill="#262626" textLength="51.46" lengthAdjust="spacingAndGlyphs" stroke="#262626" stroke-width="0.09">Perfectly calibrated</text>
<line x1="501.00" y1="492.80" x2="512.10" y2="492.80" stroke="#1b9e77" stroke-width="1.1"/>
<path d="M506.55,490.60 L508.55,494.30 L504.55,494.30 Z" fill="#1b9e77"/>
<text x="515.80" y="494.71" font-size="5.72" text-anchor="start" fill="#262626" textLength="39.89" lengthAdjust="spacingAndGlyphs" stroke="#262626" stroke-width="0.09">Random Forest</text>
<line x1="501.00" y1="500.70" x2="512.10" y2="500.70" stroke="#d95f02" stroke-width="1.1"/>
<path d="M506.55,502.90 L508.55,499.20 L504.55,499.20 Z" fill="#d95f02"/>
<text x="515.80" y="502.61" font-size="5.72" text-anchor="start" fill="#262626" textLength="50.84" lengthAdjust="spacingAndGlyphs" stroke="#262626" stroke-width="0.09">Logistic Regression</text>
<line x1="501.00" y1="508.60" x2="512.10" y2="508.60" stroke="#7570b3" stroke-width="1.1"/>
<rect x="504.85" y="506.90" width="3.40" height="3.40" fill="#7570b3"/>
<text x="515.80" y="510.51" font-size="5.72" text-anchor="start" fill="#262626" textLength="41.30" lengthAdjust="spacingAndGlyphs" stroke="#262626" stroke-width="0.09">Neural Network</text>
<line x1="501.00" y1="516.50" x2="512.10" y2="516.50" stroke="#e7298a" stroke-width="1.1"/>
<circle cx="506.55" cy="516.50" r="1.90" fill="#e7298a"/>
<text x="515.80" y="518.41" font-size="5.72" text-anchor="start" fill="#262626" textLength="50.14" lengthAdjust="spacingAndGlyphs" stroke="#262626" stroke-width="0.09">Mixed Naive Bayes</text>
<path d="M59.80,728.40 L59.80,668.40 L66.60,668.40 L66.60,674.50 L73.40,674.50 L73.40,688.23 L80.20,688.23 L80.20,706.08 L87.00,706.08 L87.00,714.39 L93.80,714.39 L93.80,721.90 L100.60,721.90 L100.60,725.80 L107.40,725.80 L107.40,727.50 L114.20,727.50 L114.20,728.40 L121.00,728.40 L121.00,728.40 L127.80,728.40 L127.80,728.40 Z" fill="#1b9e77"/>
<rect x="56.4" y="665.8" width="74.80" height="62.60" fill="none" stroke="#606060" stroke-width="0.9"/>
<line x1="59.80" y1="728.4" x2="59.80" y2="730.6" stroke="#777" stroke-width="0.7"/>
<text x="59.80" y="736.67" font-size="5.62" text-anchor="middle" fill="#333" textLength="8.27" lengthAdjust="spacingAndGlyphs" stroke="#333" stroke-width="0.09">0.0</text>
<line x1="93.80" y1="728.4" x2="93.80" y2="730.6" stroke="#777" stroke-width="0.7"/>
<text x="93.80" y="736.67" font-size="5.62" text-anchor="middle" fill="#333" textLength="8.27" lengthAdjust="spacingAndGlyphs" stroke="#333" stroke-width="0.09">0.5</text>
<line x1="127.80" y1="728.4" x2="127.80" y2="730.6" stroke="#777" stroke-width="0.7"/>
<text x="127.80" y="736.67" font-size="5.62" text-anchor="middle" fill="#333" textLength="8.27" lengthAdjust="spacingAndGlyphs" stroke="#333" stroke-width="0.09">1.0</text>
<line x1="54.199999999999996" y1="728.40" x2="56.4" y2="728.40" stroke="#777" stroke-width="0.7"/>
<text x="52.90" y="730.27" font-size="5.62" text-anchor="end" fill="#333" textLength="3.31" lengthAdjust="spacingAndGlyphs" stroke="#333" stroke-width="0.09">0</text>
<line x1="54.199999999999996" y1="717.10" x2="56.4" y2="717.10" stroke="#777" stroke-width="0.7"/>
<text x="52.90" y="718.97" font-size="5.62" text-anchor="end" fill="#333" textLength="13.23" lengthAdjust="spacingAndGlyphs" stroke="#333" stroke-width="0.09">2000</text>
<line x1="54.199999999999996" y1="705.80" x2="56.4" y2="705.80" stroke="#777" stroke-width="0.7"/>
<text x="52.90" y="707.67" font-size="5.62" text-anchor="end" fill="#333" textLength="13.23" lengthAdjust="spacingAndGlyphs" stroke="#333" stroke-width="0.09">4000</text>
<line x1="54.199999999999996" y1="694.50" x2="56.4" y2="694.50" stroke="#777" stroke-width="0.7"/>
<text x="52.90" y="696.37" font-size="5.62" text-anchor="end" fill="#333" textLength="13.23" lengthAdjust="spacingAndGlyphs" stroke="#333" stroke-width="0.09">6000</text>
<line x1="54.199999999999996" y1="683.20" x2="56.4" y2="683.20" stroke="#777" stroke-width="0.7"/>
<text x="52.90" y="685.07" font-size="5.62" text-anchor="end" fill="#333" textLength="13.23" lengthAdjust="spacingAndGlyphs" stroke="#333" stroke-width="0.09">8000</text>
<line x1="54.199999999999996" y1="671.90" x2="56.4" y2="671.90" stroke="#777" stroke-width="0.7"/>
<text x="52.90" y="673.77" font-size="5.62" text-anchor="end" fill="#333" textLength="16.54" lengthAdjust="spacingAndGlyphs" stroke="#333" stroke-width="0.09">10000</text>
<text x="93.80" y="662.50" font-size="6.80" text-anchor="middle" fill="#262626" textLength="47.42" lengthAdjust="spacingAndGlyphs" stroke="#262626" stroke-width="0.18">Random Forest</text>
<text x="93.80" y="744.27" font-size="5.62" text-anchor="middle" fill="#262626" textLength="69.89" lengthAdjust="spacingAndGlyphs" stroke="#262626" stroke-width="0.09">Mean predicted probability</text>
<text x="32.66" y="697.10" font-size="5.62" text-anchor="middle" fill="#262626" transform="rotate(-90 32.66 697.10)" textLength="57.41" lengthAdjust="spacingAndGlyphs" stroke="#262626" stroke-width="0.09">number of predictions</text>
<path d="M169.70,728.40 L169.70,702.97 L176.51,702.97 L176.51,668.39 L183.32,668.39 L183.32,695.05 L190.13,695.05 L190.13,714.39 L196.94,714.39 L196.94,723.19 L203.75,723.19 L203.75,726.81 L210.56,726.81 L210.56,727.68 L217.37,727.68 L217.37,728.40 L224.18,728.40 L224.18,728.40 L230.99,728.40 L230.99,728.40 L237.80,728.40 L237.80,728.40 Z" fill="#d95f02"/>
<rect x="166.3" y="665.8" width="74.90" height="62.60" fill="none" stroke="#606060" stroke-width="0.9"/>
<line x1="169.70" y1="728.4" x2="169.70" y2="730.6" stroke="#777" stroke-width="0.7"/>
<text x="169.70" y="736.67" font-size="5.62" text-anchor="middle" fill="#333" textLength="8.27" lengthAdjust="spacingAndGlyphs" stroke="#333" stroke-width="0.09">0.0</text>
<line x1="203.75" y1="728.4" x2="203.75" y2="730.6" stroke="#777" stroke-width="0.7"/>
<text x="203.75" y="736.67" font-size="5.62" text-anchor="middle" fill="#333" textLength="8.27" lengthAdjust="spacingAndGlyphs" stroke="#333" stroke-width="0.09">0.5</text>
<line x1="237.80" y1="728.4" x2="237.80" y2="730.6" stroke="#777" stroke-width="0.7"/>
<text x="237.80" y="736.67" font-size="5.62" text-anchor="middle" fill="#333" textLength="8.27" lengthAdjust="spacingAndGlyphs" stroke="#333" stroke-width="0.09">1.0</text>
<line x1="164.10000000000002" y1="728.40" x2="166.3" y2="728.40" stroke="#777" stroke-width="0.7"/>
<text x="162.80" y="730.27" font-size="5.62" text-anchor="end" fill="#333" textLength="3.31" lengthAdjust="spacingAndGlyphs" stroke="#333" stroke-width="0.09">0</text>
<line x1="164.10000000000002" y1="708.50" x2="166.3" y2="708.50" stroke="#777" stroke-width="0.7"/>
<text x="162.80" y="710.37" font-size="5.62" text-anchor="end" fill="#333" textLength="13.23" lengthAdjust="spacingAndGlyphs" stroke="#333" stroke-width="0.09">5000</text>
<line x1="164.10000000000002" y1="688.60" x2="166.3" y2="688.60" stroke="#777" stroke-width="0.7"/>
<text x="162.80" y="690.48" font-size="5.62" text-anchor="end" fill="#333" textLength="16.54" lengthAdjust="spacingAndGlyphs" stroke="#333" stroke-width="0.09">10000</text>
<line x1="164.10000000000002" y1="668.71" x2="166.3" y2="668.71" stroke="#777" stroke-width="0.7"/>
<text x="162.80" y="670.58" font-size="5.62" text-anchor="end" fill="#333" textLength="16.54" lengthAdjust="spacingAndGlyphs" stroke="#333" stroke-width="0.09">15000</text>
<text x="203.75" y="662.50" font-size="6.80" text-anchor="middle" fill="#262626" textLength="60.43" lengthAdjust="spacingAndGlyphs" stroke="#262626" stroke-width="0.18">Logistic Regression</text>
<text x="203.75" y="744.27" font-size="5.62" text-anchor="middle" fill="#262626" textLength="69.89" lengthAdjust="spacingAndGlyphs" stroke="#262626" stroke-width="0.09">Mean predicted probability</text>
<text x="142.56" y="697.10" font-size="5.62" text-anchor="middle" fill="#262626" transform="rotate(-90 142.56 697.10)" textLength="57.41" lengthAdjust="spacingAndGlyphs" stroke="#262626" stroke-width="0.09">number of predictions</text>
<path d="M59.70,821.90 L59.70,792.66 L66.51,792.66 L66.51,761.51 L73.32,761.51 L73.32,785.44 L80.13,785.44 L80.13,805.82 L86.94,805.82 L86.94,815.99 L93.75,815.99 L93.75,820.00 L100.56,820.00 L100.56,821.27 L107.37,821.27 L107.37,821.69 L114.18,821.69 L114.18,821.90 L120.99,821.90 L120.99,821.90 L127.80,821.90 L127.80,821.90 Z" fill="#7570b3"/>
<rect x="56.3" y="758.6" width="74.90" height="63.30" fill="none" stroke="#606060" stroke-width="0.9"/>
<line x1="59.70" y1="821.9" x2="59.70" y2="824.1" stroke="#777" stroke-width="0.7"/>
<text x="59.70" y="830.17" font-size="5.62" text-anchor="middle" fill="#333" textLength="8.27" lengthAdjust="spacingAndGlyphs" stroke="#333" stroke-width="0.09">0.0</text>
<line x1="93.75" y1="821.9" x2="93.75" y2="824.1" stroke="#777" stroke-width="0.7"/>
<text x="93.75" y="830.17" font-size="5.62" text-anchor="middle" fill="#333" textLength="8.27" lengthAdjust="spacingAndGlyphs" stroke="#333" stroke-width="0.09">0.5</text>
<line x1="127.80" y1="821.9" x2="127.80" y2="824.1" stroke="#777" stroke-width="0.7"/>
<text x="127.80" y="830.17" font-size="5.62" text-anchor="middle" fill="#333" textLength="8.27" lengthAdjust="spacingAndGlyphs" stroke="#333" stroke-width="0.09">1.0</text>
<line x1="54.099999999999994" y1="821.90" x2="56.3" y2="821.90" stroke="#777" stroke-width="0.7"/>
<text x="52.80" y="823.77" font-size="5.62" text-anchor="end" fill="#333" textLength="3.31" lengthAdjust="spacingAndGlyphs" stroke="#333" stroke-width="0.09">0</text>
<line x1="54.099999999999994" y1="800.80" x2="56.3" y2="800.80" stroke="#777" stroke-width="0.7"/>
<text x="52.80" y="802.67" font-size="5.62" text-anchor="end" fill="#333" textLength="13.23" lengthAdjust="spacingAndGlyphs" stroke="#333" stroke-width="0.09">5000</text>
<line x1="54.099999999999994" y1="779.70" x2="56.3" y2="779.70" stroke="#777" stroke-width="0.7"/>
<text x="52.80" y="781.57" font-size="5.62" text-anchor="end" fill="#333" textLength="16.54" lengthAdjust="spacingAndGlyphs" stroke="#333" stroke-width="0.09">10000</text>
<line x1="54.099999999999994" y1="758.60" x2="56.3" y2="758.60" stroke="#777" stroke-width="0.7"/>
<text x="52.80" y="760.47" font-size="5.62" text-anchor="end" fill="#333" textLength="16.54" lengthAdjust="spacingAndGlyphs" stroke="#333" stroke-width="0.09">15000</text>
<text x="93.75" y="755.90" font-size="6.80" text-anchor="middle" fill="#262626" textLength="49.09" lengthAdjust="spacingAndGlyphs" stroke="#262626" stroke-width="0.18">Neural Network</text>
<text x="93.75" y="837.77" font-size="5.62" text-anchor="middle" fill="#262626" textLength="69.89" lengthAdjust="spacingAndGlyphs" stroke="#262626" stroke-width="0.09">Mean predicted probability</text>
<text x="32.56" y="790.25" font-size="5.62" text-anchor="middle" fill="#262626" transform="rotate(-90 32.56 790.25)" textLength="57.41" lengthAdjust="spacingAndGlyphs" stroke="#262626" stroke-width="0.09">number of predictions</text>
<path d="M169.30,821.90 L169.30,761.65 L176.10,761.65 L176.10,780.56 L182.90,780.56 L182.90,806.15 L189.70,806.15 L189.70,814.03 L196.50,814.03 L196.50,816.64 L203.30,816.64 L203.30,818.42 L210.10,818.42 L210.10,819.80 L216.90,819.80 L216.90,820.20 L223.70,820.20 L223.70,820.20 L230.50,820.20 L230.50,817.90 L237.30,817.90 L237.30,821.90 Z" fill="#e7298a"/>
<rect x="165.9" y="758.6" width="74.80" height="63.30" fill="none" stroke="#606060" stroke-width="0.9"/>
<line x1="169.30" y1="821.9" x2="169.30" y2="824.1" stroke="#777" stroke-width="0.7"/>
<text x="169.30" y="830.17" font-size="5.62" text-anchor="middle" fill="#333" textLength="8.27" lengthAdjust="spacingAndGlyphs" stroke="#333" stroke-width="0.09">0.0</text>
<line x1="203.30" y1="821.9" x2="203.30" y2="824.1" stroke="#777" stroke-width="0.7"/>
<text x="203.30" y="830.17" font-size="5.62" text-anchor="middle" fill="#333" textLength="8.27" lengthAdjust="spacingAndGlyphs" stroke="#333" stroke-width="0.09">0.5</text>
<line x1="237.30" y1="821.9" x2="237.30" y2="824.1" stroke="#777" stroke-width="0.7"/>
<text x="237.30" y="830.17" font-size="5.62" text-anchor="middle" fill="#333" textLength="8.27" lengthAdjust="spacingAndGlyphs" stroke="#333" stroke-width="0.09">1.0</text>
<line x1="163.70000000000002" y1="821.90" x2="165.9" y2="821.90" stroke="#777" stroke-width="0.7"/>
<text x="162.40" y="823.77" font-size="5.62" text-anchor="end" fill="#333" textLength="3.31" lengthAdjust="spacingAndGlyphs" stroke="#333" stroke-width="0.09">0</text>
<line x1="163.70000000000002" y1="802.12" x2="165.9" y2="802.12" stroke="#777" stroke-width="0.7"/>
<text x="162.40" y="803.99" font-size="5.62" text-anchor="end" fill="#333" textLength="13.23" lengthAdjust="spacingAndGlyphs" stroke="#333" stroke-width="0.09">5000</text>
<line x1="163.70000000000002" y1="782.34" x2="165.9" y2="782.34" stroke="#777" stroke-width="0.7"/>
<text x="162.40" y="784.21" font-size="5.62" text-anchor="end" fill="#333" textLength="16.54" lengthAdjust="spacingAndGlyphs" stroke="#333" stroke-width="0.09">10000</text>
<line x1="163.70000000000002" y1="762.56" x2="165.9" y2="762.56" stroke="#777" stroke-width="0.7"/>
<text x="162.40" y="764.43" font-size="5.62" text-anchor="end" fill="#333" textLength="16.54" lengthAdjust="spacingAndGlyphs" stroke="#333" stroke-width="0.09">15000</text>
<text x="203.30" y="755.90" font-size="6.80" text-anchor="middle" fill="#262626" textLength="59.60" lengthAdjust="spacingAndGlyphs" stroke="#262626" stroke-width="0.18">Mixed Naive Bayes</text>
<text x="203.30" y="837.77" font-size="5.62" text-anchor="middle" fill="#262626" textLength="69.89" lengthAdjust="spacingAndGlyphs" stroke="#262626" stroke-width="0.09">Mean predicted probability</text>
<text x="142.16" y="790.25" font-size="5.62" text-anchor="middle" fill="#262626" transform="rotate(-90 142.16 790.25)" textLength="57.41" lengthAdjust="spacingAndGlyphs" stroke="#262626" stroke-width="0.09">number of predictions</text>
<path d="M279.02,729.70 L279.02,729.18 L285.87,729.18 L285.87,726.20 L292.71,726.20 L292.71,717.80 L299.56,717.80 L299.56,710.43 L306.40,710.43 L306.40,692.40 L313.25,692.40 L313.25,671.91 L320.10,671.91 L320.10,668.76 L326.94,668.76 L326.94,675.76 L333.79,675.76 L333.79,688.20 L340.63,688.20 L340.63,709.91 L347.48,709.91 L347.48,729.70 Z" fill="#1b9e77"/>
<rect x="275.6" y="666.1" width="75.30" height="63.60" fill="none" stroke="#606060" stroke-width="0.9"/>
<line x1="279.02" y1="729.7" x2="279.02" y2="731.9000000000001" stroke="#777" stroke-width="0.7"/>
<text x="279.02" y="737.97" font-size="5.62" text-anchor="middle" fill="#333" textLength="8.27" lengthAdjust="spacingAndGlyphs" stroke="#333" stroke-width="0.09">0.0</text>
<line x1="313.25" y1="729.7" x2="313.25" y2="731.9000000000001" stroke="#777" stroke-width="0.7"/>
<text x="313.25" y="737.97" font-size="5.62" text-anchor="middle" fill="#333" textLength="8.27" lengthAdjust="spacingAndGlyphs" stroke="#333" stroke-width="0.09">0.5</text>
<line x1="347.48" y1="729.7" x2="347.48" y2="731.9000000000001" stroke="#777" stroke-width="0.7"/>
<text x="347.48" y="737.97" font-size="5.62" text-anchor="middle" fill="#333" textLength="8.27" lengthAdjust="spacingAndGlyphs" stroke="#333" stroke-width="0.09">1.0</text>
<line x1="273.40000000000003" y1="729.70" x2="275.6" y2="729.70" stroke="#777" stroke-width="0.7"/>
<text x="272.10" y="731.57" font-size="5.62" text-anchor="end" fill="#333" textLength="3.31" lengthAdjust="spacingAndGlyphs" stroke="#333" stroke-width="0.09">0</text>
<line x1="273.40000000000003" y1="712.45" x2="275.6" y2="712.45" stroke="#777" stroke-width="0.7"/>
<text x="272.10" y="714.32" font-size="5.62" text-anchor="end" fill="#333" textLength="13.23" lengthAdjust="spacingAndGlyphs" stroke="#333" stroke-width="0.09">2000</text>
<line x1="273.40000000000003" y1="695.20" x2="275.6" y2="695.20" stroke="#777" stroke-width="0.7"/>
<text x="272.10" y="697.07" font-size="5.62" text-anchor="end" fill="#333" textLength="13.23" lengthAdjust="spacingAndGlyphs" stroke="#333" stroke-width="0.09">4000</text>
<line x1="273.40000000000003" y1="677.95" x2="275.6" y2="677.95" stroke="#777" stroke-width="0.7"/>
<text x="272.10" y="679.82" font-size="5.62" text-anchor="end" fill="#333" textLength="13.23" lengthAdjust="spacingAndGlyphs" stroke="#333" stroke-width="0.09">6000</text>
<text x="313.25" y="662.80" font-size="6.80" text-anchor="middle" fill="#262626" textLength="47.42" lengthAdjust="spacingAndGlyphs" stroke="#262626" stroke-width="0.18">Random Forest</text>
<text x="313.25" y="745.57" font-size="5.62" text-anchor="middle" fill="#262626" textLength="69.89" lengthAdjust="spacingAndGlyphs" stroke="#262626" stroke-width="0.09">Mean predicted probability</text>
<text x="255.17" y="697.90" font-size="5.62" text-anchor="middle" fill="#262626" transform="rotate(-90 255.17 697.90)" textLength="57.41" lengthAdjust="spacingAndGlyphs" stroke="#262626" stroke-width="0.09">number of predictions</text>
<path d="M389.73,729.70 L389.73,729.70 L396.60,729.70 L396.60,729.70 L403.46,729.70 L403.46,728.30 L410.32,728.30 L410.32,723.04 L417.19,723.04 L417.19,710.08 L424.05,710.08 L424.05,688.00 L430.91,688.00 L430.91,668.73 L437.78,668.73 L437.78,680.12 L444.64,680.12 L444.64,716.91 L451.50,716.91 L451.50,729.70 L458.37,729.70 L458.37,729.70 Z" fill="#d95f02"/>
<rect x="386.3" y="666.1" width="75.50" height="63.60" fill="none" stroke="#606060" stroke-width="0.9"/>
<line x1="389.73" y1="729.7" x2="389.73" y2="731.9000000000001" stroke="#777" stroke-width="0.7"/>
<text x="389.73" y="737.97" font-size="5.62" text-anchor="middle" fill="#333" textLength="8.27" lengthAdjust="spacingAndGlyphs" stroke="#333" stroke-width="0.09">0.0</text>
<line x1="424.05" y1="729.7" x2="424.05" y2="731.9000000000001" stroke="#777" stroke-width="0.7"/>
<text x="424.05" y="737.97" font-size="5.62" text-anchor="middle" fill="#333" textLength="8.27" lengthAdjust="spacingAndGlyphs" stroke="#333" stroke-width="0.09">0.5</text>
<line x1="458.37" y1="729.7" x2="458.37" y2="731.9000000000001" stroke="#777" stroke-width="0.7"/>
<text x="458.37" y="737.97" font-size="5.62" text-anchor="middle" fill="#333" textLength="8.27" lengthAdjust="spacingAndGlyphs" stroke="#333" stroke-width="0.09">1.0</text>
<line x1="384.1" y1="729.70" x2="386.3" y2="729.70" stroke="#777" stroke-width="0.7"/>
<text x="382.80" y="731.57" font-size="5.62" text-anchor="end" fill="#333" textLength="3.31" lengthAdjust="spacingAndGlyphs" stroke="#333" stroke-width="0.09">0</text>
<line x1="384.1" y1="718.94" x2="386.3" y2="718.94" stroke="#777" stroke-width="0.7"/>
<text x="382.80" y="720.81" font-size="5.62" text-anchor="end" fill="#333" textLength="13.23" lengthAdjust="spacingAndGlyphs" stroke="#333" stroke-width="0.09">2000</text>
<line x1="384.1" y1="708.18" x2="386.3" y2="708.18" stroke="#777" stroke-width="0.7"/>
<text x="382.80" y="710.06" font-size="5.62" text-anchor="end" fill="#333" textLength="13.23" lengthAdjust="spacingAndGlyphs" stroke="#333" stroke-width="0.09">4000</text>
<line x1="384.1" y1="697.43" x2="386.3" y2="697.43" stroke="#777" stroke-width="0.7"/>
<text x="382.80" y="699.30" font-size="5.62" text-anchor="end" fill="#333" textLength="13.23" lengthAdjust="spacingAndGlyphs" stroke="#333" stroke-width="0.09">6000</text>
<line x1="384.1" y1="686.67" x2="386.3" y2="686.67" stroke="#777" stroke-width="0.7"/>
<text x="382.80" y="688.54" font-size="5.62" text-anchor="end" fill="#333" textLength="13.23" lengthAdjust="spacingAndGlyphs" stroke="#333" stroke-width="0.09">8000</text>
<line x1="384.1" y1="675.91" x2="386.3" y2="675.91" stroke="#777" stroke-width="0.7"/>
<text x="382.80" y="677.78" font-size="5.62" text-anchor="end" fill="#333" textLength="16.54" lengthAdjust="spacingAndGlyphs" stroke="#333" stroke-width="0.09">10000</text>
<text x="424.05" y="662.80" font-size="6.80" text-anchor="middle" fill="#262626" textLength="60.43" lengthAdjust="spacingAndGlyphs" stroke="#262626" stroke-width="0.18">Logistic Regression</text>
<text x="424.05" y="745.57" font-size="5.62" text-anchor="middle" fill="#262626" textLength="69.89" lengthAdjust="spacingAndGlyphs" stroke="#262626" stroke-width="0.09">Mean predicted probability</text>
<text x="362.56" y="697.90" font-size="5.62" text-anchor="middle" fill="#262626" transform="rotate(-90 362.56 697.90)" textLength="57.41" lengthAdjust="spacingAndGlyphs" stroke="#262626" stroke-width="0.09">number of predictions</text>
<path d="M279.02,823.80 L279.02,823.62 L285.87,823.62 L285.87,823.27 L292.71,823.27 L292.71,821.53 L299.56,821.53 L299.56,815.04 L306.40,815.04 L306.40,801.07 L313.25,801.07 L313.25,777.91 L320.10,777.91 L320.10,763.39 L326.94,763.39 L326.94,762.53 L333.79,762.53 L333.79,805.42 L340.63,805.42 L340.63,823.27 L347.48,823.27 L347.48,823.80 Z" fill="#7570b3"/>
<rect x="275.6" y="759.9" width="75.30" height="63.90" fill="none" stroke="#606060" stroke-width="0.9"/>
<line x1="279.02" y1="823.8" x2="279.02" y2="826.0" stroke="#777" stroke-width="0.7"/>
<text x="279.02" y="832.07" font-size="5.62" text-anchor="middle" fill="#333" textLength="8.27" lengthAdjust="spacingAndGlyphs" stroke="#333" stroke-width="0.09">0.0</text>
<line x1="313.25" y1="823.8" x2="313.25" y2="826.0" stroke="#777" stroke-width="0.7"/>
<text x="313.25" y="832.07" font-size="5.62" text-anchor="middle" fill="#333" textLength="8.27" lengthAdjust="spacingAndGlyphs" stroke="#333" stroke-width="0.09">0.5</text>
<line x1="347.48" y1="823.8" x2="347.48" y2="826.0" stroke="#777" stroke-width="0.7"/>
<text x="347.48" y="832.07" font-size="5.62" text-anchor="middle" fill="#333" textLength="8.27" lengthAdjust="spacingAndGlyphs" stroke="#333" stroke-width="0.09">1.0</text>
<line x1="273.40000000000003" y1="823.80" x2="275.6" y2="823.80" stroke="#777" stroke-width="0.7"/>
<text x="272.10" y="825.67" font-size="5.62" text-anchor="end" fill="#333" textLength="3.31" lengthAdjust="spacingAndGlyphs" stroke="#333" stroke-width="0.09">0</text>
<line x1="273.40000000000003" y1="811.55" x2="275.6" y2="811.55" stroke="#777" stroke-width="0.7"/>
<text x="272.10" y="813.42" font-size="5.62" text-anchor="end" fill="#333" textLength="13.23" lengthAdjust="spacingAndGlyphs" stroke="#333" stroke-width="0.09">2000</text>
<line x1="273.40000000000003" y1="799.29" x2="275.6" y2="799.29" stroke="#777" stroke-width="0.7"/>
<text x="272.10" y="801.17" font-size="5.62" text-anchor="end" fill="#333" textLength="13.23" lengthAdjust="spacingAndGlyphs" stroke="#333" stroke-width="0.09">4000</text>
<line x1="273.40000000000003" y1="787.04" x2="275.6" y2="787.04" stroke="#777" stroke-width="0.7"/>
<text x="272.10" y="788.91" font-size="5.62" text-anchor="end" fill="#333" textLength="13.23" lengthAdjust="spacingAndGlyphs" stroke="#333" stroke-width="0.09">6000</text>
<line x1="273.40000000000003" y1="774.79" x2="275.6" y2="774.79" stroke="#777" stroke-width="0.7"/>
<text x="272.10" y="776.66" font-size="5.62" text-anchor="end" fill="#333" textLength="13.23" lengthAdjust="spacingAndGlyphs" stroke="#333" stroke-width="0.09">8000</text>
<line x1="273.40000000000003" y1="762.53" x2="275.6" y2="762.53" stroke="#777" stroke-width="0.7"/>
<text x="272.10" y="764.41" font-size="5.62" text-anchor="end" fill="#333" textLength="16.54" lengthAdjust="spacingAndGlyphs" stroke="#333" stroke-width="0.09">10000</text>
<text x="313.25" y="757.20" font-size="6.80" text-anchor="middle" fill="#262626" textLength="49.09" lengthAdjust="spacingAndGlyphs" stroke="#262626" stroke-width="0.18">Neural Network</text>
<text x="313.25" y="839.67" font-size="5.62" text-anchor="middle" fill="#262626" textLength="69.89" lengthAdjust="spacingAndGlyphs" stroke="#262626" stroke-width="0.09">Mean predicted probability</text>
<text x="251.86" y="791.85" font-size="5.62" text-anchor="middle" fill="#262626" transform="rotate(-90 251.86 791.85)" textLength="57.41" lengthAdjust="spacingAndGlyphs" stroke="#262626" stroke-width="0.09">number of predictions</text>
<path d="M389.83,823.80 L389.83,818.20 L396.68,818.20 L396.68,820.82 L403.54,820.82 L403.54,819.42 L410.39,819.42 L410.39,816.79 L417.25,816.79 L417.25,812.42 L424.10,812.42 L424.10,802.79 L430.95,802.79 L430.95,785.81 L437.81,785.81 L437.81,762.53 L444.66,762.53 L444.66,787.03 L451.52,787.03 L451.52,822.05 L458.37,822.05 L458.37,823.80 Z" fill="#e7298a"/>
<rect x="386.4" y="759.9" width="75.40" height="63.90" fill="none" stroke="#606060" stroke-width="0.9"/>
<line x1="389.83" y1="823.8" x2="389.83" y2="826.0" stroke="#777" stroke-width="0.7"/>
<text x="389.83" y="832.07" font-size="5.62" text-anchor="middle" fill="#333" textLength="8.27" lengthAdjust="spacingAndGlyphs" stroke="#333" stroke-width="0.09">0.0</text>
<line x1="424.10" y1="823.8" x2="424.10" y2="826.0" stroke="#777" stroke-width="0.7"/>
<text x="424.10" y="832.07" font-size="5.62" text-anchor="middle" fill="#333" textLength="8.27" lengthAdjust="spacingAndGlyphs" stroke="#333" stroke-width="0.09">0.5</text>
<line x1="458.37" y1="823.8" x2="458.37" y2="826.0" stroke="#777" stroke-width="0.7"/>
<text x="458.37" y="832.07" font-size="5.62" text-anchor="middle" fill="#333" textLength="8.27" lengthAdjust="spacingAndGlyphs" stroke="#333" stroke-width="0.09">1.0</text>
<line x1="384.2" y1="823.80" x2="386.4" y2="823.80" stroke="#777" stroke-width="0.7"/>
<text x="382.90" y="825.67" font-size="5.62" text-anchor="end" fill="#333" textLength="3.31" lengthAdjust="spacingAndGlyphs" stroke="#333" stroke-width="0.09">0</text>
<line x1="384.2" y1="810.58" x2="386.4" y2="810.58" stroke="#777" stroke-width="0.7"/>
<text x="382.90" y="812.45" font-size="5.62" text-anchor="end" fill="#333" textLength="13.23" lengthAdjust="spacingAndGlyphs" stroke="#333" stroke-width="0.09">2500</text>
<line x1="384.2" y1="797.36" x2="386.4" y2="797.36" stroke="#777" stroke-width="0.7"/>
<text x="382.90" y="799.24" font-size="5.62" text-anchor="end" fill="#333" textLength="13.23" lengthAdjust="spacingAndGlyphs" stroke="#333" stroke-width="0.09">5000</text>
<line x1="384.2" y1="784.15" x2="386.4" y2="784.15" stroke="#777" stroke-width="0.7"/>
<text x="382.90" y="786.02" font-size="5.62" text-anchor="end" fill="#333" textLength="13.23" lengthAdjust="spacingAndGlyphs" stroke="#333" stroke-width="0.09">7500</text>
<line x1="384.2" y1="770.93" x2="386.4" y2="770.93" stroke="#777" stroke-width="0.7"/>
<text x="382.90" y="772.80" font-size="5.62" text-anchor="end" fill="#333" textLength="16.54" lengthAdjust="spacingAndGlyphs" stroke="#333" stroke-width="0.09">10000</text>
<text x="424.10" y="757.20" font-size="6.80" text-anchor="middle" fill="#262626" textLength="59.60" lengthAdjust="spacingAndGlyphs" stroke="#262626" stroke-width="0.18">Mixed Naive Bayes</text>
<text x="424.10" y="839.67" font-size="5.62" text-anchor="middle" fill="#262626" textLength="69.89" lengthAdjust="spacingAndGlyphs" stroke="#262626" stroke-width="0.09">Mean predicted probability</text>
<text x="362.66" y="791.85" font-size="5.62" text-anchor="middle" fill="#262626" transform="rotate(-90 362.66 791.85)" textLength="57.41" lengthAdjust="spacingAndGlyphs" stroke="#262626" stroke-width="0.09">number of predictions</text>
<path d="M500.47,730.20 L500.47,686.45 L507.20,686.45 L507.20,668.78 L513.94,668.78 L513.94,692.93 L520.68,692.93 L520.68,717.95 L527.41,717.95 L527.41,725.30 L534.15,725.30 L534.15,728.80 L540.89,728.80 L540.89,729.15 L547.62,729.15 L547.62,729.68 L554.36,729.68 L554.36,730.20 L561.10,730.20 L561.10,730.20 L567.83,730.20 L567.83,730.20 Z" fill="#1b9e77"/>
<rect x="497.1" y="665.8" width="74.10" height="64.40" fill="none" stroke="#606060" stroke-width="0.9"/>
<line x1="500.47" y1="730.2" x2="500.47" y2="732.4000000000001" stroke="#777" stroke-width="0.7"/>
<text x="500.47" y="738.47" font-size="5.62" text-anchor="middle" fill="#333" textLength="8.27" lengthAdjust="spacingAndGlyphs" stroke="#333" stroke-width="0.09">0.0</text>
<line x1="534.15" y1="730.2" x2="534.15" y2="732.4000000000001" stroke="#777" stroke-width="0.7"/>
<text x="534.15" y="738.47" font-size="5.62" text-anchor="middle" fill="#333" textLength="8.27" lengthAdjust="spacingAndGlyphs" stroke="#333" stroke-width="0.09">0.5</text>
<line x1="567.83" y1="730.2" x2="567.83" y2="732.4000000000001" stroke="#777" stroke-width="0.7"/>
<text x="567.83" y="738.47" font-size="5.62" text-anchor="middle" fill="#333" textLength="8.27" lengthAdjust="spacingAndGlyphs" stroke="#333" stroke-width="0.09">1.0</text>
<line x1="494.90000000000003" y1="730.20" x2="497.1" y2="730.20" stroke="#777" stroke-width="0.7"/>
<text x="493.60" y="732.07" font-size="5.62" text-anchor="end" fill="#333" textLength="3.31" lengthAdjust="spacingAndGlyphs" stroke="#333" stroke-width="0.09">0</text>
<line x1="494.90000000000003" y1="718.83" x2="497.1" y2="718.83" stroke="#777" stroke-width="0.7"/>
<text x="493.60" y="720.70" font-size="5.62" text-anchor="end" fill="#333" textLength="13.23" lengthAdjust="spacingAndGlyphs" stroke="#333" stroke-width="0.09">2500</text>
<line x1="494.90000000000003" y1="707.45" x2="497.1" y2="707.45" stroke="#777" stroke-width="0.7"/>
<text x="493.60" y="709.32" font-size="5.62" text-anchor="end" fill="#333" textLength="13.23" lengthAdjust="spacingAndGlyphs" stroke="#333" stroke-width="0.09">5000</text>
<line x1="494.90000000000003" y1="696.08" x2="497.1" y2="696.08" stroke="#777" stroke-width="0.7"/>
<text x="493.60" y="697.95" font-size="5.62" text-anchor="end" fill="#333" textLength="13.23" lengthAdjust="spacingAndGlyphs" stroke="#333" stroke-width="0.09">7500</text>
<line x1="494.90000000000003" y1="684.70" x2="497.1" y2="684.70" stroke="#777" stroke-width="0.7"/>
<text x="493.60" y="686.57" font-size="5.62" text-anchor="end" fill="#333" textLength="16.54" lengthAdjust="spacingAndGlyphs" stroke="#333" stroke-width="0.09">10000</text>
<line x1="494.90000000000003" y1="673.33" x2="497.1" y2="673.33" stroke="#777" stroke-width="0.7"/>
<text x="493.60" y="675.20" font-size="5.62" text-anchor="end" fill="#333" textLength="16.54" lengthAdjust="spacingAndGlyphs" stroke="#333" stroke-width="0.09">12500</text>
<text x="534.15" y="662.50" font-size="6.80" text-anchor="middle" fill="#262626" textLength="47.42" lengthAdjust="spacingAndGlyphs" stroke="#262626" stroke-width="0.18">Random Forest</text>
<text x="534.15" y="746.07" font-size="5.62" text-anchor="middle" fill="#262626" textLength="69.89" lengthAdjust="spacingAndGlyphs" stroke="#262626" stroke-width="0.09">Mean predicted probability</text>
<text x="473.36" y="698.00" font-size="5.62" text-anchor="middle" fill="#262626" transform="rotate(-90 473.36 698.00)" textLength="57.41" lengthAdjust="spacingAndGlyphs" stroke="#262626" stroke-width="0.09">number of predictions</text>
<path d="M609.58,730.10 L609.58,703.87 L616.35,703.87 L616.35,668.57 L623.11,668.57 L623.11,695.31 L629.87,695.31 L629.87,715.24 L636.64,715.24 L636.64,724.51 L643.40,724.51 L643.40,727.48 L650.16,727.48 L650.16,729.23 L656.93,729.23 L656.93,730.10 L663.69,730.10 L663.69,730.10 L670.45,730.10 L670.45,730.10 L677.22,730.10 L677.22,730.10 Z" fill="#d95f02"/>
<rect x="606.2" y="665.6" width="74.40" height="64.50" fill="none" stroke="#606060" stroke-width="0.9"/>
<line x1="609.58" y1="730.1" x2="609.58" y2="732.3000000000001" stroke="#777" stroke-width="0.7"/>
<text x="609.58" y="738.37" font-size="5.62" text-anchor="middle" fill="#333" textLength="8.27" lengthAdjust="spacingAndGlyphs" stroke="#333" stroke-width="0.09">0.0</text>
<line x1="643.40" y1="730.1" x2="643.40" y2="732.3000000000001" stroke="#777" stroke-width="0.7"/>
<text x="643.40" y="738.37" font-size="5.62" text-anchor="middle" fill="#333" textLength="8.27" lengthAdjust="spacingAndGlyphs" stroke="#333" stroke-width="0.09">0.5</text>
<line x1="677.22" y1="730.1" x2="677.22" y2="732.3000000000001" stroke="#777" stroke-width="0.7"/>
<text x="677.22" y="738.37" font-size="5.62" text-anchor="middle" fill="#333" textLength="8.27" lengthAdjust="spacingAndGlyphs" stroke="#333" stroke-width="0.09">1.0</text>
<line x1="604.0" y1="730.10" x2="606.2" y2="730.10" stroke="#777" stroke-width="0.7"/>
<text x="602.70" y="731.97" font-size="5.62" text-anchor="end" fill="#333" textLength="3.31" lengthAdjust="spacingAndGlyphs" stroke="#333" stroke-width="0.09">0</text>
<line x1="604.0" y1="709.71" x2="606.2" y2="709.71" stroke="#777" stroke-width="0.7"/>
<text x="602.70" y="711.58" font-size="5.62" text-anchor="end" fill="#333" textLength="13.23" lengthAdjust="spacingAndGlyphs" stroke="#333" stroke-width="0.09">5000</text>
<line x1="604.0" y1="689.31" x2="606.2" y2="689.31" stroke="#777" stroke-width="0.7"/>
<text x="602.70" y="691.19" font-size="5.62" text-anchor="end" fill="#333" textLength="16.54" lengthAdjust="spacingAndGlyphs" stroke="#333" stroke-width="0.09">10000</text>
<line x1="604.0" y1="668.92" x2="606.2" y2="668.92" stroke="#777" stroke-width="0.7"/>
<text x="602.70" y="670.79" font-size="5.62" text-anchor="end" fill="#333" textLength="16.54" lengthAdjust="spacingAndGlyphs" stroke="#333" stroke-width="0.09">15000</text>
<text x="643.40" y="662.30" font-size="6.80" text-anchor="middle" fill="#262626" textLength="60.43" lengthAdjust="spacingAndGlyphs" stroke="#262626" stroke-width="0.18">Logistic Regression</text>
<text x="643.40" y="745.97" font-size="5.62" text-anchor="middle" fill="#262626" textLength="69.89" lengthAdjust="spacingAndGlyphs" stroke="#262626" stroke-width="0.09">Mean predicted probability</text>
<text x="582.46" y="697.85" font-size="5.62" text-anchor="middle" fill="#262626" transform="rotate(-90 582.46 697.85)" textLength="57.41" lengthAdjust="spacingAndGlyphs" stroke="#262626" stroke-width="0.09">number of predictions</text>
<path d="M500.47,824.40 L500.47,820.72 L507.20,820.72 L507.20,762.48 L513.94,762.48 L513.94,807.56 L520.68,807.56 L520.68,823.87 L527.41,823.87 L527.41,824.40 L534.15,824.40 L534.15,824.40 L540.89,824.40 L540.89,824.40 L547.62,824.40 L547.62,824.40 L554.36,824.40 L554.36,824.40 L561.10,824.40 L561.10,824.40 L567.83,824.40 L567.83,824.40 Z" fill="#7570b3"/>
<rect x="497.1" y="759.5" width="74.10" height="64.90" fill="none" stroke="#606060" stroke-width="0.9"/>
<line x1="500.47" y1="824.4" x2="500.47" y2="826.6" stroke="#777" stroke-width="0.7"/>
<text x="500.47" y="832.67" font-size="5.62" text-anchor="middle" fill="#333" textLength="8.27" lengthAdjust="spacingAndGlyphs" stroke="#333" stroke-width="0.09">0.0</text>
<line x1="534.15" y1="824.4" x2="534.15" y2="826.6" stroke="#777" stroke-width="0.7"/>
<text x="534.15" y="832.67" font-size="5.62" text-anchor="middle" fill="#333" textLength="8.27" lengthAdjust="spacingAndGlyphs" stroke="#333" stroke-width="0.09">0.5</text>
<line x1="567.83" y1="824.4" x2="567.83" y2="826.6" stroke="#777" stroke-width="0.7"/>
<text x="567.83" y="832.67" font-size="5.62" text-anchor="middle" fill="#333" textLength="8.27" lengthAdjust="spacingAndGlyphs" stroke="#333" stroke-width="0.09">1.0</text>
<line x1="494.90000000000003" y1="824.40" x2="497.1" y2="824.40" stroke="#777" stroke-width="0.7"/>
<text x="493.60" y="826.27" font-size="5.62" text-anchor="end" fill="#333" textLength="3.31" lengthAdjust="spacingAndGlyphs" stroke="#333" stroke-width="0.09">0</text>
<line x1="494.90000000000003" y1="812.96" x2="497.1" y2="812.96" stroke="#777" stroke-width="0.7"/>
<text x="493.60" y="814.84" font-size="5.62" text-anchor="end" fill="#333" textLength="13.23" lengthAdjust="spacingAndGlyphs" stroke="#333" stroke-width="0.09">5000</text>
<line x1="494.90000000000003" y1="801.53" x2="497.1" y2="801.53" stroke="#777" stroke-width="0.7"/>
<text x="493.60" y="803.40" font-size="5.62" text-anchor="end" fill="#333" textLength="16.54" lengthAdjust="spacingAndGlyphs" stroke="#333" stroke-width="0.09">10000</text>
<line x1="494.90000000000003" y1="790.09" x2="497.1" y2="790.09" stroke="#777" stroke-width="0.7"/>
<text x="493.60" y="791.96" font-size="5.62" text-anchor="end" fill="#333" textLength="16.54" lengthAdjust="spacingAndGlyphs" stroke="#333" stroke-width="0.09">15000</text>
<line x1="494.90000000000003" y1="778.65" x2="497.1" y2="778.65" stroke="#777" stroke-width="0.7"/>
<text x="493.60" y="780.53" font-size="5.62" text-anchor="end" fill="#333" textLength="16.54" lengthAdjust="spacingAndGlyphs" stroke="#333" stroke-width="0.09">20000</text>
<line x1="494.90000000000003" y1="767.22" x2="497.1" y2="767.22" stroke="#777" stroke-width="0.7"/>
<text x="493.60" y="769.09" font-size="5.62" text-anchor="end" fill="#333" textLength="16.54" lengthAdjust="spacingAndGlyphs" stroke="#333" stroke-width="0.09">25000</text>
<text x="534.15" y="756.80" font-size="6.80" text-anchor="middle" fill="#262626" textLength="49.09" lengthAdjust="spacingAndGlyphs" stroke="#262626" stroke-width="0.18">Neural Network</text>
<text x="534.15" y="840.27" font-size="5.62" text-anchor="middle" fill="#262626" textLength="69.89" lengthAdjust="spacingAndGlyphs" stroke="#262626" stroke-width="0.09">Mean predicted probability</text>
<text x="473.36" y="791.95" font-size="5.62" text-anchor="middle" fill="#262626" transform="rotate(-90 473.36 791.95)" textLength="57.41" lengthAdjust="spacingAndGlyphs" stroke="#262626" stroke-width="0.09">number of predictions</text>
<path d="M609.58,824.40 L609.58,807.74 L616.35,807.74 L616.35,762.48 L623.11,762.48 L623.11,787.56 L629.87,787.56 L629.87,821.24 L636.64,821.24 L636.64,823.00 L643.40,823.00 L643.40,823.70 L650.16,823.70 L650.16,824.13 L656.93,824.13 L656.93,824.20 L663.69,824.20 L663.69,824.23 L670.45,824.23 L670.45,824.27 L677.22,824.27 L677.22,824.40 Z" fill="#e7298a"/>
<rect x="606.2" y="759.5" width="74.40" height="64.90" fill="none" stroke="#606060" stroke-width="0.9"/>
<line x1="609.58" y1="824.4" x2="609.58" y2="826.6" stroke="#777" stroke-width="0.7"/>
<text x="609.58" y="832.67" font-size="5.62" text-anchor="middle" fill="#333" textLength="8.27" lengthAdjust="spacingAndGlyphs" stroke="#333" stroke-width="0.09">0.0</text>
<line x1="643.40" y1="824.4" x2="643.40" y2="826.6" stroke="#777" stroke-width="0.7"/>
<text x="643.40" y="832.67" font-size="5.62" text-anchor="middle" fill="#333" textLength="8.27" lengthAdjust="spacingAndGlyphs" stroke="#333" stroke-width="0.09">0.5</text>
<line x1="677.22" y1="824.4" x2="677.22" y2="826.6" stroke="#777" stroke-width="0.7"/>
<text x="677.22" y="832.67" font-size="5.62" text-anchor="middle" fill="#333" textLength="8.27" lengthAdjust="spacingAndGlyphs" stroke="#333" stroke-width="0.09">1.0</text>
<line x1="604.0" y1="824.40" x2="606.2" y2="824.40" stroke="#777" stroke-width="0.7"/>
<text x="602.70" y="826.27" font-size="5.62" text-anchor="end" fill="#333" textLength="3.31" lengthAdjust="spacingAndGlyphs" stroke="#333" stroke-width="0.09">0</text>
<line x1="604.0" y1="807.74" x2="606.2" y2="807.74" stroke="#777" stroke-width="0.7"/>
<text x="602.70" y="809.61" font-size="5.62" text-anchor="end" fill="#333" textLength="13.23" lengthAdjust="spacingAndGlyphs" stroke="#333" stroke-width="0.09">5000</text>
<line x1="604.0" y1="791.07" x2="606.2" y2="791.07" stroke="#777" stroke-width="0.7"/>
<text x="602.70" y="792.95" font-size="5.62" text-anchor="end" fill="#333" textLength="16.54" lengthAdjust="spacingAndGlyphs" stroke="#333" stroke-width="0.09">10000</text>
<line x1="604.0" y1="774.41" x2="606.2" y2="774.41" stroke="#777" stroke-width="0.7"/>
<text x="602.70" y="776.28" font-size="5.62" text-anchor="end" fill="#333" textLength="16.54" lengthAdjust="spacingAndGlyphs" stroke="#333" stroke-width="0.09">15000</text>
<text x="643.40" y="756.80" font-size="6.80" text-anchor="middle" fill="#262626" textLength="59.60" lengthAdjust="spacingAndGlyphs" stroke="#262626" stroke-width="0.18">Mixed Naive Bayes</text>
<text x="643.40" y="840.27" font-size="5.62" text-anchor="middle" fill="#262626" textLength="69.89" lengthAdjust="spacingAndGlyphs" stroke="#262626" stroke-width="0.09">Mean predicted probability</text>
<text x="582.46" y="791.95" font-size="5.62" text-anchor="middle" fill="#262626" transform="rotate(-90 582.46 791.95)" textLength="57.41" lengthAdjust="spacingAndGlyphs" stroke="#262626" stroke-width="0.09">number of predictions</text>
</svg></body></html>
